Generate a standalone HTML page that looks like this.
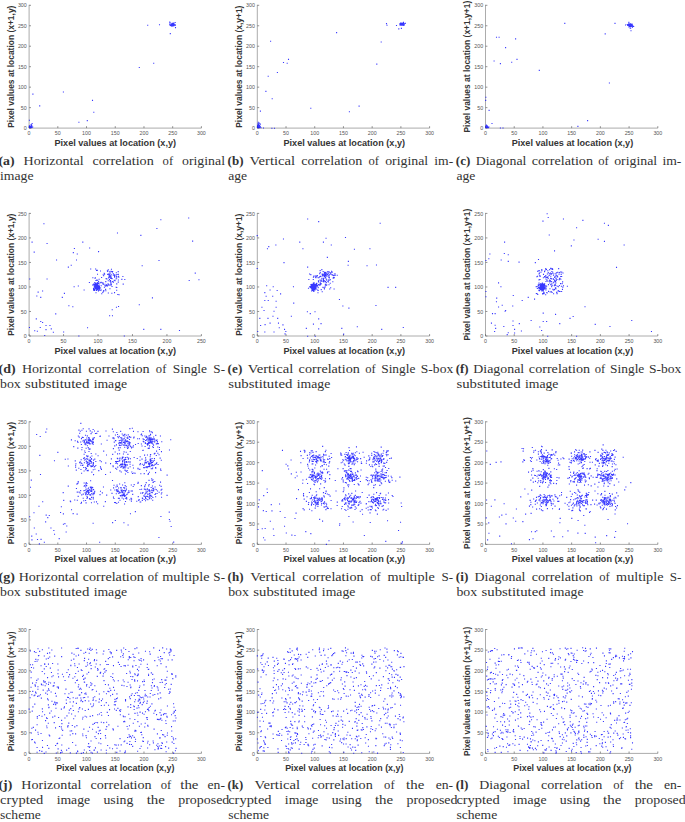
<!DOCTYPE html>
<html><head><meta charset="utf-8"><style>
html,body{margin:0;padding:0;background:#fff;width:685px;height:822px;overflow:hidden}
svg{display:block}
text{font-family:"Liberation Sans",sans-serif}
text.c{font-family:"Liberation Serif",serif;font-size:12.6px;fill:#333}
</style></head><body>
<svg width="685" height="822" viewBox="0 0 685 822">

<path d="M29.1 4.8V128.1H201.4" fill="none" stroke="#acacac" stroke-width="1"/>
<path d="M29.1 128.1v-1.9M57.82 128.1v-1.9M86.53 128.1v-1.9M115.25 128.1v-1.9M143.97 128.1v-1.9M172.68 128.1v-1.9M201.4 128.1v-1.9M29.1 128.1h1.9M29.1 107.63h1.9M29.1 87.17h1.9M29.1 66.7h1.9M29.1 46.23h1.9M29.1 25.77h1.9M29.1 5.3h1.9" stroke="#666" stroke-width="0.7"/>
<g transform="scale(1.08,1)" font-size="4.9" fill="#555555"><text x="26.94" y="135.4" text-anchor="middle">0</text><text x="53.53" y="135.4" text-anchor="middle">50</text><text x="80.12" y="135.4" text-anchor="middle">100</text><text x="106.71" y="135.4" text-anchor="middle">150</text><text x="133.3" y="135.4" text-anchor="middle">200</text><text x="159.89" y="135.4" text-anchor="middle">250</text><text x="186.48" y="135.4" text-anchor="middle">300</text><text x="24.72" y="130.3" text-anchor="end">0</text><text x="24.72" y="109.83" text-anchor="end">50</text><text x="24.72" y="89.37" text-anchor="end">100</text><text x="24.72" y="68.9" text-anchor="end">150</text><text x="24.72" y="48.43" text-anchor="end">200</text><text x="24.72" y="27.97" text-anchor="end">250</text><text x="24.72" y="7.5" text-anchor="end">300</text></g>
<text transform="translate(115.25,145.9) scale(1.08,1)" text-anchor="middle" font-weight="bold" font-size="8.45" fill="#353535">Pixel values at location (x,y)</text>
<text transform="translate(13.6,66.7) scale(1.08,1) rotate(-90)" text-anchor="middle" font-weight="bold" font-size="8.45" fill="#353535">Pixel values at location (x+1,y)</text>
<path d="M147.15 24.65h1.1v1.1h-1.1zM158.95 24.15h1.1v1.1h-1.1zM169.75 33.05h1.1v1.1h-1.1zM174.95 27.05h1.1v1.1h-1.1zM153.15 62.75h1.1v1.1h-1.1zM138.75 66.95h1.1v1.1h-1.1zM32.35 93.55h1.1v1.1h-1.1zM62.85 91.45h1.1v1.1h-1.1zM39.15 105.35h1.1v1.1h-1.1zM91.95 99.85h1.1v1.1h-1.1zM93.25 111.65h1.1v1.1h-1.1zM78.35 121.65h1.1v1.1h-1.1zM86.75 120.05h1.1v1.1h-1.1zM28.85 119.75h1.1v1.1h-1.1zM172.02 24.56h1.1v1.1h-1.1zM172.07 23.73h1.1v1.1h-1.1zM170.87 23.84h1.1v1.1h-1.1zM174.34 24.47h1.1v1.1h-1.1zM174.21 24.3h1.1v1.1h-1.1zM173.12 24.24h1.1v1.1h-1.1zM169.62 24.91h1.1v1.1h-1.1zM173.31 24.55h1.1v1.1h-1.1zM169.57 22.31h1.1v1.1h-1.1zM170.94 23.58h1.1v1.1h-1.1zM172.97 24h1.1v1.1h-1.1zM173.34 23.41h1.1v1.1h-1.1zM172.97 24.44h1.1v1.1h-1.1zM171.33 25.77h1.1v1.1h-1.1zM173.4 25.25h1.1v1.1h-1.1zM171.4 23.31h1.1v1.1h-1.1zM171.87 23.94h1.1v1.1h-1.1zM173.52 24.3h1.1v1.1h-1.1zM171.69 23.09h1.1v1.1h-1.1zM171.56 25.27h1.1v1.1h-1.1zM171.08 24.29h1.1v1.1h-1.1zM173.18 22.56h1.1v1.1h-1.1zM172.53 25.36h1.1v1.1h-1.1zM169.03 23.73h1.1v1.1h-1.1zM172.27 23.23h1.1v1.1h-1.1zM173.3 23.99h1.1v1.1h-1.1zM169.96 24.88h1.1v1.1h-1.1zM173.59 25h1.1v1.1h-1.1zM174.9 24.41h1.1v1.1h-1.1zM172.65 22.75h1.1v1.1h-1.1zM173.5 23.44h1.1v1.1h-1.1zM171.68 22.79h1.1v1.1h-1.1zM170.81 23.52h1.1v1.1h-1.1zM174.64 22.02h1.1v1.1h-1.1zM169.97 24.29h1.1v1.1h-1.1zM174.9 24.63h1.1v1.1h-1.1zM169.22 21.53h1.1v1.1h-1.1zM173.06 23.31h1.1v1.1h-1.1zM170.55 25.03h1.1v1.1h-1.1zM174.32 24.21h1.1v1.1h-1.1zM30 126.57h1.1v1.1h-1.1zM31.34 126.79h1.1v1.1h-1.1zM30.27 126.71h1.1v1.1h-1.1zM28.85 127.25h1.1v1.1h-1.1zM30.71 126.69h1.1v1.1h-1.1zM28.85 125.29h1.1v1.1h-1.1zM30.59 123.88h1.1v1.1h-1.1zM29.57 127.25h1.1v1.1h-1.1zM28.85 127.25h1.1v1.1h-1.1zM30.3 125.87h1.1v1.1h-1.1zM30.07 126.83h1.1v1.1h-1.1zM29.87 127.25h1.1v1.1h-1.1zM29.09 125.55h1.1v1.1h-1.1zM30.79 126.08h1.1v1.1h-1.1zM28.87 127.19h1.1v1.1h-1.1zM31.22 125.52h1.1v1.1h-1.1zM28.85 125.89h1.1v1.1h-1.1zM29.6 125.69h1.1v1.1h-1.1zM31.15 124.82h1.1v1.1h-1.1zM31.01 124.53h1.1v1.1h-1.1zM28.96 126.81h1.1v1.1h-1.1zM30.88 127.08h1.1v1.1h-1.1zM30.1 126.22h1.1v1.1h-1.1zM29.9 126.74h1.1v1.1h-1.1zM29.57 126.38h1.1v1.1h-1.1zM30.32 126.05h1.1v1.1h-1.1zM30.51 126.73h1.1v1.1h-1.1zM31.76 126.44h1.1v1.1h-1.1zM29.32 125.6h1.1v1.1h-1.1zM29.74 127.16h1.1v1.1h-1.1zM29.41 126.51h1.1v1.1h-1.1zM31.59 122.97h1.1v1.1h-1.1zM28.85 126.34h1.1v1.1h-1.1zM30.15 126.34h1.1v1.1h-1.1zM29.32 126.84h1.1v1.1h-1.1zM30.03 125.42h1.1v1.1h-1.1zM32.18 126.48h1.1v1.1h-1.1zM29.2 125.93h1.1v1.1h-1.1zM29.52 125.97h1.1v1.1h-1.1zM28.85 125.47h1.1v1.1h-1.1z" fill="#0000ff" fill-opacity="0.78"/>
<text class="c" x="-1.5" y="165" textLength="16.16" lengthAdjust="spacingAndGlyphs" font-weight="bold">(a)</text>
<text class="c" x="23.54" y="165" textLength="60.08" lengthAdjust="spacingAndGlyphs">Horizontal</text>
<text class="c" x="92.5" y="165" textLength="61.21" lengthAdjust="spacingAndGlyphs">correlation</text>
<text class="c" x="162.59" y="165" textLength="10.55" lengthAdjust="spacingAndGlyphs">of</text>
<text class="c" x="182.02" y="165" textLength="42.98" lengthAdjust="spacingAndGlyphs">original</text>
<text class="c" x="0" y="179.85" textLength="33.48" lengthAdjust="spacingAndGlyphs">image</text>
<path d="M257.3 4.8V128.1H429.6" fill="none" stroke="#acacac" stroke-width="1"/>
<path d="M257.3 128.1v-1.9M286.02 128.1v-1.9M314.73 128.1v-1.9M343.45 128.1v-1.9M372.17 128.1v-1.9M400.88 128.1v-1.9M429.6 128.1v-1.9M257.3 128.1h1.9M257.3 107.63h1.9M257.3 87.17h1.9M257.3 66.7h1.9M257.3 46.23h1.9M257.3 25.77h1.9M257.3 5.3h1.9" stroke="#666" stroke-width="0.7"/>
<g transform="scale(1.08,1)" font-size="4.9" fill="#555555"><text x="238.24" y="135.4" text-anchor="middle">0</text><text x="264.83" y="135.4" text-anchor="middle">50</text><text x="291.42" y="135.4" text-anchor="middle">100</text><text x="318.01" y="135.4" text-anchor="middle">150</text><text x="344.6" y="135.4" text-anchor="middle">200</text><text x="371.19" y="135.4" text-anchor="middle">250</text><text x="397.78" y="135.4" text-anchor="middle">300</text><text x="236.02" y="130.3" text-anchor="end">0</text><text x="236.02" y="109.83" text-anchor="end">50</text><text x="236.02" y="89.37" text-anchor="end">100</text><text x="236.02" y="68.9" text-anchor="end">150</text><text x="236.02" y="48.43" text-anchor="end">200</text><text x="236.02" y="27.97" text-anchor="end">250</text><text x="236.02" y="7.5" text-anchor="end">300</text></g>
<text transform="translate(344.25,145.9) scale(1.08,1)" text-anchor="middle" font-weight="bold" font-size="8.45" fill="#353535">Pixel values at location (x,y)</text>
<text transform="translate(241.8,66.7) scale(1.08,1) rotate(-90)" text-anchor="middle" font-weight="bold" font-size="8.45" fill="#353535">Pixel values at location (x,y+1)</text>
<path d="M385.95 23.05h1.1v1.1h-1.1zM386.45 24.65h1.1v1.1h-1.1zM395.95 24.95h1.1v1.1h-1.1zM398.25 28.35h1.1v1.1h-1.1zM400.85 27.85h1.1v1.1h-1.1zM336.05 32.05h1.1v1.1h-1.1zM270.05 40.75h1.1v1.1h-1.1zM380.65 41.45h1.1v1.1h-1.1zM287.95 58.85h1.1v1.1h-1.1zM282.95 61.95h1.1v1.1h-1.1zM286.65 62.75h1.1v1.1h-1.1zM376.25 63.55h1.1v1.1h-1.1zM276.85 71.95h1.1v1.1h-1.1zM267.65 75.65h1.1v1.1h-1.1zM265.35 90.85h1.1v1.1h-1.1zM271.65 98.25h1.1v1.1h-1.1zM310.25 107.75h1.1v1.1h-1.1zM358.55 105.55h1.1v1.1h-1.1zM348.85 111.15h1.1v1.1h-1.1zM259.85 110.55h1.1v1.1h-1.1zM257.75 121.65h1.1v1.1h-1.1zM262.95 127.45h1.1v1.1h-1.1zM271.35 127.65h1.1v1.1h-1.1zM273.95 127.65h1.1v1.1h-1.1zM402.86 22.83h1.1v1.1h-1.1zM401.68 24.32h1.1v1.1h-1.1zM402.69 24.69h1.1v1.1h-1.1zM399.88 23.4h1.1v1.1h-1.1zM401.37 24.09h1.1v1.1h-1.1zM402.95 21.77h1.1v1.1h-1.1zM402.95 22.64h1.1v1.1h-1.1zM402.5 22.61h1.1v1.1h-1.1zM401.94 24.49h1.1v1.1h-1.1zM401.59 23.78h1.1v1.1h-1.1zM402.63 23.75h1.1v1.1h-1.1zM401.65 24.72h1.1v1.1h-1.1zM402.9 23.44h1.1v1.1h-1.1zM404.77 22.85h1.1v1.1h-1.1zM402.76 23.46h1.1v1.1h-1.1zM401.9 24.14h1.1v1.1h-1.1zM401.99 24.1h1.1v1.1h-1.1zM400.07 22.59h1.1v1.1h-1.1zM402.43 22.98h1.1v1.1h-1.1zM400.62 22.62h1.1v1.1h-1.1zM403.14 24.17h1.1v1.1h-1.1zM403.37 22.99h1.1v1.1h-1.1zM401.75 22.85h1.1v1.1h-1.1zM402.59 24.76h1.1v1.1h-1.1zM400.77 24.74h1.1v1.1h-1.1zM402.84 23.53h1.1v1.1h-1.1zM399.58 24.63h1.1v1.1h-1.1zM401.64 23.23h1.1v1.1h-1.1zM402.19 23.94h1.1v1.1h-1.1zM403.4 22.94h1.1v1.1h-1.1zM403 24.69h1.1v1.1h-1.1zM403.35 23.52h1.1v1.1h-1.1zM400.93 24.36h1.1v1.1h-1.1zM401.88 23.74h1.1v1.1h-1.1zM403.32 23.47h1.1v1.1h-1.1zM399.22 23.38h1.1v1.1h-1.1zM399.71 24.22h1.1v1.1h-1.1zM402.1 23.22h1.1v1.1h-1.1zM401.74 24.23h1.1v1.1h-1.1zM401.84 24.58h1.1v1.1h-1.1zM401.68 24.38h1.1v1.1h-1.1zM403.39 24.78h1.1v1.1h-1.1zM401.01 24.27h1.1v1.1h-1.1zM399.69 22.89h1.1v1.1h-1.1zM399.59 24.4h1.1v1.1h-1.1zM400.39 23.64h1.1v1.1h-1.1zM401.54 23.63h1.1v1.1h-1.1zM401.1 23.81h1.1v1.1h-1.1zM403.72 23.68h1.1v1.1h-1.1zM402.33 24.35h1.1v1.1h-1.1zM257.87 124.21h1.1v1.1h-1.1zM257.55 127.25h1.1v1.1h-1.1zM257.05 125.07h1.1v1.1h-1.1zM258.96 126.88h1.1v1.1h-1.1zM258.06 126.9h1.1v1.1h-1.1zM258.2 124.32h1.1v1.1h-1.1zM257.05 125.02h1.1v1.1h-1.1zM258.88 125.11h1.1v1.1h-1.1zM257.24 124.85h1.1v1.1h-1.1zM257.05 125.7h1.1v1.1h-1.1zM257.05 126.32h1.1v1.1h-1.1zM257.05 126.28h1.1v1.1h-1.1zM257.47 123.33h1.1v1.1h-1.1zM258.7 125.49h1.1v1.1h-1.1zM257.05 124.71h1.1v1.1h-1.1zM258.31 125.25h1.1v1.1h-1.1zM258.75 126.82h1.1v1.1h-1.1zM258.65 126.27h1.1v1.1h-1.1zM259.25 126.71h1.1v1.1h-1.1zM258.46 123.14h1.1v1.1h-1.1zM258.86 127.25h1.1v1.1h-1.1zM257.78 125.24h1.1v1.1h-1.1zM259.8 123.56h1.1v1.1h-1.1zM258.47 127.25h1.1v1.1h-1.1zM257.22 126.75h1.1v1.1h-1.1zM259.75 125.69h1.1v1.1h-1.1zM258.56 127.02h1.1v1.1h-1.1zM257.23 125.73h1.1v1.1h-1.1zM258.31 126.92h1.1v1.1h-1.1zM258.02 125.6h1.1v1.1h-1.1zM257.14 125.38h1.1v1.1h-1.1zM258.85 125.98h1.1v1.1h-1.1zM257.28 124.76h1.1v1.1h-1.1zM260.45 127.25h1.1v1.1h-1.1zM258.62 122.48h1.1v1.1h-1.1zM258.61 126.47h1.1v1.1h-1.1zM259.57 126.41h1.1v1.1h-1.1zM257.99 126.53h1.1v1.1h-1.1zM257.05 127.19h1.1v1.1h-1.1zM258.34 124.94h1.1v1.1h-1.1z" fill="#0000ff" fill-opacity="0.78"/>
<text class="c" x="227.6" y="165" textLength="15.87" lengthAdjust="spacingAndGlyphs" font-weight="bold">(b)</text>
<text class="c" x="249.58" y="165" textLength="45.52" lengthAdjust="spacingAndGlyphs">Vertical</text>
<text class="c" x="301.21" y="165" textLength="61.21" lengthAdjust="spacingAndGlyphs">correlation</text>
<text class="c" x="368.53" y="165" textLength="10.55" lengthAdjust="spacingAndGlyphs">of</text>
<text class="c" x="385.19" y="165" textLength="42.98" lengthAdjust="spacingAndGlyphs">original</text>
<text class="c" x="434.28" y="165" textLength="18.92" lengthAdjust="spacingAndGlyphs">im-</text>
<text class="c" x="228.2" y="179.85" textLength="18.92" lengthAdjust="spacingAndGlyphs">age</text>
<path d="M485.5 4.8V128.1H657.8" fill="none" stroke="#acacac" stroke-width="1"/>
<path d="M485.5 128.1v-1.9M514.22 128.1v-1.9M542.93 128.1v-1.9M571.65 128.1v-1.9M600.37 128.1v-1.9M629.08 128.1v-1.9M657.8 128.1v-1.9M485.5 128.1h1.9M485.5 107.63h1.9M485.5 87.17h1.9M485.5 66.7h1.9M485.5 46.23h1.9M485.5 25.77h1.9M485.5 5.3h1.9" stroke="#666" stroke-width="0.7"/>
<g transform="scale(1.08,1)" font-size="4.9" fill="#555555"><text x="449.54" y="135.4" text-anchor="middle">0</text><text x="476.13" y="135.4" text-anchor="middle">50</text><text x="502.72" y="135.4" text-anchor="middle">100</text><text x="529.31" y="135.4" text-anchor="middle">150</text><text x="555.9" y="135.4" text-anchor="middle">200</text><text x="582.48" y="135.4" text-anchor="middle">250</text><text x="609.07" y="135.4" text-anchor="middle">300</text><text x="447.31" y="130.3" text-anchor="end">0</text><text x="447.31" y="109.83" text-anchor="end">50</text><text x="447.31" y="89.37" text-anchor="end">100</text><text x="447.31" y="68.9" text-anchor="end">150</text><text x="447.31" y="48.43" text-anchor="end">200</text><text x="447.31" y="27.97" text-anchor="end">250</text><text x="447.31" y="7.5" text-anchor="end">300</text></g>
<text transform="translate(572.45,145.9) scale(1.08,1)" text-anchor="middle" font-weight="bold" font-size="8.45" fill="#353535">Pixel values at location (x,y)</text>
<text transform="translate(470,66.7) scale(1.08,1) rotate(-90)" text-anchor="middle" font-weight="bold" font-size="8.45" fill="#353535">Pixel values at location (x+1,y+1)</text>
<path d="M564.25 22.85h1.1v1.1h-1.1zM614.45 22.85h1.1v1.1h-1.1zM624.95 24.45h1.1v1.1h-1.1zM630.45 30.15h1.1v1.1h-1.1zM604.65 33.35h1.1v1.1h-1.1zM495.95 36.75h1.1v1.1h-1.1zM498.55 36.75h1.1v1.1h-1.1zM515.05 38.35h1.1v1.1h-1.1zM505.05 47.05h1.1v1.1h-1.1zM493.55 60.45h1.1v1.1h-1.1zM499.85 63.05h1.1v1.1h-1.1zM511.15 61.75h1.1v1.1h-1.1zM516.45 58.85h1.1v1.1h-1.1zM538.75 69.85h1.1v1.1h-1.1zM608.85 82.45h1.1v1.1h-1.1zM485.35 96.65h1.1v1.1h-1.1zM485.15 99.85h1.1v1.1h-1.1zM488.55 109.85h1.1v1.1h-1.1zM491.45 122.95h1.1v1.1h-1.1zM587.05 120.05h1.1v1.1h-1.1zM577.35 125.85h1.1v1.1h-1.1zM499.85 127.45h1.1v1.1h-1.1zM502.45 127.45h1.1v1.1h-1.1zM631.94 26.74h1.1v1.1h-1.1zM627.85 24.02h1.1v1.1h-1.1zM630.39 24.95h1.1v1.1h-1.1zM629.35 23.68h1.1v1.1h-1.1zM633.13 25.89h1.1v1.1h-1.1zM628.16 23.27h1.1v1.1h-1.1zM632.5 25.84h1.1v1.1h-1.1zM632.68 25.64h1.1v1.1h-1.1zM628.64 25.04h1.1v1.1h-1.1zM626.71 23.93h1.1v1.1h-1.1zM629.86 25.33h1.1v1.1h-1.1zM628.86 24.61h1.1v1.1h-1.1zM630.64 25.16h1.1v1.1h-1.1zM630.91 24.98h1.1v1.1h-1.1zM629.46 25.62h1.1v1.1h-1.1zM630.02 23.84h1.1v1.1h-1.1zM629.01 24.75h1.1v1.1h-1.1zM629.79 24.92h1.1v1.1h-1.1zM629.95 24.94h1.1v1.1h-1.1zM629.75 23.37h1.1v1.1h-1.1zM630.58 25.91h1.1v1.1h-1.1zM630.6 24.54h1.1v1.1h-1.1zM630.62 23.69h1.1v1.1h-1.1zM627.11 24.82h1.1v1.1h-1.1zM628.55 25.56h1.1v1.1h-1.1zM628.32 21.86h1.1v1.1h-1.1zM628.39 26.49h1.1v1.1h-1.1zM629.38 23.24h1.1v1.1h-1.1zM628.8 25.32h1.1v1.1h-1.1zM630.7 24.94h1.1v1.1h-1.1zM632.18 25.53h1.1v1.1h-1.1zM629.92 25.41h1.1v1.1h-1.1zM632.43 25.82h1.1v1.1h-1.1zM631.49 23.56h1.1v1.1h-1.1zM629.73 25.55h1.1v1.1h-1.1zM629.51 25.93h1.1v1.1h-1.1zM630.84 25.75h1.1v1.1h-1.1zM629.63 27.55h1.1v1.1h-1.1zM631.81 24.51h1.1v1.1h-1.1zM630.09 27.6h1.1v1.1h-1.1zM629.44 25.71h1.1v1.1h-1.1zM631.42 24.76h1.1v1.1h-1.1zM628.2 24.96h1.1v1.1h-1.1zM630.49 25.99h1.1v1.1h-1.1zM631.12 24.78h1.1v1.1h-1.1zM631.23 25.34h1.1v1.1h-1.1zM630.26 24.81h1.1v1.1h-1.1zM629.58 25.5h1.1v1.1h-1.1zM628.37 24.06h1.1v1.1h-1.1zM629.96 23.14h1.1v1.1h-1.1zM485.61 125.14h1.1v1.1h-1.1zM485.37 127.2h1.1v1.1h-1.1zM486.62 126.71h1.1v1.1h-1.1zM485.82 125.62h1.1v1.1h-1.1zM487.88 127.16h1.1v1.1h-1.1zM487.14 126.04h1.1v1.1h-1.1zM485.86 125.29h1.1v1.1h-1.1zM486.83 127.25h1.1v1.1h-1.1zM485.25 126.71h1.1v1.1h-1.1zM486.68 125.34h1.1v1.1h-1.1zM485.25 125.9h1.1v1.1h-1.1zM485.42 125.63h1.1v1.1h-1.1zM486.08 126.95h1.1v1.1h-1.1zM486.68 127.25h1.1v1.1h-1.1zM487.55 127.25h1.1v1.1h-1.1zM485.25 126.35h1.1v1.1h-1.1zM485.25 125.89h1.1v1.1h-1.1zM485.97 126.75h1.1v1.1h-1.1zM486.54 125.48h1.1v1.1h-1.1zM485.25 126.73h1.1v1.1h-1.1zM485.85 126.5h1.1v1.1h-1.1zM485.99 126.14h1.1v1.1h-1.1zM486.75 127.03h1.1v1.1h-1.1zM485.96 126.21h1.1v1.1h-1.1zM485.88 124.57h1.1v1.1h-1.1zM485.25 126.78h1.1v1.1h-1.1zM485.25 126.91h1.1v1.1h-1.1zM486.2 125.65h1.1v1.1h-1.1zM485.8 126.5h1.1v1.1h-1.1zM486.51 127.24h1.1v1.1h-1.1zM486.01 126.07h1.1v1.1h-1.1zM485.91 126.7h1.1v1.1h-1.1zM486.78 126.99h1.1v1.1h-1.1zM485.33 125.67h1.1v1.1h-1.1zM485.68 126.16h1.1v1.1h-1.1zM485.25 126.66h1.1v1.1h-1.1zM485.56 126.83h1.1v1.1h-1.1zM486.57 126.42h1.1v1.1h-1.1zM488.37 126.49h1.1v1.1h-1.1zM487.15 126.85h1.1v1.1h-1.1z" fill="#0000ff" fill-opacity="0.78"/>
<text class="c" x="455.8" y="165" textLength="14.53" lengthAdjust="spacingAndGlyphs" font-weight="bold">(c)</text>
<text class="c" x="475.66" y="165" textLength="50.76" lengthAdjust="spacingAndGlyphs">Diagonal</text>
<text class="c" x="531.75" y="165" textLength="61.21" lengthAdjust="spacingAndGlyphs">correlation</text>
<text class="c" x="598.29" y="165" textLength="10.55" lengthAdjust="spacingAndGlyphs">of</text>
<text class="c" x="614.17" y="165" textLength="42.98" lengthAdjust="spacingAndGlyphs">original</text>
<text class="c" x="662.48" y="165" textLength="18.92" lengthAdjust="spacingAndGlyphs">im-</text>
<text class="c" x="456.4" y="179.85" textLength="18.92" lengthAdjust="spacingAndGlyphs">age</text>
<path d="M29.1 212.9V336H201.4" fill="none" stroke="#acacac" stroke-width="1"/>
<path d="M29.1 336v-1.9M63.56 336v-1.9M98.02 336v-1.9M132.48 336v-1.9M166.94 336v-1.9M201.4 336v-1.9M29.1 336h1.9M29.1 311.48h1.9M29.1 286.96h1.9M29.1 262.44h1.9M29.1 237.92h1.9M29.1 213.4h1.9" stroke="#666" stroke-width="0.7"/>
<g transform="scale(1.08,1)" font-size="4.9" fill="#555555"><text x="26.94" y="343.3" text-anchor="middle">0</text><text x="58.85" y="343.3" text-anchor="middle">50</text><text x="90.76" y="343.3" text-anchor="middle">100</text><text x="122.67" y="343.3" text-anchor="middle">150</text><text x="154.57" y="343.3" text-anchor="middle">200</text><text x="186.48" y="343.3" text-anchor="middle">250</text><text x="24.72" y="338.2" text-anchor="end">0</text><text x="24.72" y="313.68" text-anchor="end">50</text><text x="24.72" y="289.16" text-anchor="end">100</text><text x="24.72" y="264.64" text-anchor="end">150</text><text x="24.72" y="240.12" text-anchor="end">200</text><text x="24.72" y="215.6" text-anchor="end">250</text></g>
<text transform="translate(115.25,353.8) scale(1.08,1)" text-anchor="middle" font-weight="bold" font-size="8.45" fill="#353535">Pixel values at location (x,y)</text>
<text transform="translate(13.6,274.7) scale(1.08,1) rotate(-90)" text-anchor="middle" font-weight="bold" font-size="8.45" fill="#353535">Pixel values at location (x+1,y)</text>
<path d="M97.94 290.37h1.1v1.1h-1.1zM94.85 286h1.1v1.1h-1.1zM97.09 282.51h1.1v1.1h-1.1zM96.63 284.28h1.1v1.1h-1.1zM97.36 284.83h1.1v1.1h-1.1zM96.94 286.67h1.1v1.1h-1.1zM96.93 288.21h1.1v1.1h-1.1zM98.05 288.11h1.1v1.1h-1.1zM96.5 282.87h1.1v1.1h-1.1zM95.72 286.38h1.1v1.1h-1.1zM98.02 286.37h1.1v1.1h-1.1zM94.76 285.98h1.1v1.1h-1.1zM97.05 285.23h1.1v1.1h-1.1zM94.81 283.49h1.1v1.1h-1.1zM98.85 286.38h1.1v1.1h-1.1zM96.54 287.12h1.1v1.1h-1.1zM98.43 287.59h1.1v1.1h-1.1zM97.21 287.21h1.1v1.1h-1.1zM94.94 285.21h1.1v1.1h-1.1zM98.3 286.43h1.1v1.1h-1.1zM94.97 285.06h1.1v1.1h-1.1zM96.01 285.89h1.1v1.1h-1.1zM98.61 284.52h1.1v1.1h-1.1zM95.23 282.6h1.1v1.1h-1.1zM96.1 285.1h1.1v1.1h-1.1zM95.02 286.48h1.1v1.1h-1.1zM93.2 283.43h1.1v1.1h-1.1zM98.35 288.44h1.1v1.1h-1.1zM93.6 289.11h1.1v1.1h-1.1zM98.04 287.18h1.1v1.1h-1.1zM95.99 286.93h1.1v1.1h-1.1zM95.89 288.22h1.1v1.1h-1.1zM96.13 288.81h1.1v1.1h-1.1zM95.97 285.9h1.1v1.1h-1.1zM96.87 286.8h1.1v1.1h-1.1zM94.6 286.14h1.1v1.1h-1.1zM95.29 283.8h1.1v1.1h-1.1zM97.36 286.6h1.1v1.1h-1.1zM95.31 287.58h1.1v1.1h-1.1zM94.54 287h1.1v1.1h-1.1zM96.58 285.55h1.1v1.1h-1.1zM97.03 282.91h1.1v1.1h-1.1zM94.93 286.39h1.1v1.1h-1.1zM100.71 289.52h1.1v1.1h-1.1zM95.23 286.13h1.1v1.1h-1.1zM96.35 285.73h1.1v1.1h-1.1zM95.7 285.8h1.1v1.1h-1.1zM96.18 285.12h1.1v1.1h-1.1zM92.96 287.89h1.1v1.1h-1.1zM96.09 288.13h1.1v1.1h-1.1zM94.36 285.36h1.1v1.1h-1.1zM95.02 285.35h1.1v1.1h-1.1zM97.33 285.9h1.1v1.1h-1.1zM96.93 286.58h1.1v1.1h-1.1zM93.76 286.46h1.1v1.1h-1.1zM96.84 287.29h1.1v1.1h-1.1zM95.93 285.16h1.1v1.1h-1.1zM94.64 285.34h1.1v1.1h-1.1zM99.17 287.33h1.1v1.1h-1.1zM96.33 286.66h1.1v1.1h-1.1zM98.64 285.88h1.1v1.1h-1.1zM97.58 287.56h1.1v1.1h-1.1zM96.06 286.43h1.1v1.1h-1.1zM93.15 284.01h1.1v1.1h-1.1zM97.58 289.33h1.1v1.1h-1.1zM97.32 286.63h1.1v1.1h-1.1zM96.83 285.8h1.1v1.1h-1.1zM93.61 286.76h1.1v1.1h-1.1zM98.56 287.37h1.1v1.1h-1.1zM94.4 288.68h1.1v1.1h-1.1zM94.07 285.85h1.1v1.1h-1.1zM98.89 285.69h1.1v1.1h-1.1zM96.5 282.69h1.1v1.1h-1.1zM95.23 287.53h1.1v1.1h-1.1zM96.97 285.5h1.1v1.1h-1.1zM94.41 288.36h1.1v1.1h-1.1zM96.57 286h1.1v1.1h-1.1zM93.93 286.75h1.1v1.1h-1.1zM95.19 285.64h1.1v1.1h-1.1zM95.9 286.55h1.1v1.1h-1.1zM95.51 284.65h1.1v1.1h-1.1zM98.39 287.02h1.1v1.1h-1.1zM97.49 287.67h1.1v1.1h-1.1zM96.21 285.16h1.1v1.1h-1.1zM98.6 287.05h1.1v1.1h-1.1zM95.97 286.08h1.1v1.1h-1.1zM93.61 286.38h1.1v1.1h-1.1zM94.97 285.79h1.1v1.1h-1.1zM94.22 289.71h1.1v1.1h-1.1zM96.15 285.98h1.1v1.1h-1.1zM95.18 284.93h1.1v1.1h-1.1zM95.64 287.42h1.1v1.1h-1.1zM96.88 289.02h1.1v1.1h-1.1zM94.97 286.44h1.1v1.1h-1.1zM97.5 286.68h1.1v1.1h-1.1zM96.6 287.5h1.1v1.1h-1.1zM96.59 283.64h1.1v1.1h-1.1zM94.96 282.46h1.1v1.1h-1.1zM95.03 286.38h1.1v1.1h-1.1zM96.38 284.7h1.1v1.1h-1.1zM94.05 289.91h1.1v1.1h-1.1zM97.09 285.08h1.1v1.1h-1.1zM97.12 282.02h1.1v1.1h-1.1zM96.43 285.99h1.1v1.1h-1.1zM97.63 285.8h1.1v1.1h-1.1zM98.84 288.47h1.1v1.1h-1.1zM95.47 292.15h1.1v1.1h-1.1zM97.44 287.03h1.1v1.1h-1.1zM97.62 282.82h1.1v1.1h-1.1zM96.08 286.83h1.1v1.1h-1.1zM95.27 287.81h1.1v1.1h-1.1zM95.05 285.34h1.1v1.1h-1.1zM96.15 286.3h1.1v1.1h-1.1zM95.8 284.89h1.1v1.1h-1.1zM96.91 286.65h1.1v1.1h-1.1zM97.19 286.66h1.1v1.1h-1.1zM94.18 283.98h1.1v1.1h-1.1zM96.86 288.01h1.1v1.1h-1.1zM97.88 285.83h1.1v1.1h-1.1zM93.5 283.73h1.1v1.1h-1.1zM96.64 284.92h1.1v1.1h-1.1zM96.42 286.66h1.1v1.1h-1.1zM93.53 284.79h1.1v1.1h-1.1zM96.14 286.89h1.1v1.1h-1.1zM96.67 286.28h1.1v1.1h-1.1zM97.21 287.03h1.1v1.1h-1.1zM96.03 289.98h1.1v1.1h-1.1zM95.39 285.28h1.1v1.1h-1.1zM98.3 287.02h1.1v1.1h-1.1zM95.89 283.77h1.1v1.1h-1.1zM95.55 285.19h1.1v1.1h-1.1zM98.87 286.34h1.1v1.1h-1.1zM98.12 287.59h1.1v1.1h-1.1zM96.44 286.54h1.1v1.1h-1.1zM96.28 284.53h1.1v1.1h-1.1zM100.04 287.52h1.1v1.1h-1.1zM95.14 285.58h1.1v1.1h-1.1zM94.35 285.58h1.1v1.1h-1.1zM97.04 286.87h1.1v1.1h-1.1zM96.97 288.99h1.1v1.1h-1.1zM97.35 288.99h1.1v1.1h-1.1zM94.94 287.34h1.1v1.1h-1.1zM95.43 284.98h1.1v1.1h-1.1zM96.23 287.07h1.1v1.1h-1.1zM96.99 283.77h1.1v1.1h-1.1zM96.1 285.8h1.1v1.1h-1.1zM98.14 285.96h1.1v1.1h-1.1zM93.97 282.26h1.1v1.1h-1.1zM99.74 289.72h1.1v1.1h-1.1zM96.03 285.71h1.1v1.1h-1.1zM97.69 285.29h1.1v1.1h-1.1zM95.64 288.17h1.1v1.1h-1.1zM96.26 284.69h1.1v1.1h-1.1zM94.29 288.12h1.1v1.1h-1.1zM96.05 289.64h1.1v1.1h-1.1zM95.66 287.14h1.1v1.1h-1.1zM96.84 287.58h1.1v1.1h-1.1zM94.63 287.07h1.1v1.1h-1.1zM96.01 287.52h1.1v1.1h-1.1zM96.11 285.16h1.1v1.1h-1.1zM117.66 271.1h1.1v1.1h-1.1zM108.16 277.35h1.1v1.1h-1.1zM99.96 270.52h1.1v1.1h-1.1zM108.45 276.21h1.1v1.1h-1.1zM114.46 280.11h1.1v1.1h-1.1zM114.18 276.19h1.1v1.1h-1.1zM103.13 275.25h1.1v1.1h-1.1zM117.71 281.61h1.1v1.1h-1.1zM115.84 275.5h1.1v1.1h-1.1zM114.23 274.81h1.1v1.1h-1.1zM118.23 276.77h1.1v1.1h-1.1zM116.16 277.32h1.1v1.1h-1.1zM115.46 278.51h1.1v1.1h-1.1zM111.42 271.02h1.1v1.1h-1.1zM114.09 276.58h1.1v1.1h-1.1zM106.42 278.44h1.1v1.1h-1.1zM112.88 273.35h1.1v1.1h-1.1zM114 274.57h1.1v1.1h-1.1zM111.74 272.13h1.1v1.1h-1.1zM110.06 277.73h1.1v1.1h-1.1zM116.23 275.92h1.1v1.1h-1.1zM110.6 277.81h1.1v1.1h-1.1zM110.7 274.28h1.1v1.1h-1.1zM113.65 279.67h1.1v1.1h-1.1zM114 275.58h1.1v1.1h-1.1zM107.12 273.84h1.1v1.1h-1.1zM110.59 277.1h1.1v1.1h-1.1zM115.78 272.23h1.1v1.1h-1.1zM108.62 274.82h1.1v1.1h-1.1zM107.72 269.3h1.1v1.1h-1.1zM109.56 272.6h1.1v1.1h-1.1zM108.82 273.72h1.1v1.1h-1.1zM122.65 283.59h1.1v1.1h-1.1zM109.85 274.64h1.1v1.1h-1.1zM111.5 278.08h1.1v1.1h-1.1zM122.33 275.88h1.1v1.1h-1.1zM104.01 273.6h1.1v1.1h-1.1zM103.64 272.73h1.1v1.1h-1.1zM109.16 275.69h1.1v1.1h-1.1zM118.03 275.76h1.1v1.1h-1.1zM105.23 281.1h1.1v1.1h-1.1zM117.65 273.93h1.1v1.1h-1.1zM108.01 273.58h1.1v1.1h-1.1zM114.34 274.21h1.1v1.1h-1.1zM101.05 277h1.1v1.1h-1.1zM116.29 273.95h1.1v1.1h-1.1zM116.2 283.34h1.1v1.1h-1.1zM112.76 274.66h1.1v1.1h-1.1zM124.25 278.92h1.1v1.1h-1.1zM110.35 276.01h1.1v1.1h-1.1zM109.86 284.44h1.1v1.1h-1.1zM111.48 285.96h1.1v1.1h-1.1zM106.02 284.81h1.1v1.1h-1.1zM105.34 285.54h1.1v1.1h-1.1zM94.45 277.66h1.1v1.1h-1.1zM106.24 284.95h1.1v1.1h-1.1zM105.61 278.12h1.1v1.1h-1.1zM98.3 282.97h1.1v1.1h-1.1zM107.71 280.16h1.1v1.1h-1.1zM102.28 291.79h1.1v1.1h-1.1zM112.07 281.04h1.1v1.1h-1.1zM104.44 283.72h1.1v1.1h-1.1zM106 284.37h1.1v1.1h-1.1zM98.01 285.75h1.1v1.1h-1.1zM100.66 285.19h1.1v1.1h-1.1zM97.17 279.68h1.1v1.1h-1.1zM96.24 279.58h1.1v1.1h-1.1zM98.07 280.93h1.1v1.1h-1.1zM112.88 281.59h1.1v1.1h-1.1zM99.83 282.27h1.1v1.1h-1.1zM105.28 290.14h1.1v1.1h-1.1zM100.59 281.77h1.1v1.1h-1.1zM101.45 282.14h1.1v1.1h-1.1zM108.91 279.1h1.1v1.1h-1.1zM109.98 279.89h1.1v1.1h-1.1zM102.58 282.57h1.1v1.1h-1.1zM102.68 283.87h1.1v1.1h-1.1zM103.25 290.1h1.1v1.1h-1.1zM102.3 282.59h1.1v1.1h-1.1zM98.32 282.59h1.1v1.1h-1.1zM107.56 283.21h1.1v1.1h-1.1zM117.24 293.99h1.1v1.1h-1.1zM103.08 290.54h1.1v1.1h-1.1zM110.44 270.77h1.1v1.1h-1.1zM88.84 281.92h1.1v1.1h-1.1zM107.58 283.82h1.1v1.1h-1.1zM107.78 292.39h1.1v1.1h-1.1zM109.65 280.84h1.1v1.1h-1.1zM104.5 285.08h1.1v1.1h-1.1zM108.32 284.63h1.1v1.1h-1.1zM116.13 289.68h1.1v1.1h-1.1zM106.84 270.27h1.1v1.1h-1.1zM98.13 286.7h1.1v1.1h-1.1zM106.95 285.3h1.1v1.1h-1.1zM93.05 288.72h1.1v1.1h-1.1zM96.73 269.86h1.1v1.1h-1.1zM112.1 270.88h1.1v1.1h-1.1zM96.96 273.65h1.1v1.1h-1.1zM95.37 280h1.1v1.1h-1.1zM110.81 284.28h1.1v1.1h-1.1zM117.83 279.39h1.1v1.1h-1.1zM109.15 271.2h1.1v1.1h-1.1zM95.06 268.44h1.1v1.1h-1.1zM110.62 283.42h1.1v1.1h-1.1zM115.6 286.65h1.1v1.1h-1.1zM121.31 278.84h1.1v1.1h-1.1zM102.63 274.15h1.1v1.1h-1.1zM105.06 288.85h1.1v1.1h-1.1zM113.99 292.07h1.1v1.1h-1.1zM116.25 286.93h1.1v1.1h-1.1zM110.9 268.66h1.1v1.1h-1.1zM109.32 276.68h1.1v1.1h-1.1zM101.22 293.23h1.1v1.1h-1.1zM92.96 289.54h1.1v1.1h-1.1zM110.21 282.47h1.1v1.1h-1.1zM107.15 270.88h1.1v1.1h-1.1zM95.87 287.59h1.1v1.1h-1.1zM111.31 292.72h1.1v1.1h-1.1zM92.03 284.4h1.1v1.1h-1.1zM95.11 284.34h1.1v1.1h-1.1zM98.6 278.68h1.1v1.1h-1.1zM109.41 288.17h1.1v1.1h-1.1zM110.45 281.4h1.1v1.1h-1.1zM95.95 269.85h1.1v1.1h-1.1zM99.18 289.54h1.1v1.1h-1.1zM94.8 277.31h1.1v1.1h-1.1zM117.78 273.71h1.1v1.1h-1.1zM103.87 286.67h1.1v1.1h-1.1zM92.3 277.15h1.1v1.1h-1.1zM108.62 284.51h1.1v1.1h-1.1zM43.37 223.21h1.1v1.1h-1.1zM160.29 219.27h1.1v1.1h-1.1zM188.14 217.43h1.1v1.1h-1.1zM116.94 232.41h1.1v1.1h-1.1zM156.35 227.94h1.1v1.1h-1.1zM140.32 234.78h1.1v1.1h-1.1zM31.54 241.61h1.1v1.1h-1.1zM46.52 242.92h1.1v1.1h-1.1zM192.08 240.56h1.1v1.1h-1.1zM82.25 241.61h1.1v1.1h-1.1zM89.08 247.39h1.1v1.1h-1.1zM73.85 247.91h1.1v1.1h-1.1zM33.65 251.59h1.1v1.1h-1.1zM98.02 251.07h1.1v1.1h-1.1zM72.79 252.12h1.1v1.1h-1.1zM76.74 253.43h1.1v1.1h-1.1zM75.95 259.47h1.1v1.1h-1.1zM55.98 259.47h1.1v1.1h-1.1zM158.45 260h1.1v1.1h-1.1zM70.69 264.73h1.1v1.1h-1.1zM67.8 266.57h1.1v1.1h-1.1zM141.63 265.25h1.1v1.1h-1.1zM90.14 268.41h1.1v1.1h-1.1zM194.71 272.61h1.1v1.1h-1.1zM29.18 278.39h1.1v1.1h-1.1zM46.52 278.39h1.1v1.1h-1.1zM188.66 279.97h1.1v1.1h-1.1zM198.39 279.18h1.1v1.1h-1.1zM73.58 286.27h1.1v1.1h-1.1zM77.79 285.48h1.1v1.1h-1.1zM63.86 292.84h1.1v1.1h-1.1zM37.59 291.53h1.1v1.1h-1.1zM42.05 290.48h1.1v1.1h-1.1zM36.27 295.47h1.1v1.1h-1.1zM40.21 296.78h1.1v1.1h-1.1zM61.76 296.78h1.1v1.1h-1.1zM83.57 289.43h1.1v1.1h-1.1zM151.88 297.31h1.1v1.1h-1.1zM118.51 294.16h1.1v1.1h-1.1zM117.99 305.98h1.1v1.1h-1.1zM68.33 305.19h1.1v1.1h-1.1zM72.27 306.24h1.1v1.1h-1.1zM138.74 304.14h1.1v1.1h-1.1zM111.68 309.13h1.1v1.1h-1.1zM115.88 306.77h1.1v1.1h-1.1zM55.19 313.34h1.1v1.1h-1.1zM109.05 315.17h1.1v1.1h-1.1zM111.94 315.17h1.1v1.1h-1.1zM35.75 318.33h1.1v1.1h-1.1zM40.21 320.95h1.1v1.1h-1.1zM42.05 322.01h1.1v1.1h-1.1zM45.47 324.9h1.1v1.1h-1.1zM49.41 324.9h1.1v1.1h-1.1zM39.69 327h1.1v1.1h-1.1zM50.72 328.31h1.1v1.1h-1.1zM28.92 327h1.1v1.1h-1.1zM34.17 330.15h1.1v1.1h-1.1zM36.8 330.68h1.1v1.1h-1.1zM45.47 329.1h1.1v1.1h-1.1zM52.83 331.73h1.1v1.1h-1.1zM86.98 327.26h1.1v1.1h-1.1zM143.21 328.84h1.1v1.1h-1.1zM160.29 328.84h1.1v1.1h-1.1zM178.94 329.89h1.1v1.1h-1.1zM63.07 331.46h1.1v1.1h-1.1zM44.16 334.88h1.1v1.1h-1.1zM78.31 335.41h1.1v1.1h-1.1zM123.77 335.41h1.1v1.1h-1.1z" fill="#0000ff" fill-opacity="0.78"/>
<text class="c" x="-1.5" y="372.8" textLength="17.06" lengthAdjust="spacingAndGlyphs" font-weight="bold">(d)</text>
<text class="c" x="21.91" y="372.8" textLength="60.08" lengthAdjust="spacingAndGlyphs">Horizontal</text>
<text class="c" x="88.34" y="372.8" textLength="61.21" lengthAdjust="spacingAndGlyphs">correlation</text>
<text class="c" x="155.89" y="372.8" textLength="10.55" lengthAdjust="spacingAndGlyphs">of</text>
<text class="c" x="172.8" y="372.8" textLength="34.21" lengthAdjust="spacingAndGlyphs">Single</text>
<text class="c" x="213.36" y="372.8" textLength="11.64" lengthAdjust="spacingAndGlyphs">S-</text>
<text class="c" x="0" y="387.65" textLength="20.74" lengthAdjust="spacingAndGlyphs">box</text>
<text class="c" x="25.11" y="387.65" textLength="64.19" lengthAdjust="spacingAndGlyphs">substituted</text>
<text class="c" x="93.67" y="387.65" textLength="33.48" lengthAdjust="spacingAndGlyphs">image</text>
<path d="M257.3 212.9V336H429.6" fill="none" stroke="#acacac" stroke-width="1"/>
<path d="M257.3 336v-1.9M286.02 336v-1.9M314.73 336v-1.9M343.45 336v-1.9M372.17 336v-1.9M400.88 336v-1.9M429.6 336v-1.9M257.3 336h1.9M257.3 311.48h1.9M257.3 286.96h1.9M257.3 262.44h1.9M257.3 237.92h1.9M257.3 213.4h1.9" stroke="#666" stroke-width="0.7"/>
<g transform="scale(1.08,1)" font-size="4.9" fill="#555555"><text x="238.24" y="343.3" text-anchor="middle">0</text><text x="264.83" y="343.3" text-anchor="middle">50</text><text x="291.42" y="343.3" text-anchor="middle">100</text><text x="318.01" y="343.3" text-anchor="middle">150</text><text x="344.6" y="343.3" text-anchor="middle">200</text><text x="371.19" y="343.3" text-anchor="middle">250</text><text x="397.78" y="343.3" text-anchor="middle">300</text><text x="236.02" y="338.2" text-anchor="end">0</text><text x="236.02" y="313.68" text-anchor="end">50</text><text x="236.02" y="289.16" text-anchor="end">100</text><text x="236.02" y="264.64" text-anchor="end">150</text><text x="236.02" y="240.12" text-anchor="end">200</text><text x="236.02" y="215.6" text-anchor="end">250</text></g>
<text transform="translate(344.25,353.8) scale(1.08,1)" text-anchor="middle" font-weight="bold" font-size="8.45" fill="#353535">Pixel values at location (x,y)</text>
<text transform="translate(241.8,274.7) scale(1.08,1) rotate(-90)" text-anchor="middle" font-weight="bold" font-size="8.45" fill="#353535">Pixel values at location (x,y+1)</text>
<path d="M312.12 287.84h1.1v1.1h-1.1zM315.1 287.45h1.1v1.1h-1.1zM313.06 282.8h1.1v1.1h-1.1zM314.67 285.85h1.1v1.1h-1.1zM312.19 285.73h1.1v1.1h-1.1zM315.27 285.37h1.1v1.1h-1.1zM314.77 286.25h1.1v1.1h-1.1zM313.75 286.75h1.1v1.1h-1.1zM313.62 284.24h1.1v1.1h-1.1zM311.06 286.51h1.1v1.1h-1.1zM313.37 287.36h1.1v1.1h-1.1zM312.61 285.1h1.1v1.1h-1.1zM315.79 285.36h1.1v1.1h-1.1zM313.48 289h1.1v1.1h-1.1zM315.69 286.28h1.1v1.1h-1.1zM312.99 288.27h1.1v1.1h-1.1zM312.96 288.24h1.1v1.1h-1.1zM313.13 285.63h1.1v1.1h-1.1zM313.08 285.94h1.1v1.1h-1.1zM311.86 284.03h1.1v1.1h-1.1zM312.13 289.44h1.1v1.1h-1.1zM312.78 287.68h1.1v1.1h-1.1zM311.64 287h1.1v1.1h-1.1zM313.44 288.38h1.1v1.1h-1.1zM312.85 284.03h1.1v1.1h-1.1zM313.98 286.66h1.1v1.1h-1.1zM313.21 286.61h1.1v1.1h-1.1zM312.97 285.19h1.1v1.1h-1.1zM312.91 290.42h1.1v1.1h-1.1zM313.01 287.89h1.1v1.1h-1.1zM313.93 287.43h1.1v1.1h-1.1zM313.24 282.78h1.1v1.1h-1.1zM311.59 288.29h1.1v1.1h-1.1zM311.09 290.4h1.1v1.1h-1.1zM310.45 285.8h1.1v1.1h-1.1zM312.16 289.52h1.1v1.1h-1.1zM310.99 285.38h1.1v1.1h-1.1zM311.97 287.02h1.1v1.1h-1.1zM313.49 284.15h1.1v1.1h-1.1zM315.71 284.69h1.1v1.1h-1.1zM313.23 286.1h1.1v1.1h-1.1zM315.52 284.03h1.1v1.1h-1.1zM312.61 285.65h1.1v1.1h-1.1zM313.43 286.32h1.1v1.1h-1.1zM312.35 288.62h1.1v1.1h-1.1zM312.3 288.98h1.1v1.1h-1.1zM314.72 285.52h1.1v1.1h-1.1zM311.37 284.08h1.1v1.1h-1.1zM314.26 289.59h1.1v1.1h-1.1zM315.57 285.06h1.1v1.1h-1.1zM315.88 288.46h1.1v1.1h-1.1zM313.77 285.7h1.1v1.1h-1.1zM313.31 286.12h1.1v1.1h-1.1zM314.49 288.9h1.1v1.1h-1.1zM311.32 288.73h1.1v1.1h-1.1zM312.27 287.42h1.1v1.1h-1.1zM313.54 285.97h1.1v1.1h-1.1zM313.08 287.54h1.1v1.1h-1.1zM312.43 284.82h1.1v1.1h-1.1zM314.09 286.24h1.1v1.1h-1.1zM312.59 283.82h1.1v1.1h-1.1zM312.22 285.33h1.1v1.1h-1.1zM314.62 286.85h1.1v1.1h-1.1zM314.17 288.27h1.1v1.1h-1.1zM314.43 286.08h1.1v1.1h-1.1zM310.85 285.29h1.1v1.1h-1.1zM311.8 284.27h1.1v1.1h-1.1zM312.1 286.68h1.1v1.1h-1.1zM313.42 286.96h1.1v1.1h-1.1zM313.39 287.33h1.1v1.1h-1.1zM313.96 286.4h1.1v1.1h-1.1zM313.33 291h1.1v1.1h-1.1zM314.64 286.36h1.1v1.1h-1.1zM310.58 286.25h1.1v1.1h-1.1zM313.68 284.62h1.1v1.1h-1.1zM311.54 283.83h1.1v1.1h-1.1zM312.82 282.42h1.1v1.1h-1.1zM312.83 285.28h1.1v1.1h-1.1zM312.53 288.27h1.1v1.1h-1.1zM314.55 284.9h1.1v1.1h-1.1zM315.16 284.98h1.1v1.1h-1.1zM312.24 289.18h1.1v1.1h-1.1zM312.14 287.54h1.1v1.1h-1.1zM311.91 285.44h1.1v1.1h-1.1zM313.49 286.86h1.1v1.1h-1.1zM313.27 286.65h1.1v1.1h-1.1zM313.33 285.16h1.1v1.1h-1.1zM314.36 287.55h1.1v1.1h-1.1zM310.96 284.03h1.1v1.1h-1.1zM313.19 284.57h1.1v1.1h-1.1zM310.77 286.96h1.1v1.1h-1.1zM313.07 288.81h1.1v1.1h-1.1zM312.32 285.2h1.1v1.1h-1.1zM314.52 283.75h1.1v1.1h-1.1zM311.84 288.75h1.1v1.1h-1.1zM313.75 284.84h1.1v1.1h-1.1zM313.3 288.58h1.1v1.1h-1.1zM314.11 285.09h1.1v1.1h-1.1zM313.8 287.22h1.1v1.1h-1.1zM313.45 285.09h1.1v1.1h-1.1zM312.26 289.48h1.1v1.1h-1.1zM313.49 285.61h1.1v1.1h-1.1zM313.05 284.93h1.1v1.1h-1.1zM312.23 286.55h1.1v1.1h-1.1zM312.61 285.46h1.1v1.1h-1.1zM315.23 286.83h1.1v1.1h-1.1zM315.87 283.86h1.1v1.1h-1.1zM314.12 285.43h1.1v1.1h-1.1zM315.48 286.71h1.1v1.1h-1.1zM312.88 288.18h1.1v1.1h-1.1zM313.69 284.17h1.1v1.1h-1.1zM313.77 285.7h1.1v1.1h-1.1zM312.76 286.13h1.1v1.1h-1.1zM311.07 284.66h1.1v1.1h-1.1zM312.47 288.25h1.1v1.1h-1.1zM312 287.78h1.1v1.1h-1.1zM314.21 284.65h1.1v1.1h-1.1zM311.16 284.87h1.1v1.1h-1.1zM314.26 287.38h1.1v1.1h-1.1zM310.99 287.65h1.1v1.1h-1.1zM312.16 285.84h1.1v1.1h-1.1zM312.54 289.79h1.1v1.1h-1.1zM313.36 288.97h1.1v1.1h-1.1zM314.28 288.42h1.1v1.1h-1.1zM312.08 287.83h1.1v1.1h-1.1zM312.29 284.25h1.1v1.1h-1.1zM314.21 285.41h1.1v1.1h-1.1zM313.47 288.99h1.1v1.1h-1.1zM312.32 287.33h1.1v1.1h-1.1zM311.69 285.56h1.1v1.1h-1.1zM312.01 287.59h1.1v1.1h-1.1zM311.6 289.84h1.1v1.1h-1.1zM313.86 284.19h1.1v1.1h-1.1zM313.28 288.04h1.1v1.1h-1.1zM309.31 286.12h1.1v1.1h-1.1zM314.71 285.91h1.1v1.1h-1.1zM314.31 283.95h1.1v1.1h-1.1zM314.59 287.15h1.1v1.1h-1.1zM314.49 285.12h1.1v1.1h-1.1zM310.92 287.09h1.1v1.1h-1.1zM311.07 286.59h1.1v1.1h-1.1zM313.83 288.19h1.1v1.1h-1.1zM310.2 284.25h1.1v1.1h-1.1zM313.55 283.96h1.1v1.1h-1.1zM311.21 284.64h1.1v1.1h-1.1zM315.89 283.06h1.1v1.1h-1.1zM312.75 285.96h1.1v1.1h-1.1zM312.82 284.75h1.1v1.1h-1.1zM314.47 286.26h1.1v1.1h-1.1zM311.16 285.17h1.1v1.1h-1.1zM312.39 285.36h1.1v1.1h-1.1zM313.4 283.7h1.1v1.1h-1.1zM314.6 287.16h1.1v1.1h-1.1zM313.52 283.47h1.1v1.1h-1.1zM312.29 285.69h1.1v1.1h-1.1zM314.68 284.31h1.1v1.1h-1.1zM313.75 288.61h1.1v1.1h-1.1zM311.3 286h1.1v1.1h-1.1zM313.57 282.16h1.1v1.1h-1.1zM311.85 284.51h1.1v1.1h-1.1zM329.92 279.23h1.1v1.1h-1.1zM323.53 274.72h1.1v1.1h-1.1zM324.83 275.51h1.1v1.1h-1.1zM328.71 277.12h1.1v1.1h-1.1zM328.69 276.69h1.1v1.1h-1.1zM324.63 273.81h1.1v1.1h-1.1zM324.51 274.43h1.1v1.1h-1.1zM333.25 275.06h1.1v1.1h-1.1zM326.23 273.33h1.1v1.1h-1.1zM325.35 272.48h1.1v1.1h-1.1zM321.66 273.61h1.1v1.1h-1.1zM324.76 277.09h1.1v1.1h-1.1zM333.93 277.22h1.1v1.1h-1.1zM333.88 273.52h1.1v1.1h-1.1zM332.66 277.53h1.1v1.1h-1.1zM331.64 271.56h1.1v1.1h-1.1zM326.35 275.45h1.1v1.1h-1.1zM336.69 274.7h1.1v1.1h-1.1zM325.12 276.68h1.1v1.1h-1.1zM328.61 274.32h1.1v1.1h-1.1zM327.53 270.91h1.1v1.1h-1.1zM325.5 273.97h1.1v1.1h-1.1zM332.69 277.59h1.1v1.1h-1.1zM330.99 270.64h1.1v1.1h-1.1zM321.37 277.82h1.1v1.1h-1.1zM322.64 279.66h1.1v1.1h-1.1zM328.64 279.68h1.1v1.1h-1.1zM328.82 271.57h1.1v1.1h-1.1zM320.33 275.91h1.1v1.1h-1.1zM319.11 273.22h1.1v1.1h-1.1zM323.85 275.78h1.1v1.1h-1.1zM327.04 273.79h1.1v1.1h-1.1zM325.42 275.09h1.1v1.1h-1.1zM324.62 274.85h1.1v1.1h-1.1zM322.1 274.97h1.1v1.1h-1.1zM319.05 276.33h1.1v1.1h-1.1zM334.52 274.94h1.1v1.1h-1.1zM321.75 274.5h1.1v1.1h-1.1zM322.91 279.18h1.1v1.1h-1.1zM323.86 273.32h1.1v1.1h-1.1zM328.36 275.37h1.1v1.1h-1.1zM323.09 277.78h1.1v1.1h-1.1zM332.24 274.53h1.1v1.1h-1.1zM322.99 280.31h1.1v1.1h-1.1zM321.31 269.06h1.1v1.1h-1.1zM322.2 275.32h1.1v1.1h-1.1zM327.66 275.52h1.1v1.1h-1.1zM325.7 278.5h1.1v1.1h-1.1zM322.59 270.99h1.1v1.1h-1.1zM323.78 273.06h1.1v1.1h-1.1zM320.01 275.8h1.1v1.1h-1.1zM327.87 272.59h1.1v1.1h-1.1zM322.31 273.67h1.1v1.1h-1.1zM328.37 276.94h1.1v1.1h-1.1zM328.74 277.33h1.1v1.1h-1.1zM323.62 275.18h1.1v1.1h-1.1zM315.91 275.4h1.1v1.1h-1.1zM322.8 278.72h1.1v1.1h-1.1zM325.11 273.26h1.1v1.1h-1.1zM325.19 272.03h1.1v1.1h-1.1zM313.93 287.3h1.1v1.1h-1.1zM327.94 279.75h1.1v1.1h-1.1zM324.81 285.16h1.1v1.1h-1.1zM324.08 280.36h1.1v1.1h-1.1zM323.28 281.39h1.1v1.1h-1.1zM326.16 284.37h1.1v1.1h-1.1zM314.95 288.03h1.1v1.1h-1.1zM325.93 284.76h1.1v1.1h-1.1zM314.53 285.65h1.1v1.1h-1.1zM317.63 287.12h1.1v1.1h-1.1zM318.43 284.27h1.1v1.1h-1.1zM317.08 285.74h1.1v1.1h-1.1zM320.12 283.54h1.1v1.1h-1.1zM320.52 280.41h1.1v1.1h-1.1zM321.69 291.17h1.1v1.1h-1.1zM317.16 285.02h1.1v1.1h-1.1zM323.93 288.47h1.1v1.1h-1.1zM316.23 282.8h1.1v1.1h-1.1zM318.19 277.13h1.1v1.1h-1.1zM317.64 277.25h1.1v1.1h-1.1zM312.35 289.5h1.1v1.1h-1.1zM326.23 279.58h1.1v1.1h-1.1zM322.45 280.96h1.1v1.1h-1.1zM322.43 286.87h1.1v1.1h-1.1zM324.83 283.85h1.1v1.1h-1.1zM325.02 281.12h1.1v1.1h-1.1zM309.72 287.19h1.1v1.1h-1.1zM325.76 282.11h1.1v1.1h-1.1zM317.88 280.44h1.1v1.1h-1.1zM317.73 283.91h1.1v1.1h-1.1zM320.46 280.87h1.1v1.1h-1.1zM327.77 281.3h1.1v1.1h-1.1zM329.64 273.55h1.1v1.1h-1.1zM328.8 276.82h1.1v1.1h-1.1zM320.6 280.9h1.1v1.1h-1.1zM319.19 284.73h1.1v1.1h-1.1zM319.58 284.33h1.1v1.1h-1.1zM328.4 279.15h1.1v1.1h-1.1zM317.62 289.96h1.1v1.1h-1.1zM319.65 283.34h1.1v1.1h-1.1zM314.31 286.52h1.1v1.1h-1.1zM308.3 278.99h1.1v1.1h-1.1zM319.59 270.11h1.1v1.1h-1.1zM319.77 282.16h1.1v1.1h-1.1zM327.39 280.91h1.1v1.1h-1.1zM320.79 283.15h1.1v1.1h-1.1zM316.8 274.89h1.1v1.1h-1.1zM325.1 273.93h1.1v1.1h-1.1zM318.12 281.37h1.1v1.1h-1.1zM315.37 277.24h1.1v1.1h-1.1zM312.73 279.01h1.1v1.1h-1.1zM325.59 275.28h1.1v1.1h-1.1zM315.07 276.7h1.1v1.1h-1.1zM316.24 284.85h1.1v1.1h-1.1zM313.09 276.41h1.1v1.1h-1.1zM328.45 284.13h1.1v1.1h-1.1zM316 283h1.1v1.1h-1.1zM332.89 277.07h1.1v1.1h-1.1zM317.12 289.43h1.1v1.1h-1.1zM316.45 276.27h1.1v1.1h-1.1zM334.81 273.47h1.1v1.1h-1.1zM324.44 286.54h1.1v1.1h-1.1zM319.68 272.04h1.1v1.1h-1.1zM318.25 277.13h1.1v1.1h-1.1zM324.46 271.84h1.1v1.1h-1.1zM330.13 287.17h1.1v1.1h-1.1zM307.91 287.68h1.1v1.1h-1.1zM319.51 279.58h1.1v1.1h-1.1zM330.36 272.06h1.1v1.1h-1.1zM309.03 273.42h1.1v1.1h-1.1zM330.24 272.57h1.1v1.1h-1.1zM323.63 287.41h1.1v1.1h-1.1zM331.33 274.07h1.1v1.1h-1.1zM326.74 271.4h1.1v1.1h-1.1zM317.43 292.13h1.1v1.1h-1.1zM323.13 274.31h1.1v1.1h-1.1zM313.39 275.49h1.1v1.1h-1.1zM333.55 288.4h1.1v1.1h-1.1zM324.6 277.31h1.1v1.1h-1.1zM320.69 289.09h1.1v1.1h-1.1zM314.89 275.47h1.1v1.1h-1.1zM329.69 282.76h1.1v1.1h-1.1zM310.28 274.08h1.1v1.1h-1.1zM329.15 288.43h1.1v1.1h-1.1zM323.84 271.82h1.1v1.1h-1.1zM332.27 281.2h1.1v1.1h-1.1zM321 279.52h1.1v1.1h-1.1zM313.08 289.45h1.1v1.1h-1.1zM312.85 276.72h1.1v1.1h-1.1zM317.87 280.14h1.1v1.1h-1.1zM307.1 218.49h1.1v1.1h-1.1zM318.14 221.11h1.1v1.1h-1.1zM379.62 222.69h1.1v1.1h-1.1zM256.65 235.04h1.1v1.1h-1.1zM282.93 238.45h1.1v1.1h-1.1zM299.22 241.61h1.1v1.1h-1.1zM322.87 241.61h1.1v1.1h-1.1zM325.49 237.67h1.1v1.1h-1.1zM330.75 244.5h1.1v1.1h-1.1zM344.94 236.88h1.1v1.1h-1.1zM353.87 248.7h1.1v1.1h-1.1zM369.37 248.18h1.1v1.1h-1.1zM266.9 248.18h1.1v1.1h-1.1zM268.21 246.07h1.1v1.1h-1.1zM275.31 244.5h1.1v1.1h-1.1zM302.37 248.18h1.1v1.1h-1.1zM283.45 262.1h1.1v1.1h-1.1zM326.81 256.85h1.1v1.1h-1.1zM347.83 260.79h1.1v1.1h-1.1zM347.56 264.73h1.1v1.1h-1.1zM366.48 265.25h1.1v1.1h-1.1zM375.94 264.47h1.1v1.1h-1.1zM307.1 266.57h1.1v1.1h-1.1zM256.65 267.88h1.1v1.1h-1.1zM266.11 285.22h1.1v1.1h-1.1zM272.68 286.27h1.1v1.1h-1.1zM292.91 286.27h1.1v1.1h-1.1zM387.5 286.8h1.1v1.1h-1.1zM395.12 286.8h1.1v1.1h-1.1zM269.53 289.43h1.1v1.1h-1.1zM276.62 289.95h1.1v1.1h-1.1zM264.27 292.05h1.1v1.1h-1.1zM280.04 293.37h1.1v1.1h-1.1zM265.59 295.73h1.1v1.1h-1.1zM272.16 295.73h1.1v1.1h-1.1zM264.27 299.94h1.1v1.1h-1.1zM267.69 299.94h1.1v1.1h-1.1zM275.57 300.72h1.1v1.1h-1.1zM293.18 302.56h1.1v1.1h-1.1zM338.89 298.88h1.1v1.1h-1.1zM342.31 305.45h1.1v1.1h-1.1zM348.35 307.56h1.1v1.1h-1.1zM375.41 304.93h1.1v1.1h-1.1zM261.38 306.77h1.1v1.1h-1.1zM275.57 306.77h1.1v1.1h-1.1zM263.49 309.92h1.1v1.1h-1.1zM273.47 310.71h1.1v1.1h-1.1zM306.84 311.23h1.1v1.1h-1.1zM309.73 313.07h1.1v1.1h-1.1zM314.46 311.23h1.1v1.1h-1.1zM290.81 315.7h1.1v1.1h-1.1zM259.28 317.8h1.1v1.1h-1.1zM267.43 317.8h1.1v1.1h-1.1zM272.42 315.7h1.1v1.1h-1.1zM277.15 317.8h1.1v1.1h-1.1zM318.14 318.33h1.1v1.1h-1.1zM269.53 322.53h1.1v1.1h-1.1zM277.94 322.53h1.1v1.1h-1.1zM264.54 324.11h1.1v1.1h-1.1zM260.07 324.9h1.1v1.1h-1.1zM282.4 324.37h1.1v1.1h-1.1zM312.88 323.58h1.1v1.1h-1.1zM320.5 323.06h1.1v1.1h-1.1zM305.79 327.79h1.1v1.1h-1.1zM318.14 328.31h1.1v1.1h-1.1zM341.26 327.79h1.1v1.1h-1.1zM356.76 326.21h1.1v1.1h-1.1zM381.19 328.84h1.1v1.1h-1.1zM402.74 327h1.1v1.1h-1.1zM264.27 331.46h1.1v1.1h-1.1zM273.47 331.46h1.1v1.1h-1.1zM278.72 327.26h1.1v1.1h-1.1zM283.98 328.84h1.1v1.1h-1.1zM285.29 330.94h1.1v1.1h-1.1zM284.5 333.3h1.1v1.1h-1.1zM257.18 330.94h1.1v1.1h-1.1zM307.1 335.67h1.1v1.1h-1.1zM314.72 335.67h1.1v1.1h-1.1zM343.1 333.57h1.1v1.1h-1.1z" fill="#0000ff" fill-opacity="0.78"/>
<text class="c" x="227.6" y="372.8" textLength="14.7" lengthAdjust="spacingAndGlyphs" font-weight="bold">(e)</text>
<text class="c" x="247.71" y="372.8" textLength="45.52" lengthAdjust="spacingAndGlyphs">Vertical</text>
<text class="c" x="298.63" y="372.8" textLength="61.21" lengthAdjust="spacingAndGlyphs">correlation</text>
<text class="c" x="365.24" y="372.8" textLength="10.55" lengthAdjust="spacingAndGlyphs">of</text>
<text class="c" x="381.2" y="372.8" textLength="34.21" lengthAdjust="spacingAndGlyphs">Single</text>
<text class="c" x="420.81" y="372.8" textLength="32.39" lengthAdjust="spacingAndGlyphs">S-box</text>
<text class="c" x="228.2" y="387.65" textLength="64.19" lengthAdjust="spacingAndGlyphs">substituted</text>
<text class="c" x="296.76" y="387.65" textLength="33.48" lengthAdjust="spacingAndGlyphs">image</text>
<path d="M485.5 212.9V336H657.8" fill="none" stroke="#acacac" stroke-width="1"/>
<path d="M485.5 336v-1.9M514.22 336v-1.9M542.93 336v-1.9M571.65 336v-1.9M600.37 336v-1.9M629.08 336v-1.9M657.8 336v-1.9M485.5 336h1.9M485.5 311.48h1.9M485.5 286.96h1.9M485.5 262.44h1.9M485.5 237.92h1.9M485.5 213.4h1.9" stroke="#666" stroke-width="0.7"/>
<g transform="scale(1.08,1)" font-size="4.9" fill="#555555"><text x="449.54" y="343.3" text-anchor="middle">0</text><text x="476.13" y="343.3" text-anchor="middle">50</text><text x="502.72" y="343.3" text-anchor="middle">100</text><text x="529.31" y="343.3" text-anchor="middle">150</text><text x="555.9" y="343.3" text-anchor="middle">200</text><text x="582.48" y="343.3" text-anchor="middle">250</text><text x="609.07" y="343.3" text-anchor="middle">300</text><text x="447.31" y="338.2" text-anchor="end">0</text><text x="447.31" y="313.68" text-anchor="end">50</text><text x="447.31" y="289.16" text-anchor="end">100</text><text x="447.31" y="264.64" text-anchor="end">150</text><text x="447.31" y="240.12" text-anchor="end">200</text><text x="447.31" y="215.6" text-anchor="end">250</text></g>
<text transform="translate(572.45,353.8) scale(1.08,1)" text-anchor="middle" font-weight="bold" font-size="8.45" fill="#353535">Pixel values at location (x,y)</text>
<text transform="translate(470,274.7) scale(1.08,1) rotate(-90)" text-anchor="middle" font-weight="bold" font-size="8.45" fill="#353535">Pixel values at location (x+1,y+1)</text>
<path d="M539.87 285.25h1.1v1.1h-1.1zM541.48 286h1.1v1.1h-1.1zM542.57 286.44h1.1v1.1h-1.1zM542.77 284.95h1.1v1.1h-1.1zM541.42 287.35h1.1v1.1h-1.1zM540.2 287.29h1.1v1.1h-1.1zM540.96 286.45h1.1v1.1h-1.1zM545.34 285.35h1.1v1.1h-1.1zM542.29 287.84h1.1v1.1h-1.1zM540.26 286.94h1.1v1.1h-1.1zM541.5 288.14h1.1v1.1h-1.1zM543.46 287.35h1.1v1.1h-1.1zM542.72 290.3h1.1v1.1h-1.1zM541.23 285.95h1.1v1.1h-1.1zM541.5 285.41h1.1v1.1h-1.1zM541.62 286.14h1.1v1.1h-1.1zM538.63 287.6h1.1v1.1h-1.1zM538.01 285.36h1.1v1.1h-1.1zM541.66 286.74h1.1v1.1h-1.1zM540.1 287.38h1.1v1.1h-1.1zM543.78 283.52h1.1v1.1h-1.1zM541.15 284.26h1.1v1.1h-1.1zM539.05 289.64h1.1v1.1h-1.1zM540.57 287.87h1.1v1.1h-1.1zM540.46 286.1h1.1v1.1h-1.1zM545.4 287.51h1.1v1.1h-1.1zM541.3 285.95h1.1v1.1h-1.1zM541.19 284.86h1.1v1.1h-1.1zM543.68 288.48h1.1v1.1h-1.1zM541.46 286.85h1.1v1.1h-1.1zM541.73 288.96h1.1v1.1h-1.1zM538.81 290.27h1.1v1.1h-1.1zM541.96 286.09h1.1v1.1h-1.1zM541.34 290.36h1.1v1.1h-1.1zM540.72 287.67h1.1v1.1h-1.1zM539.29 287.94h1.1v1.1h-1.1zM542.2 285.5h1.1v1.1h-1.1zM541.2 285.55h1.1v1.1h-1.1zM540.4 286.29h1.1v1.1h-1.1zM541.29 285.49h1.1v1.1h-1.1zM541.14 286.65h1.1v1.1h-1.1zM541.05 287.49h1.1v1.1h-1.1zM544.31 285.55h1.1v1.1h-1.1zM541.83 282.59h1.1v1.1h-1.1zM543.17 289.01h1.1v1.1h-1.1zM542.19 285.01h1.1v1.1h-1.1zM543.83 284.22h1.1v1.1h-1.1zM542.3 288.37h1.1v1.1h-1.1zM540.03 285.96h1.1v1.1h-1.1zM541.93 288.11h1.1v1.1h-1.1zM540.7 287.08h1.1v1.1h-1.1zM541.32 285.85h1.1v1.1h-1.1zM540.84 288.47h1.1v1.1h-1.1zM542.95 283.75h1.1v1.1h-1.1zM541.09 284.7h1.1v1.1h-1.1zM541.85 285.31h1.1v1.1h-1.1zM541.9 287.68h1.1v1.1h-1.1zM542.03 284.73h1.1v1.1h-1.1zM540 283.13h1.1v1.1h-1.1zM544.12 283.37h1.1v1.1h-1.1zM543.98 285.17h1.1v1.1h-1.1zM540.77 287.41h1.1v1.1h-1.1zM540.11 286.22h1.1v1.1h-1.1zM541.19 285.29h1.1v1.1h-1.1zM538.45 282.55h1.1v1.1h-1.1zM544.37 286.46h1.1v1.1h-1.1zM542.17 285.62h1.1v1.1h-1.1zM541.61 286.76h1.1v1.1h-1.1zM541.07 287.78h1.1v1.1h-1.1zM541.48 286.45h1.1v1.1h-1.1zM541.68 287.84h1.1v1.1h-1.1zM541.29 286.33h1.1v1.1h-1.1zM542.07 288.18h1.1v1.1h-1.1zM541.81 284.77h1.1v1.1h-1.1zM542.06 287.02h1.1v1.1h-1.1zM540.56 286.8h1.1v1.1h-1.1zM542.24 283.82h1.1v1.1h-1.1zM541.02 287.48h1.1v1.1h-1.1zM541.75 286.07h1.1v1.1h-1.1zM539.98 287.64h1.1v1.1h-1.1zM541.09 285.29h1.1v1.1h-1.1zM539.59 288.11h1.1v1.1h-1.1zM541.92 288.45h1.1v1.1h-1.1zM541.38 285.82h1.1v1.1h-1.1zM541.08 288.11h1.1v1.1h-1.1zM541.15 286.96h1.1v1.1h-1.1zM541.7 287.81h1.1v1.1h-1.1zM542.74 289.2h1.1v1.1h-1.1zM540.99 286.4h1.1v1.1h-1.1zM542.56 287.42h1.1v1.1h-1.1zM541.99 287.35h1.1v1.1h-1.1zM542.25 283.51h1.1v1.1h-1.1zM540.68 285.67h1.1v1.1h-1.1zM539.96 284.79h1.1v1.1h-1.1zM542.9 286.35h1.1v1.1h-1.1zM539.67 285.74h1.1v1.1h-1.1zM542.82 284.59h1.1v1.1h-1.1zM542.36 289.46h1.1v1.1h-1.1zM540.3 284.04h1.1v1.1h-1.1zM539.54 284.52h1.1v1.1h-1.1zM543.83 285.14h1.1v1.1h-1.1zM542.78 286.96h1.1v1.1h-1.1zM539.55 286.58h1.1v1.1h-1.1zM540.96 286.49h1.1v1.1h-1.1zM542.2 286.65h1.1v1.1h-1.1zM541.5 285.7h1.1v1.1h-1.1zM541.23 283.34h1.1v1.1h-1.1zM541.84 286.27h1.1v1.1h-1.1zM540.95 287.45h1.1v1.1h-1.1zM543.09 286.16h1.1v1.1h-1.1zM539.75 287.35h1.1v1.1h-1.1zM541.05 287.15h1.1v1.1h-1.1zM542.73 288.35h1.1v1.1h-1.1zM541.91 286.17h1.1v1.1h-1.1zM539.61 286.33h1.1v1.1h-1.1zM541.1 285.57h1.1v1.1h-1.1zM540.61 285.9h1.1v1.1h-1.1zM538.94 288.22h1.1v1.1h-1.1zM542.32 284.67h1.1v1.1h-1.1zM541.22 287.41h1.1v1.1h-1.1zM542.73 289.9h1.1v1.1h-1.1zM540.13 285.29h1.1v1.1h-1.1zM542.13 288.13h1.1v1.1h-1.1zM538.63 283.99h1.1v1.1h-1.1zM541.45 287.9h1.1v1.1h-1.1zM541.31 284.91h1.1v1.1h-1.1zM537.66 284.56h1.1v1.1h-1.1zM542.25 289.88h1.1v1.1h-1.1zM542.3 289.38h1.1v1.1h-1.1zM542.81 285.75h1.1v1.1h-1.1zM544.34 287.43h1.1v1.1h-1.1zM541.24 284.66h1.1v1.1h-1.1zM540.35 287.59h1.1v1.1h-1.1zM540.72 286.53h1.1v1.1h-1.1zM539.74 285.6h1.1v1.1h-1.1zM541.98 286.29h1.1v1.1h-1.1zM543.58 286.96h1.1v1.1h-1.1zM543.04 287.32h1.1v1.1h-1.1zM542.28 289.64h1.1v1.1h-1.1zM541.51 286.7h1.1v1.1h-1.1zM540.55 287.43h1.1v1.1h-1.1zM540.76 287.61h1.1v1.1h-1.1zM538.21 287.4h1.1v1.1h-1.1zM540.48 287.28h1.1v1.1h-1.1zM539.78 286.64h1.1v1.1h-1.1zM542.32 286.83h1.1v1.1h-1.1zM540.56 284.15h1.1v1.1h-1.1zM542.58 284.87h1.1v1.1h-1.1zM542.83 286.96h1.1v1.1h-1.1zM541.06 284.55h1.1v1.1h-1.1zM540.47 286.61h1.1v1.1h-1.1zM541.76 285.79h1.1v1.1h-1.1zM540.85 284.77h1.1v1.1h-1.1zM540.99 285.2h1.1v1.1h-1.1zM542.71 285.31h1.1v1.1h-1.1zM542.25 288.34h1.1v1.1h-1.1zM539.43 287.44h1.1v1.1h-1.1zM541.89 283.91h1.1v1.1h-1.1zM539.55 285.9h1.1v1.1h-1.1zM540.06 287.63h1.1v1.1h-1.1zM552.92 274.57h1.1v1.1h-1.1zM554.6 273.13h1.1v1.1h-1.1zM550.47 273.99h1.1v1.1h-1.1zM557.07 276.4h1.1v1.1h-1.1zM555.51 278.26h1.1v1.1h-1.1zM550.11 277.79h1.1v1.1h-1.1zM551.66 268.1h1.1v1.1h-1.1zM552.2 271.75h1.1v1.1h-1.1zM554.57 275.68h1.1v1.1h-1.1zM556.43 278.89h1.1v1.1h-1.1zM557.03 275.49h1.1v1.1h-1.1zM548.65 274.83h1.1v1.1h-1.1zM555.77 275.27h1.1v1.1h-1.1zM559.33 277.82h1.1v1.1h-1.1zM555.63 274.4h1.1v1.1h-1.1zM550.77 273.07h1.1v1.1h-1.1zM548.87 280.43h1.1v1.1h-1.1zM555.67 279.81h1.1v1.1h-1.1zM553.47 281.44h1.1v1.1h-1.1zM554.11 279.94h1.1v1.1h-1.1zM555.05 281.11h1.1v1.1h-1.1zM555.42 277.39h1.1v1.1h-1.1zM554.09 276.8h1.1v1.1h-1.1zM554.32 280.49h1.1v1.1h-1.1zM545.03 276.5h1.1v1.1h-1.1zM550.65 277.94h1.1v1.1h-1.1zM555.34 282.44h1.1v1.1h-1.1zM551.24 278.4h1.1v1.1h-1.1zM550.23 275.64h1.1v1.1h-1.1zM553.39 279.02h1.1v1.1h-1.1zM546.26 279.55h1.1v1.1h-1.1zM546.09 285.73h1.1v1.1h-1.1zM557.19 271.76h1.1v1.1h-1.1zM549.26 282.5h1.1v1.1h-1.1zM540.57 286.21h1.1v1.1h-1.1zM539.49 279.02h1.1v1.1h-1.1zM551.52 291.93h1.1v1.1h-1.1zM560.86 285.68h1.1v1.1h-1.1zM558.74 272.06h1.1v1.1h-1.1zM561.92 288.85h1.1v1.1h-1.1zM547.25 270.14h1.1v1.1h-1.1zM535.79 293h1.1v1.1h-1.1zM551.07 281.09h1.1v1.1h-1.1zM560.86 273.77h1.1v1.1h-1.1zM550.34 267.82h1.1v1.1h-1.1zM549.76 280.56h1.1v1.1h-1.1zM554.38 283.94h1.1v1.1h-1.1zM545.35 278.51h1.1v1.1h-1.1zM545.17 269.15h1.1v1.1h-1.1zM554.14 280.35h1.1v1.1h-1.1zM538.22 284.34h1.1v1.1h-1.1zM546.54 279.39h1.1v1.1h-1.1zM551.32 270.96h1.1v1.1h-1.1zM562.08 281.37h1.1v1.1h-1.1zM547.63 277.72h1.1v1.1h-1.1zM562.95 285.17h1.1v1.1h-1.1zM550.11 272.65h1.1v1.1h-1.1zM540.2 285.83h1.1v1.1h-1.1zM562.46 272.38h1.1v1.1h-1.1zM549.62 291.33h1.1v1.1h-1.1zM560.15 275.99h1.1v1.1h-1.1zM558.11 268.03h1.1v1.1h-1.1zM559.98 283.11h1.1v1.1h-1.1zM539.8 286.58h1.1v1.1h-1.1zM549.6 280.89h1.1v1.1h-1.1zM540.68 289.43h1.1v1.1h-1.1zM552.86 278.28h1.1v1.1h-1.1zM545.23 267.94h1.1v1.1h-1.1zM553.04 293.14h1.1v1.1h-1.1zM546.83 273.4h1.1v1.1h-1.1zM543.95 275.97h1.1v1.1h-1.1zM535.6 286.19h1.1v1.1h-1.1zM558.71 278.73h1.1v1.1h-1.1zM553.91 289.05h1.1v1.1h-1.1zM549.22 279.61h1.1v1.1h-1.1zM542.82 277.13h1.1v1.1h-1.1zM550.14 267.85h1.1v1.1h-1.1zM551.33 283.37h1.1v1.1h-1.1zM538.84 290.1h1.1v1.1h-1.1zM556.43 291.43h1.1v1.1h-1.1zM538.25 289.74h1.1v1.1h-1.1zM549.9 272.46h1.1v1.1h-1.1zM552.39 272.9h1.1v1.1h-1.1zM537.2 293.93h1.1v1.1h-1.1zM556.73 285.71h1.1v1.1h-1.1zM555.22 284.89h1.1v1.1h-1.1zM540.16 287.2h1.1v1.1h-1.1zM538.23 270.32h1.1v1.1h-1.1zM551.54 285.02h1.1v1.1h-1.1zM547.89 284.04h1.1v1.1h-1.1zM537 270.67h1.1v1.1h-1.1zM551.55 268.84h1.1v1.1h-1.1zM547.61 277.83h1.1v1.1h-1.1zM542.36 293.09h1.1v1.1h-1.1zM561.15 271.62h1.1v1.1h-1.1zM544.17 270.45h1.1v1.1h-1.1zM557.98 286.21h1.1v1.1h-1.1zM552.1 268.83h1.1v1.1h-1.1zM549.15 269.11h1.1v1.1h-1.1zM542.19 283.93h1.1v1.1h-1.1zM555.3 288.39h1.1v1.1h-1.1zM544.01 271.08h1.1v1.1h-1.1zM548.84 273.26h1.1v1.1h-1.1zM542.2 289.66h1.1v1.1h-1.1zM545.37 289.32h1.1v1.1h-1.1zM562.27 286.56h1.1v1.1h-1.1zM550.97 291.21h1.1v1.1h-1.1zM550.21 284.05h1.1v1.1h-1.1zM546.61 292.52h1.1v1.1h-1.1zM538.89 272.39h1.1v1.1h-1.1zM545.17 287.77h1.1v1.1h-1.1zM540.76 286.75h1.1v1.1h-1.1zM542.03 293.33h1.1v1.1h-1.1zM553.8 285.22h1.1v1.1h-1.1zM539.79 275.56h1.1v1.1h-1.1zM538.04 287.12h1.1v1.1h-1.1zM558.51 290.87h1.1v1.1h-1.1zM547.71 272.11h1.1v1.1h-1.1zM557.68 290.04h1.1v1.1h-1.1zM545.22 275.12h1.1v1.1h-1.1zM545.88 268.88h1.1v1.1h-1.1zM541.23 269.07h1.1v1.1h-1.1zM549.41 288.24h1.1v1.1h-1.1zM547.97 290.79h1.1v1.1h-1.1zM554.97 287.35h1.1v1.1h-1.1zM560.29 278.7h1.1v1.1h-1.1zM545.64 287.74h1.1v1.1h-1.1zM552.26 288.63h1.1v1.1h-1.1zM559.54 291h1.1v1.1h-1.1zM549.63 279.89h1.1v1.1h-1.1zM542.95 273.82h1.1v1.1h-1.1zM546.1 276.84h1.1v1.1h-1.1zM551.14 286.03h1.1v1.1h-1.1zM546.24 291.98h1.1v1.1h-1.1zM540.37 271.72h1.1v1.1h-1.1zM544.34 276.71h1.1v1.1h-1.1zM538.5 279.37h1.1v1.1h-1.1zM545.46 281.01h1.1v1.1h-1.1zM543.68 292.51h1.1v1.1h-1.1zM544.07 288.26h1.1v1.1h-1.1zM538.97 275.28h1.1v1.1h-1.1zM543.28 283.57h1.1v1.1h-1.1zM560.55 273.73h1.1v1.1h-1.1zM559.83 271.45h1.1v1.1h-1.1zM539.13 286.93h1.1v1.1h-1.1zM536.31 276.26h1.1v1.1h-1.1zM553.79 284.95h1.1v1.1h-1.1zM546.87 276.8h1.1v1.1h-1.1zM554.77 287.68h1.1v1.1h-1.1zM558.83 284.93h1.1v1.1h-1.1zM552.83 289.45h1.1v1.1h-1.1zM538.67 270.09h1.1v1.1h-1.1zM555.73 275.39h1.1v1.1h-1.1zM536.61 293.2h1.1v1.1h-1.1zM539.96 289.01h1.1v1.1h-1.1zM543.85 284.17h1.1v1.1h-1.1zM536.57 286.02h1.1v1.1h-1.1zM553.09 289.5h1.1v1.1h-1.1zM558.63 279.16h1.1v1.1h-1.1zM555.25 287.51h1.1v1.1h-1.1zM547.48 276.13h1.1v1.1h-1.1zM545.11 294.23h1.1v1.1h-1.1zM558.49 273.69h1.1v1.1h-1.1zM543.39 293.12h1.1v1.1h-1.1zM559.04 278.17h1.1v1.1h-1.1zM536.8 287.78h1.1v1.1h-1.1zM538.56 273.3h1.1v1.1h-1.1zM541.28 270.04h1.1v1.1h-1.1zM556.15 291.98h1.1v1.1h-1.1zM554.64 283.83h1.1v1.1h-1.1zM556.1 272.31h1.1v1.1h-1.1zM543.24 291.87h1.1v1.1h-1.1zM561.58 283.03h1.1v1.1h-1.1zM561.14 275.94h1.1v1.1h-1.1zM555.85 272.28h1.1v1.1h-1.1zM552.81 282.27h1.1v1.1h-1.1zM536.99 275.77h1.1v1.1h-1.1zM547.3 280.7h1.1v1.1h-1.1zM561.08 290.88h1.1v1.1h-1.1zM556.5 293.1h1.1v1.1h-1.1zM546.61 213.23h1.1v1.1h-1.1zM547.66 216.91h1.1v1.1h-1.1zM542.41 220.59h1.1v1.1h-1.1zM562.9 218.49h1.1v1.1h-1.1zM582.34 219.8h1.1v1.1h-1.1zM576.04 227.16h1.1v1.1h-1.1zM603.89 222.69h1.1v1.1h-1.1zM607.83 224.79h1.1v1.1h-1.1zM548.71 234.51h1.1v1.1h-1.1zM573.41 239.5h1.1v1.1h-1.1zM597.58 238.72h1.1v1.1h-1.1zM603.89 240.82h1.1v1.1h-1.1zM570.78 245.28h1.1v1.1h-1.1zM623.59 244.5h1.1v1.1h-1.1zM504.05 241.61h1.1v1.1h-1.1zM553.97 250.28h1.1v1.1h-1.1zM489.33 253.43h1.1v1.1h-1.1zM503.78 252.9h1.1v1.1h-1.1zM507.72 254.22h1.1v1.1h-1.1zM488.28 258.16h1.1v1.1h-1.1zM500.63 259.47h1.1v1.1h-1.1zM507.72 260.79h1.1v1.1h-1.1zM518.5 261.58h1.1v1.1h-1.1zM534.79 262.1h1.1v1.1h-1.1zM537.94 258.95h1.1v1.1h-1.1zM615.97 266.83h1.1v1.1h-1.1zM485.39 260h1.1v1.1h-1.1zM498 282.33h1.1v1.1h-1.1zM500.37 286.27h1.1v1.1h-1.1zM566.84 285.75h1.1v1.1h-1.1zM485.39 291h1.1v1.1h-1.1zM512.72 294.94h1.1v1.1h-1.1zM521.65 299.94h1.1v1.1h-1.1zM527.69 296.78h1.1v1.1h-1.1zM534 298.62h1.1v1.1h-1.1zM496.16 297.57h1.1v1.1h-1.1zM501.68 304.66h1.1v1.1h-1.1zM495.9 301.25h1.1v1.1h-1.1zM498 306.5h1.1v1.1h-1.1zM512.19 305.45h1.1v1.1h-1.1zM584.45 306.24h1.1v1.1h-1.1zM504.57 310.71h1.1v1.1h-1.1zM505.1 309.92h1.1v1.1h-1.1zM491.96 313.07h1.1v1.1h-1.1zM494.59 313.07h1.1v1.1h-1.1zM485.39 296.26h1.1v1.1h-1.1zM542.67 312.55h1.1v1.1h-1.1zM555.02 313.86h1.1v1.1h-1.1zM572.62 315.96h1.1v1.1h-1.1zM569.47 317.8h1.1v1.1h-1.1zM530.58 319.9h1.1v1.1h-1.1zM512.45 320.43h1.1v1.1h-1.1zM490.91 322.53h1.1v1.1h-1.1zM494.59 324.63h1.1v1.1h-1.1zM495.11 327.79h1.1v1.1h-1.1zM503.26 325.95h1.1v1.1h-1.1zM512.45 324.9h1.1v1.1h-1.1zM518.76 323.06h1.1v1.1h-1.1zM542.67 320.95h1.1v1.1h-1.1zM546.08 320.95h1.1v1.1h-1.1zM539.25 326.47h1.1v1.1h-1.1zM559.22 323.06h1.1v1.1h-1.1zM594.69 323.85h1.1v1.1h-1.1zM609.41 325.95h1.1v1.1h-1.1zM631.21 319.9h1.1v1.1h-1.1zM494.06 330.94h1.1v1.1h-1.1zM520.86 330.41h1.1v1.1h-1.1zM514.03 328.84h1.1v1.1h-1.1zM514.03 332.52h1.1v1.1h-1.1zM507.72 332.25h1.1v1.1h-1.1zM541.09 329.89h1.1v1.1h-1.1zM506.67 334.09h1.1v1.1h-1.1zM547.14 335.67h1.1v1.1h-1.1zM576.04 335.67h1.1v1.1h-1.1zM650.92 330.94h1.1v1.1h-1.1z" fill="#0000ff" fill-opacity="0.78"/>
<text class="c" x="455.8" y="372.8" textLength="12.85" lengthAdjust="spacingAndGlyphs" font-weight="bold">(f)</text>
<text class="c" x="473.38" y="372.8" textLength="50.76" lengthAdjust="spacingAndGlyphs">Diagonal</text>
<text class="c" x="528.87" y="372.8" textLength="61.21" lengthAdjust="spacingAndGlyphs">correlation</text>
<text class="c" x="594.8" y="372.8" textLength="10.55" lengthAdjust="spacingAndGlyphs">of</text>
<text class="c" x="610.08" y="372.8" textLength="34.21" lengthAdjust="spacingAndGlyphs">Single</text>
<text class="c" x="649.01" y="372.8" textLength="32.39" lengthAdjust="spacingAndGlyphs">S-box</text>
<text class="c" x="456.4" y="387.65" textLength="64.19" lengthAdjust="spacingAndGlyphs">substituted</text>
<text class="c" x="524.96" y="387.65" textLength="33.48" lengthAdjust="spacingAndGlyphs">image</text>
<path d="M29.1 421.3V544.4H201.4" fill="none" stroke="#acacac" stroke-width="1"/>
<path d="M29.1 544.4v-1.9M57.82 544.4v-1.9M86.53 544.4v-1.9M115.25 544.4v-1.9M143.97 544.4v-1.9M172.68 544.4v-1.9M201.4 544.4v-1.9M29.1 544.4h1.9M29.1 519.88h1.9M29.1 495.36h1.9M29.1 470.84h1.9M29.1 446.32h1.9M29.1 421.8h1.9" stroke="#666" stroke-width="0.7"/>
<g transform="scale(1.08,1)" font-size="4.9" fill="#555555"><text x="26.94" y="551.7" text-anchor="middle">0</text><text x="53.53" y="551.7" text-anchor="middle">50</text><text x="80.12" y="551.7" text-anchor="middle">100</text><text x="106.71" y="551.7" text-anchor="middle">150</text><text x="133.3" y="551.7" text-anchor="middle">200</text><text x="159.89" y="551.7" text-anchor="middle">250</text><text x="186.48" y="551.7" text-anchor="middle">300</text><text x="24.72" y="546.6" text-anchor="end">0</text><text x="24.72" y="522.08" text-anchor="end">50</text><text x="24.72" y="497.56" text-anchor="end">100</text><text x="24.72" y="473.04" text-anchor="end">150</text><text x="24.72" y="448.52" text-anchor="end">200</text><text x="24.72" y="424" text-anchor="end">250</text></g>
<text transform="translate(115.25,562.2) scale(1.08,1)" text-anchor="middle" font-weight="bold" font-size="8.45" fill="#353535">Pixel values at location (x,y)</text>
<text transform="translate(13.6,483.1) scale(1.08,1) rotate(-90)" text-anchor="middle" font-weight="bold" font-size="8.45" fill="#353535">Pixel values at location (x+1,y)</text>
<path d="M86.46 497.81h1.1v1.1h-1.1zM87.98 487.56h1.1v1.1h-1.1zM93.1 492.8h1.1v1.1h-1.1zM85.77 492.58h1.1v1.1h-1.1zM91.3 490.69h1.1v1.1h-1.1zM86.32 490.65h1.1v1.1h-1.1zM87.59 490.14h1.1v1.1h-1.1zM86.91 496.8h1.1v1.1h-1.1zM88.48 489.32h1.1v1.1h-1.1zM84.56 492.23h1.1v1.1h-1.1zM91.23 493.12h1.1v1.1h-1.1zM86.09 485.07h1.1v1.1h-1.1zM91.07 488.43h1.1v1.1h-1.1zM85.11 486.41h1.1v1.1h-1.1zM82.72 493.6h1.1v1.1h-1.1zM90.76 487.42h1.1v1.1h-1.1zM85.16 494.09h1.1v1.1h-1.1zM88.94 498.31h1.1v1.1h-1.1zM90.42 490h1.1v1.1h-1.1zM86.78 490.07h1.1v1.1h-1.1zM90.88 490.84h1.1v1.1h-1.1zM90.03 486.82h1.1v1.1h-1.1zM86.68 491.33h1.1v1.1h-1.1zM86.53 488.42h1.1v1.1h-1.1zM86.92 490.29h1.1v1.1h-1.1zM88.74 491.65h1.1v1.1h-1.1zM94.02 492.15h1.1v1.1h-1.1zM93.01 489.12h1.1v1.1h-1.1zM92.68 492.42h1.1v1.1h-1.1zM91.38 489.36h1.1v1.1h-1.1zM86.23 490.97h1.1v1.1h-1.1zM87.85 491.99h1.1v1.1h-1.1zM92.62 494.26h1.1v1.1h-1.1zM82.68 497.64h1.1v1.1h-1.1zM86.77 494.01h1.1v1.1h-1.1zM88.33 489.99h1.1v1.1h-1.1zM94.14 490.84h1.1v1.1h-1.1zM89.82 494.3h1.1v1.1h-1.1zM90.21 487.37h1.1v1.1h-1.1zM92.74 498.34h1.1v1.1h-1.1zM91.24 486.62h1.1v1.1h-1.1zM91.03 496.81h1.1v1.1h-1.1zM87.26 489.92h1.1v1.1h-1.1zM89.66 494.55h1.1v1.1h-1.1zM85.32 488.67h1.1v1.1h-1.1zM77.62 482.46h1.1v1.1h-1.1zM88.44 489.89h1.1v1.1h-1.1zM77.63 495.78h1.1v1.1h-1.1zM93.78 501.51h1.1v1.1h-1.1zM104.82 501.07h1.1v1.1h-1.1zM78.53 491.58h1.1v1.1h-1.1zM92.12 487.06h1.1v1.1h-1.1zM85.32 493.23h1.1v1.1h-1.1zM86.4 495.63h1.1v1.1h-1.1zM67.71 485.57h1.1v1.1h-1.1zM90.28 490.83h1.1v1.1h-1.1zM83.27 490.22h1.1v1.1h-1.1zM88.18 492.37h1.1v1.1h-1.1zM97.09 503.14h1.1v1.1h-1.1zM90.29 498.85h1.1v1.1h-1.1zM85.75 482.06h1.1v1.1h-1.1zM79.64 492.52h1.1v1.1h-1.1zM83.57 485.65h1.1v1.1h-1.1zM80.48 502.88h1.1v1.1h-1.1zM92.38 494.18h1.1v1.1h-1.1zM85.74 484.8h1.1v1.1h-1.1zM81.21 494.31h1.1v1.1h-1.1zM89.46 489.16h1.1v1.1h-1.1zM84.16 485.1h1.1v1.1h-1.1zM106.14 494.54h1.1v1.1h-1.1zM103.18 505.67h1.1v1.1h-1.1zM99.49 494.12h1.1v1.1h-1.1zM89.37 494.09h1.1v1.1h-1.1zM83.21 500.22h1.1v1.1h-1.1zM85.14 483.39h1.1v1.1h-1.1zM101.8 492.34h1.1v1.1h-1.1zM92.68 496.79h1.1v1.1h-1.1zM83.6 482.42h1.1v1.1h-1.1zM74.18 499.5h1.1v1.1h-1.1zM93.62 493.16h1.1v1.1h-1.1zM75.89 487.93h1.1v1.1h-1.1zM84.46 489.89h1.1v1.1h-1.1zM85.78 491.13h1.1v1.1h-1.1zM90.22 494.41h1.1v1.1h-1.1zM76.76 499.7h1.1v1.1h-1.1zM99.93 490.69h1.1v1.1h-1.1zM76.7 482.99h1.1v1.1h-1.1zM80.92 501.8h1.1v1.1h-1.1zM89.2 497.96h1.1v1.1h-1.1zM87.96 490.54h1.1v1.1h-1.1zM80.11 490.08h1.1v1.1h-1.1zM76.72 491.54h1.1v1.1h-1.1zM90.92 502.16h1.1v1.1h-1.1zM85.53 502.33h1.1v1.1h-1.1zM86.47 482.96h1.1v1.1h-1.1zM89.79 486.61h1.1v1.1h-1.1zM95.95 501.32h1.1v1.1h-1.1zM102.93 486.43h1.1v1.1h-1.1zM76.4 483.77h1.1v1.1h-1.1zM85.05 499.93h1.1v1.1h-1.1zM92.58 463.87h1.1v1.1h-1.1zM88.57 464.51h1.1v1.1h-1.1zM88.47 463.93h1.1v1.1h-1.1zM88.55 460.1h1.1v1.1h-1.1zM92.89 462.56h1.1v1.1h-1.1zM88.95 460.52h1.1v1.1h-1.1zM87.32 465.92h1.1v1.1h-1.1zM91.95 465.57h1.1v1.1h-1.1zM91.36 465.66h1.1v1.1h-1.1zM94.34 465.88h1.1v1.1h-1.1zM91.09 458.7h1.1v1.1h-1.1zM85.1 458.74h1.1v1.1h-1.1zM85.56 467.92h1.1v1.1h-1.1zM90.67 460.95h1.1v1.1h-1.1zM87.61 470.07h1.1v1.1h-1.1zM88.1 463.8h1.1v1.1h-1.1zM87.03 463.75h1.1v1.1h-1.1zM82.36 464.54h1.1v1.1h-1.1zM94.24 458.57h1.1v1.1h-1.1zM87.08 464.95h1.1v1.1h-1.1zM89.59 459.93h1.1v1.1h-1.1zM90.67 466.24h1.1v1.1h-1.1zM88.82 462.54h1.1v1.1h-1.1zM93.04 459.55h1.1v1.1h-1.1zM90.01 459.5h1.1v1.1h-1.1zM86.97 458.59h1.1v1.1h-1.1zM86.87 461.82h1.1v1.1h-1.1zM91.32 465.51h1.1v1.1h-1.1zM85.96 467.9h1.1v1.1h-1.1zM88.83 463.09h1.1v1.1h-1.1zM87.2 461.53h1.1v1.1h-1.1zM81.28 463h1.1v1.1h-1.1zM88.57 463.69h1.1v1.1h-1.1zM90.91 457.98h1.1v1.1h-1.1zM86.81 465.59h1.1v1.1h-1.1zM86.28 462.67h1.1v1.1h-1.1zM90.22 465.37h1.1v1.1h-1.1zM91.59 465.83h1.1v1.1h-1.1zM91.02 461.73h1.1v1.1h-1.1zM89.81 456.84h1.1v1.1h-1.1zM87.41 463.4h1.1v1.1h-1.1zM89.86 460.5h1.1v1.1h-1.1zM83.85 462.16h1.1v1.1h-1.1zM85.83 461.15h1.1v1.1h-1.1zM92.81 462.79h1.1v1.1h-1.1zM87.43 461.93h1.1v1.1h-1.1zM64.75 458.7h1.1v1.1h-1.1zM92.75 462.03h1.1v1.1h-1.1zM85.13 466.95h1.1v1.1h-1.1zM86.85 456.27h1.1v1.1h-1.1zM87.47 455.53h1.1v1.1h-1.1zM67.8 465.46h1.1v1.1h-1.1zM90.46 463.01h1.1v1.1h-1.1zM75.06 466.59h1.1v1.1h-1.1zM98.23 470.03h1.1v1.1h-1.1zM80.39 468.96h1.1v1.1h-1.1zM83.89 459.4h1.1v1.1h-1.1zM93.01 474.09h1.1v1.1h-1.1zM99.91 466.19h1.1v1.1h-1.1zM83.59 453.77h1.1v1.1h-1.1zM87.63 469.74h1.1v1.1h-1.1zM83.19 466.93h1.1v1.1h-1.1zM80.24 464.76h1.1v1.1h-1.1zM95.27 461.01h1.1v1.1h-1.1zM77.28 447.62h1.1v1.1h-1.1zM80.4 462.3h1.1v1.1h-1.1zM88.53 458.75h1.1v1.1h-1.1zM85.67 460.43h1.1v1.1h-1.1zM105.05 462.41h1.1v1.1h-1.1zM79.66 461.13h1.1v1.1h-1.1zM81.89 464.97h1.1v1.1h-1.1zM89.78 461.08h1.1v1.1h-1.1zM86.02 458.27h1.1v1.1h-1.1zM86.75 470.1h1.1v1.1h-1.1zM95.27 464.93h1.1v1.1h-1.1zM100.86 461.22h1.1v1.1h-1.1zM75.74 469.55h1.1v1.1h-1.1zM90.68 452.89h1.1v1.1h-1.1zM84.01 457.28h1.1v1.1h-1.1zM86.14 455.35h1.1v1.1h-1.1zM75.37 463.25h1.1v1.1h-1.1zM100.2 467.55h1.1v1.1h-1.1zM81.04 472.76h1.1v1.1h-1.1zM78.26 467.71h1.1v1.1h-1.1zM94.38 468.74h1.1v1.1h-1.1zM85.28 469.11h1.1v1.1h-1.1zM91.35 455.44h1.1v1.1h-1.1zM92.7 469.18h1.1v1.1h-1.1zM95.27 453.39h1.1v1.1h-1.1zM91.3 471.6h1.1v1.1h-1.1zM97.52 455.2h1.1v1.1h-1.1zM83.54 470.42h1.1v1.1h-1.1zM78.97 462.17h1.1v1.1h-1.1zM99.49 460.05h1.1v1.1h-1.1zM100.91 468.86h1.1v1.1h-1.1zM83.11 457.8h1.1v1.1h-1.1zM92.73 464.88h1.1v1.1h-1.1zM93.63 466.28h1.1v1.1h-1.1zM75.06 464.7h1.1v1.1h-1.1zM74.71 460.33h1.1v1.1h-1.1zM86.24 437.41h1.1v1.1h-1.1zM86.11 441.68h1.1v1.1h-1.1zM87.73 440.26h1.1v1.1h-1.1zM92.24 442.09h1.1v1.1h-1.1zM89.45 440.45h1.1v1.1h-1.1zM84.11 443.48h1.1v1.1h-1.1zM87.55 439.23h1.1v1.1h-1.1zM89.34 439.02h1.1v1.1h-1.1zM88.44 441.65h1.1v1.1h-1.1zM89.7 443.22h1.1v1.1h-1.1zM83.82 441.32h1.1v1.1h-1.1zM83.54 441.83h1.1v1.1h-1.1zM85.8 441.95h1.1v1.1h-1.1zM88.13 442.64h1.1v1.1h-1.1zM86.88 445.22h1.1v1.1h-1.1zM88.76 442.87h1.1v1.1h-1.1zM89.62 448.39h1.1v1.1h-1.1zM85.62 439.69h1.1v1.1h-1.1zM80.17 441.4h1.1v1.1h-1.1zM88.59 440.08h1.1v1.1h-1.1zM83.31 439.72h1.1v1.1h-1.1zM88.78 443.14h1.1v1.1h-1.1zM90.76 440.51h1.1v1.1h-1.1zM88.34 441.65h1.1v1.1h-1.1zM90.1 440.1h1.1v1.1h-1.1zM92.06 439.09h1.1v1.1h-1.1zM86.23 441.01h1.1v1.1h-1.1zM91.34 441.41h1.1v1.1h-1.1zM89.55 438.89h1.1v1.1h-1.1zM87.68 446.99h1.1v1.1h-1.1zM88.72 439.77h1.1v1.1h-1.1zM88.73 442.53h1.1v1.1h-1.1zM92.31 440.76h1.1v1.1h-1.1zM86.2 442.42h1.1v1.1h-1.1zM89.48 443.48h1.1v1.1h-1.1zM84.95 434.69h1.1v1.1h-1.1zM92.65 437.38h1.1v1.1h-1.1zM92.83 438.68h1.1v1.1h-1.1zM82.66 436.98h1.1v1.1h-1.1zM92.41 438.98h1.1v1.1h-1.1zM81.76 436.84h1.1v1.1h-1.1zM92.83 441.78h1.1v1.1h-1.1zM88.71 438.16h1.1v1.1h-1.1zM88 437.25h1.1v1.1h-1.1zM88.55 438.41h1.1v1.1h-1.1zM88.97 448.57h1.1v1.1h-1.1zM80.28 422.83h1.1v1.1h-1.1zM90.52 433.11h1.1v1.1h-1.1zM97.43 430.87h1.1v1.1h-1.1zM92.74 443.68h1.1v1.1h-1.1zM88.43 451.02h1.1v1.1h-1.1zM86.77 435.35h1.1v1.1h-1.1zM70.89 439.28h1.1v1.1h-1.1zM94.91 433.01h1.1v1.1h-1.1zM80.83 443.99h1.1v1.1h-1.1zM73.19 446.03h1.1v1.1h-1.1zM92.58 428.89h1.1v1.1h-1.1zM79.06 432.72h1.1v1.1h-1.1zM91.72 443.12h1.1v1.1h-1.1zM105.95 454.38h1.1v1.1h-1.1zM87.74 439.16h1.1v1.1h-1.1zM105.44 430.39h1.1v1.1h-1.1zM106.52 439.63h1.1v1.1h-1.1zM96.18 432.79h1.1v1.1h-1.1zM92.41 438.37h1.1v1.1h-1.1zM86.8 442.65h1.1v1.1h-1.1zM78.37 429.54h1.1v1.1h-1.1zM84.68 451.94h1.1v1.1h-1.1zM90.41 440.56h1.1v1.1h-1.1zM89.7 430.28h1.1v1.1h-1.1zM87.42 441.85h1.1v1.1h-1.1zM82.26 440.5h1.1v1.1h-1.1zM84.74 439.24h1.1v1.1h-1.1zM113.48 438.19h1.1v1.1h-1.1zM81.37 429.64h1.1v1.1h-1.1zM76.95 440.64h1.1v1.1h-1.1zM77.4 441.85h1.1v1.1h-1.1zM78.69 436.56h1.1v1.1h-1.1zM77.77 435.47h1.1v1.1h-1.1zM88.3 448.36h1.1v1.1h-1.1zM83.91 440.45h1.1v1.1h-1.1zM100.79 443.48h1.1v1.1h-1.1zM79.77 430.75h1.1v1.1h-1.1zM99.72 435.61h1.1v1.1h-1.1zM81.5 447.02h1.1v1.1h-1.1zM81.25 449.25h1.1v1.1h-1.1zM74.64 440.2h1.1v1.1h-1.1zM85.54 439.21h1.1v1.1h-1.1zM84.18 450.46h1.1v1.1h-1.1zM93.9 437.22h1.1v1.1h-1.1zM89.59 439.37h1.1v1.1h-1.1zM93.96 430.44h1.1v1.1h-1.1zM99.45 435.89h1.1v1.1h-1.1zM85.27 444.12h1.1v1.1h-1.1zM85.87 430.63h1.1v1.1h-1.1zM84.91 442.74h1.1v1.1h-1.1zM85.59 447.73h1.1v1.1h-1.1zM103.16 450.57h1.1v1.1h-1.1zM91.5 431.6h1.1v1.1h-1.1zM80.95 438.09h1.1v1.1h-1.1zM120.91 490.09h1.1v1.1h-1.1zM123.29 490.25h1.1v1.1h-1.1zM126.07 496.88h1.1v1.1h-1.1zM123.66 492.46h1.1v1.1h-1.1zM121.69 494.72h1.1v1.1h-1.1zM120.1 495.31h1.1v1.1h-1.1zM119.06 483.47h1.1v1.1h-1.1zM128.45 491.83h1.1v1.1h-1.1zM125.23 495.13h1.1v1.1h-1.1zM113.4 497.96h1.1v1.1h-1.1zM123.21 487.05h1.1v1.1h-1.1zM122.6 495.21h1.1v1.1h-1.1zM121.93 495.2h1.1v1.1h-1.1zM118.06 492.64h1.1v1.1h-1.1zM121.4 494.58h1.1v1.1h-1.1zM119.77 494.98h1.1v1.1h-1.1zM123.53 487.21h1.1v1.1h-1.1zM122.03 484.39h1.1v1.1h-1.1zM117.31 490.95h1.1v1.1h-1.1zM118.86 492.41h1.1v1.1h-1.1zM123.08 490h1.1v1.1h-1.1zM126.53 493.72h1.1v1.1h-1.1zM118.57 492.5h1.1v1.1h-1.1zM123.73 494.2h1.1v1.1h-1.1zM125.74 486.23h1.1v1.1h-1.1zM117.96 490.66h1.1v1.1h-1.1zM126.15 498.3h1.1v1.1h-1.1zM123.43 492.62h1.1v1.1h-1.1zM117.96 487.47h1.1v1.1h-1.1zM123.47 493.47h1.1v1.1h-1.1zM124.23 489.72h1.1v1.1h-1.1zM125.33 489.93h1.1v1.1h-1.1zM124.11 495.8h1.1v1.1h-1.1zM121.33 491.44h1.1v1.1h-1.1zM113.44 484.74h1.1v1.1h-1.1zM121.47 495.4h1.1v1.1h-1.1zM116.63 491.03h1.1v1.1h-1.1zM122.85 493.82h1.1v1.1h-1.1zM121.34 494.84h1.1v1.1h-1.1zM120.22 492.2h1.1v1.1h-1.1zM120.58 489.6h1.1v1.1h-1.1zM122.26 491.43h1.1v1.1h-1.1zM124.1 487.62h1.1v1.1h-1.1zM124.76 491.1h1.1v1.1h-1.1zM122.19 494.56h1.1v1.1h-1.1zM120.72 487.34h1.1v1.1h-1.1zM124.08 494.44h1.1v1.1h-1.1zM114.87 502.04h1.1v1.1h-1.1zM124.64 485.05h1.1v1.1h-1.1zM124.95 500.98h1.1v1.1h-1.1zM121.48 490.39h1.1v1.1h-1.1zM117.32 489.57h1.1v1.1h-1.1zM121.56 497.41h1.1v1.1h-1.1zM115.4 486.48h1.1v1.1h-1.1zM124.85 497.76h1.1v1.1h-1.1zM116.75 485.96h1.1v1.1h-1.1zM126.26 493.89h1.1v1.1h-1.1zM132.15 493.79h1.1v1.1h-1.1zM116.5 484.62h1.1v1.1h-1.1zM121.63 489.58h1.1v1.1h-1.1zM122.97 498.52h1.1v1.1h-1.1zM115.73 493.16h1.1v1.1h-1.1zM131.04 498.53h1.1v1.1h-1.1zM130.76 490.41h1.1v1.1h-1.1zM116.17 490.1h1.1v1.1h-1.1zM126.09 497.83h1.1v1.1h-1.1zM110.17 489.5h1.1v1.1h-1.1zM116.19 488.95h1.1v1.1h-1.1zM111.46 492.81h1.1v1.1h-1.1zM117.96 501.68h1.1v1.1h-1.1zM121.32 490.73h1.1v1.1h-1.1zM119.45 499.69h1.1v1.1h-1.1zM123.99 503.46h1.1v1.1h-1.1zM125.9 488.62h1.1v1.1h-1.1zM132.63 486.01h1.1v1.1h-1.1zM114.05 501.96h1.1v1.1h-1.1zM128.27 490.29h1.1v1.1h-1.1zM113.03 487.43h1.1v1.1h-1.1zM127.35 492.29h1.1v1.1h-1.1zM113.02 487.18h1.1v1.1h-1.1zM120.95 489.81h1.1v1.1h-1.1zM133.61 484.1h1.1v1.1h-1.1zM130.86 500.56h1.1v1.1h-1.1zM119.13 491.42h1.1v1.1h-1.1zM111.96 479.89h1.1v1.1h-1.1zM117.82 497.69h1.1v1.1h-1.1zM118.66 497.87h1.1v1.1h-1.1zM130.57 490.5h1.1v1.1h-1.1zM122.98 493.82h1.1v1.1h-1.1zM112.94 496.66h1.1v1.1h-1.1zM130.75 484.46h1.1v1.1h-1.1zM130.52 497.82h1.1v1.1h-1.1zM116.24 502.85h1.1v1.1h-1.1zM123.54 494.96h1.1v1.1h-1.1zM121.96 492.14h1.1v1.1h-1.1zM124.57 495.16h1.1v1.1h-1.1zM129.32 499.22h1.1v1.1h-1.1zM131.89 490.49h1.1v1.1h-1.1zM112.94 496.42h1.1v1.1h-1.1zM123.46 494.1h1.1v1.1h-1.1zM119.94 463.97h1.1v1.1h-1.1zM121.83 457.74h1.1v1.1h-1.1zM121.34 458.46h1.1v1.1h-1.1zM124.23 466.66h1.1v1.1h-1.1zM115.01 461h1.1v1.1h-1.1zM116.09 460.89h1.1v1.1h-1.1zM126.18 461.82h1.1v1.1h-1.1zM122.04 463.65h1.1v1.1h-1.1zM123.61 463.8h1.1v1.1h-1.1zM120.95 463.99h1.1v1.1h-1.1zM126.65 464.7h1.1v1.1h-1.1zM124.01 466.22h1.1v1.1h-1.1zM120.36 466.85h1.1v1.1h-1.1zM122.08 460.99h1.1v1.1h-1.1zM123.76 464.34h1.1v1.1h-1.1zM124.78 463.92h1.1v1.1h-1.1zM123.98 462.15h1.1v1.1h-1.1zM124.55 469.99h1.1v1.1h-1.1zM118.4 460.73h1.1v1.1h-1.1zM122.38 456.54h1.1v1.1h-1.1zM121.96 464.5h1.1v1.1h-1.1zM127.72 461.35h1.1v1.1h-1.1zM129.07 461.48h1.1v1.1h-1.1zM122.06 460.87h1.1v1.1h-1.1zM120.11 464.2h1.1v1.1h-1.1zM120.89 463.57h1.1v1.1h-1.1zM125.34 464.3h1.1v1.1h-1.1zM123.81 464.35h1.1v1.1h-1.1zM125.68 470.78h1.1v1.1h-1.1zM122.05 462.45h1.1v1.1h-1.1zM119.15 460.05h1.1v1.1h-1.1zM123.46 459.29h1.1v1.1h-1.1zM125.94 461.11h1.1v1.1h-1.1zM122.24 466.02h1.1v1.1h-1.1zM122.01 464.24h1.1v1.1h-1.1zM123.57 464.26h1.1v1.1h-1.1zM132.92 467.48h1.1v1.1h-1.1zM126.65 464.27h1.1v1.1h-1.1zM121.93 460.3h1.1v1.1h-1.1zM122.75 466.38h1.1v1.1h-1.1zM124.12 463.49h1.1v1.1h-1.1zM115.89 462.37h1.1v1.1h-1.1zM119.23 465.05h1.1v1.1h-1.1zM124.35 462.08h1.1v1.1h-1.1zM121.77 456.77h1.1v1.1h-1.1zM125.2 466.33h1.1v1.1h-1.1zM124.13 463.6h1.1v1.1h-1.1zM109.84 471.64h1.1v1.1h-1.1zM114.6 451.52h1.1v1.1h-1.1zM121.66 464.46h1.1v1.1h-1.1zM119.44 457.52h1.1v1.1h-1.1zM122.9 453.51h1.1v1.1h-1.1zM127.35 453.85h1.1v1.1h-1.1zM122.05 460.86h1.1v1.1h-1.1zM120.21 463.87h1.1v1.1h-1.1zM112.62 466.14h1.1v1.1h-1.1zM117.18 466.53h1.1v1.1h-1.1zM129.85 461.49h1.1v1.1h-1.1zM129.91 458.2h1.1v1.1h-1.1zM128.12 457.39h1.1v1.1h-1.1zM119.2 458.51h1.1v1.1h-1.1zM120.86 465.86h1.1v1.1h-1.1zM129.72 451h1.1v1.1h-1.1zM117.02 453.35h1.1v1.1h-1.1zM127.6 467.61h1.1v1.1h-1.1zM124.34 460.89h1.1v1.1h-1.1zM124.93 464.9h1.1v1.1h-1.1zM115.23 462.76h1.1v1.1h-1.1zM127.77 458.61h1.1v1.1h-1.1zM126.6 456.86h1.1v1.1h-1.1zM116.95 463.17h1.1v1.1h-1.1zM124.73 457.43h1.1v1.1h-1.1zM123.65 460.08h1.1v1.1h-1.1zM123.52 451.37h1.1v1.1h-1.1zM109.99 463.07h1.1v1.1h-1.1zM112.16 453.8h1.1v1.1h-1.1zM122.49 456.94h1.1v1.1h-1.1zM124.28 459.04h1.1v1.1h-1.1zM116.83 457.78h1.1v1.1h-1.1zM115.18 467.79h1.1v1.1h-1.1zM112.5 465.13h1.1v1.1h-1.1zM123.14 467.22h1.1v1.1h-1.1zM131.26 471.5h1.1v1.1h-1.1zM124.45 468.41h1.1v1.1h-1.1zM124.82 457.08h1.1v1.1h-1.1zM127.34 471.95h1.1v1.1h-1.1zM117.19 460.89h1.1v1.1h-1.1zM133.28 472.38h1.1v1.1h-1.1zM125.32 458.98h1.1v1.1h-1.1zM129.61 466.19h1.1v1.1h-1.1zM129.52 463.72h1.1v1.1h-1.1zM131.93 473.01h1.1v1.1h-1.1zM132.35 464.75h1.1v1.1h-1.1zM120.71 471.42h1.1v1.1h-1.1zM117.17 458.12h1.1v1.1h-1.1zM126.64 470.12h1.1v1.1h-1.1zM119.34 470.34h1.1v1.1h-1.1zM116.15 468.71h1.1v1.1h-1.1zM119.05 453.13h1.1v1.1h-1.1zM133.59 456.93h1.1v1.1h-1.1zM118.73 439.94h1.1v1.1h-1.1zM124.12 446.7h1.1v1.1h-1.1zM122.79 444.56h1.1v1.1h-1.1zM124.26 436.46h1.1v1.1h-1.1zM126.17 444.64h1.1v1.1h-1.1zM127.32 437.81h1.1v1.1h-1.1zM121.54 438.95h1.1v1.1h-1.1zM127.77 441.31h1.1v1.1h-1.1zM122.69 441.96h1.1v1.1h-1.1zM126.58 446.47h1.1v1.1h-1.1zM127.45 443.12h1.1v1.1h-1.1zM125.81 444.98h1.1v1.1h-1.1zM119.63 442.07h1.1v1.1h-1.1zM125.49 444.97h1.1v1.1h-1.1zM124.74 442.17h1.1v1.1h-1.1zM126.86 441.26h1.1v1.1h-1.1zM124.35 440.86h1.1v1.1h-1.1zM128.69 441.4h1.1v1.1h-1.1zM122.66 434.76h1.1v1.1h-1.1zM123 438.43h1.1v1.1h-1.1zM120.3 439.81h1.1v1.1h-1.1zM115.22 440.08h1.1v1.1h-1.1zM120.6 444.63h1.1v1.1h-1.1zM118.05 437.14h1.1v1.1h-1.1zM124.15 444.67h1.1v1.1h-1.1zM128.76 442.35h1.1v1.1h-1.1zM121.52 439.68h1.1v1.1h-1.1zM118.97 444.95h1.1v1.1h-1.1zM120.27 437.03h1.1v1.1h-1.1zM125.9 444.85h1.1v1.1h-1.1zM126.73 440.28h1.1v1.1h-1.1zM124.4 440.23h1.1v1.1h-1.1zM124.11 443.21h1.1v1.1h-1.1zM119.73 442.37h1.1v1.1h-1.1zM121.52 438.62h1.1v1.1h-1.1zM118.71 435.86h1.1v1.1h-1.1zM120.64 442.04h1.1v1.1h-1.1zM125.07 439.15h1.1v1.1h-1.1zM121.62 443.41h1.1v1.1h-1.1zM119.42 444.9h1.1v1.1h-1.1zM126.53 437.31h1.1v1.1h-1.1zM128.94 438.96h1.1v1.1h-1.1zM123.84 438.23h1.1v1.1h-1.1zM125.9 441.11h1.1v1.1h-1.1zM123.91 434.28h1.1v1.1h-1.1zM112.86 448.11h1.1v1.1h-1.1zM117.12 436.23h1.1v1.1h-1.1zM129.67 442.24h1.1v1.1h-1.1zM126.66 440.64h1.1v1.1h-1.1zM124.49 443.35h1.1v1.1h-1.1zM122.58 440.4h1.1v1.1h-1.1zM129.34 428.08h1.1v1.1h-1.1zM112.15 437.44h1.1v1.1h-1.1zM122.71 435.04h1.1v1.1h-1.1zM128.94 436.08h1.1v1.1h-1.1zM127.46 445.61h1.1v1.1h-1.1zM112.79 431.18h1.1v1.1h-1.1zM129.8 445.62h1.1v1.1h-1.1zM130.27 436.7h1.1v1.1h-1.1zM108.42 435.42h1.1v1.1h-1.1zM116.98 433.95h1.1v1.1h-1.1zM118.76 444.47h1.1v1.1h-1.1zM113.72 441.57h1.1v1.1h-1.1zM128.68 444.08h1.1v1.1h-1.1zM111.88 428.56h1.1v1.1h-1.1zM133.52 436.57h1.1v1.1h-1.1zM119.6 447.05h1.1v1.1h-1.1zM113.17 437.3h1.1v1.1h-1.1zM130.33 446.22h1.1v1.1h-1.1zM122.74 441.91h1.1v1.1h-1.1zM121.24 437.61h1.1v1.1h-1.1zM134.96 443.89h1.1v1.1h-1.1zM127.7 434.37h1.1v1.1h-1.1zM121.08 441.2h1.1v1.1h-1.1zM114.9 434.43h1.1v1.1h-1.1zM125.83 444.89h1.1v1.1h-1.1zM128.47 444.68h1.1v1.1h-1.1zM123.71 442.01h1.1v1.1h-1.1zM133.18 437.31h1.1v1.1h-1.1zM129.4 436.74h1.1v1.1h-1.1zM120.13 430.84h1.1v1.1h-1.1zM127.32 436.44h1.1v1.1h-1.1zM117.88 447.34h1.1v1.1h-1.1zM124.38 433.66h1.1v1.1h-1.1zM129.15 443.52h1.1v1.1h-1.1zM114.88 440.05h1.1v1.1h-1.1zM130.98 447.33h1.1v1.1h-1.1zM127.94 447.16h1.1v1.1h-1.1zM118.64 449.57h1.1v1.1h-1.1zM118.32 442.79h1.1v1.1h-1.1zM132.93 430.86h1.1v1.1h-1.1zM115.91 444.3h1.1v1.1h-1.1zM132.42 446.61h1.1v1.1h-1.1zM118.83 441.65h1.1v1.1h-1.1zM114.19 445.31h1.1v1.1h-1.1zM120.43 442.73h1.1v1.1h-1.1zM132.86 445.18h1.1v1.1h-1.1zM116.28 431.96h1.1v1.1h-1.1zM121.65 433.43h1.1v1.1h-1.1zM125.73 434.64h1.1v1.1h-1.1zM148.38 490.06h1.1v1.1h-1.1zM149.33 495.73h1.1v1.1h-1.1zM144.37 493.71h1.1v1.1h-1.1zM149.21 494.62h1.1v1.1h-1.1zM144.15 486.04h1.1v1.1h-1.1zM146.37 492.39h1.1v1.1h-1.1zM147.33 493.81h1.1v1.1h-1.1zM149.29 492.86h1.1v1.1h-1.1zM151.22 495.8h1.1v1.1h-1.1zM144.21 485.39h1.1v1.1h-1.1zM148.91 489.32h1.1v1.1h-1.1zM153.09 490.03h1.1v1.1h-1.1zM149.28 497.03h1.1v1.1h-1.1zM143.82 488.62h1.1v1.1h-1.1zM151.42 489.98h1.1v1.1h-1.1zM143.63 498.95h1.1v1.1h-1.1zM145.64 495.8h1.1v1.1h-1.1zM149.69 495.27h1.1v1.1h-1.1zM154.44 493.94h1.1v1.1h-1.1zM147.28 488.99h1.1v1.1h-1.1zM150.26 494.86h1.1v1.1h-1.1zM151.9 485.47h1.1v1.1h-1.1zM145.06 492.69h1.1v1.1h-1.1zM145.56 498.33h1.1v1.1h-1.1zM151.25 489.54h1.1v1.1h-1.1zM152.42 490.44h1.1v1.1h-1.1zM142.43 491.96h1.1v1.1h-1.1zM146.93 495.79h1.1v1.1h-1.1zM145.46 489.32h1.1v1.1h-1.1zM148.17 485.32h1.1v1.1h-1.1zM150.74 498.23h1.1v1.1h-1.1zM152.15 487.7h1.1v1.1h-1.1zM149.26 495.91h1.1v1.1h-1.1zM155.08 496.25h1.1v1.1h-1.1zM148.88 498.23h1.1v1.1h-1.1zM144.96 497.54h1.1v1.1h-1.1zM152.81 487.93h1.1v1.1h-1.1zM147.8 496.4h1.1v1.1h-1.1zM148.96 490.6h1.1v1.1h-1.1zM144.04 495.74h1.1v1.1h-1.1zM148.82 489.52h1.1v1.1h-1.1zM149.41 490.36h1.1v1.1h-1.1zM144.97 500.19h1.1v1.1h-1.1zM150.21 494.94h1.1v1.1h-1.1zM148.74 493.13h1.1v1.1h-1.1zM152.3 497h1.1v1.1h-1.1zM158.6 491.66h1.1v1.1h-1.1zM152.62 487.69h1.1v1.1h-1.1zM155.94 489.18h1.1v1.1h-1.1zM137.72 496.05h1.1v1.1h-1.1zM161.33 488.72h1.1v1.1h-1.1zM152.83 488.76h1.1v1.1h-1.1zM144.96 496.38h1.1v1.1h-1.1zM144.93 484.16h1.1v1.1h-1.1zM151.55 480.02h1.1v1.1h-1.1zM152.43 479.27h1.1v1.1h-1.1zM152.16 499.75h1.1v1.1h-1.1zM160.57 489.62h1.1v1.1h-1.1zM156.98 490.44h1.1v1.1h-1.1zM147.01 490.74h1.1v1.1h-1.1zM141.79 499.84h1.1v1.1h-1.1zM143.33 495.37h1.1v1.1h-1.1zM140.25 492.56h1.1v1.1h-1.1zM151.16 478.32h1.1v1.1h-1.1zM161.26 492.2h1.1v1.1h-1.1zM154.97 493.33h1.1v1.1h-1.1zM151.73 492.09h1.1v1.1h-1.1zM145.6 491.36h1.1v1.1h-1.1zM139.43 488.92h1.1v1.1h-1.1zM147.25 499.11h1.1v1.1h-1.1zM146.79 488.16h1.1v1.1h-1.1zM144.68 488.69h1.1v1.1h-1.1zM152.92 481.43h1.1v1.1h-1.1zM142 492.61h1.1v1.1h-1.1zM152.53 481.81h1.1v1.1h-1.1zM141.84 497.61h1.1v1.1h-1.1zM150.61 486.93h1.1v1.1h-1.1zM160.57 485.8h1.1v1.1h-1.1zM159.97 481.57h1.1v1.1h-1.1zM154.53 486.49h1.1v1.1h-1.1zM138.61 499.09h1.1v1.1h-1.1zM137.41 482.95h1.1v1.1h-1.1zM154.51 488.68h1.1v1.1h-1.1zM143.46 495.41h1.1v1.1h-1.1zM141.05 488.63h1.1v1.1h-1.1zM161.02 496.63h1.1v1.1h-1.1zM138.17 499.83h1.1v1.1h-1.1zM145.67 482.08h1.1v1.1h-1.1zM156.5 492.97h1.1v1.1h-1.1zM139.56 501.51h1.1v1.1h-1.1zM140.81 485.06h1.1v1.1h-1.1zM148.47 479.84h1.1v1.1h-1.1zM159.09 484.64h1.1v1.1h-1.1zM148.59 483.97h1.1v1.1h-1.1zM140.19 501.46h1.1v1.1h-1.1zM150.69 491.67h1.1v1.1h-1.1zM142.15 497.95h1.1v1.1h-1.1zM137.61 481.84h1.1v1.1h-1.1zM154.23 480.95h1.1v1.1h-1.1zM160.75 493.42h1.1v1.1h-1.1zM148.79 465.81h1.1v1.1h-1.1zM151.67 468.16h1.1v1.1h-1.1zM149.53 462.58h1.1v1.1h-1.1zM150.18 459.13h1.1v1.1h-1.1zM148.82 462.66h1.1v1.1h-1.1zM152.09 467.46h1.1v1.1h-1.1zM148.16 462.74h1.1v1.1h-1.1zM152.43 465.27h1.1v1.1h-1.1zM151.91 461.81h1.1v1.1h-1.1zM144.08 467.25h1.1v1.1h-1.1zM144.26 462.53h1.1v1.1h-1.1zM149.87 460.82h1.1v1.1h-1.1zM151.97 464.55h1.1v1.1h-1.1zM152.82 460.54h1.1v1.1h-1.1zM150.77 461.53h1.1v1.1h-1.1zM144.76 461.88h1.1v1.1h-1.1zM145.62 466.42h1.1v1.1h-1.1zM147.96 462.53h1.1v1.1h-1.1zM148.98 463.9h1.1v1.1h-1.1zM145.73 462.39h1.1v1.1h-1.1zM146.62 467.05h1.1v1.1h-1.1zM149.48 458.68h1.1v1.1h-1.1zM147.77 466.04h1.1v1.1h-1.1zM153.9 457.92h1.1v1.1h-1.1zM148.15 463.55h1.1v1.1h-1.1zM149.89 454.3h1.1v1.1h-1.1zM149.62 460.02h1.1v1.1h-1.1zM150.68 468.26h1.1v1.1h-1.1zM145.38 466.54h1.1v1.1h-1.1zM150.65 462.62h1.1v1.1h-1.1zM155.3 463.73h1.1v1.1h-1.1zM150.22 462.71h1.1v1.1h-1.1zM149.64 456.15h1.1v1.1h-1.1zM150.14 458.62h1.1v1.1h-1.1zM153.61 464.71h1.1v1.1h-1.1zM151.51 464.05h1.1v1.1h-1.1zM149.54 462.47h1.1v1.1h-1.1zM149.23 464.31h1.1v1.1h-1.1zM154.51 463.71h1.1v1.1h-1.1zM151.57 458.01h1.1v1.1h-1.1zM151.31 459.92h1.1v1.1h-1.1zM153.93 459.74h1.1v1.1h-1.1zM155.06 467.12h1.1v1.1h-1.1zM155.89 462.85h1.1v1.1h-1.1zM143.15 464.81h1.1v1.1h-1.1zM139.84 463.06h1.1v1.1h-1.1zM139.21 468.68h1.1v1.1h-1.1zM151.14 462.04h1.1v1.1h-1.1zM143.83 464.27h1.1v1.1h-1.1zM148.5 462.51h1.1v1.1h-1.1zM149.11 464.2h1.1v1.1h-1.1zM155.03 472.1h1.1v1.1h-1.1zM145.86 462.17h1.1v1.1h-1.1zM146.48 466.09h1.1v1.1h-1.1zM146.24 461.74h1.1v1.1h-1.1zM157.49 463.99h1.1v1.1h-1.1zM147.37 460.9h1.1v1.1h-1.1zM147.54 473.99h1.1v1.1h-1.1zM150.95 465.09h1.1v1.1h-1.1zM145.33 459.34h1.1v1.1h-1.1zM149.46 466.16h1.1v1.1h-1.1zM134.58 472.77h1.1v1.1h-1.1zM149.25 463.6h1.1v1.1h-1.1zM152.09 461.66h1.1v1.1h-1.1zM145.96 470.17h1.1v1.1h-1.1zM141.83 463.73h1.1v1.1h-1.1zM141.47 458.61h1.1v1.1h-1.1zM140.28 473.18h1.1v1.1h-1.1zM147.86 473.08h1.1v1.1h-1.1zM160.06 468.61h1.1v1.1h-1.1zM148.81 464.33h1.1v1.1h-1.1zM143.67 473.04h1.1v1.1h-1.1zM136.69 457.99h1.1v1.1h-1.1zM156 450.56h1.1v1.1h-1.1zM139.36 459.73h1.1v1.1h-1.1zM143.19 467.04h1.1v1.1h-1.1zM145.51 466.55h1.1v1.1h-1.1zM139.38 464.11h1.1v1.1h-1.1zM160.76 459.76h1.1v1.1h-1.1zM159.59 457.53h1.1v1.1h-1.1zM157.28 452.75h1.1v1.1h-1.1zM155.26 467.58h1.1v1.1h-1.1zM143.12 464.74h1.1v1.1h-1.1zM137.6 468.48h1.1v1.1h-1.1zM158.48 454.26h1.1v1.1h-1.1zM145.03 457.36h1.1v1.1h-1.1zM155.79 454.9h1.1v1.1h-1.1zM156.27 462.27h1.1v1.1h-1.1zM139.63 456.23h1.1v1.1h-1.1zM144.67 460.32h1.1v1.1h-1.1zM145.95 462.17h1.1v1.1h-1.1zM160.39 469.91h1.1v1.1h-1.1zM149.91 459.85h1.1v1.1h-1.1zM150.09 453.91h1.1v1.1h-1.1zM146.93 454.41h1.1v1.1h-1.1zM153.74 453.31h1.1v1.1h-1.1zM139.26 468.86h1.1v1.1h-1.1zM144.03 454.56h1.1v1.1h-1.1zM137.43 467.87h1.1v1.1h-1.1zM154.37 452.85h1.1v1.1h-1.1zM150.81 437.55h1.1v1.1h-1.1zM147.12 444.53h1.1v1.1h-1.1zM149.02 445.3h1.1v1.1h-1.1zM149.19 438.11h1.1v1.1h-1.1zM154.36 439.6h1.1v1.1h-1.1zM149.84 438.17h1.1v1.1h-1.1zM153.98 441.32h1.1v1.1h-1.1zM144.93 442.7h1.1v1.1h-1.1zM144.82 442.99h1.1v1.1h-1.1zM148.74 439.37h1.1v1.1h-1.1zM149.7 440.17h1.1v1.1h-1.1zM147.93 439.13h1.1v1.1h-1.1zM152.21 438.14h1.1v1.1h-1.1zM154.32 441.23h1.1v1.1h-1.1zM148.29 435.39h1.1v1.1h-1.1zM149.85 439.16h1.1v1.1h-1.1zM148 437.52h1.1v1.1h-1.1zM147.77 443.34h1.1v1.1h-1.1zM148.95 441.68h1.1v1.1h-1.1zM152.03 441.49h1.1v1.1h-1.1zM149.59 441.01h1.1v1.1h-1.1zM150.33 442.23h1.1v1.1h-1.1zM152.97 444.57h1.1v1.1h-1.1zM147.83 442.46h1.1v1.1h-1.1zM151.39 440.26h1.1v1.1h-1.1zM150.83 441.35h1.1v1.1h-1.1zM146.69 443.67h1.1v1.1h-1.1zM148.01 441.95h1.1v1.1h-1.1zM150.12 439.33h1.1v1.1h-1.1zM152.53 440.69h1.1v1.1h-1.1zM146.58 443.5h1.1v1.1h-1.1zM149.37 439.31h1.1v1.1h-1.1zM155.87 439.84h1.1v1.1h-1.1zM155.22 434.86h1.1v1.1h-1.1zM145.55 436.81h1.1v1.1h-1.1zM153.08 436.42h1.1v1.1h-1.1zM149.13 437.57h1.1v1.1h-1.1zM147.5 440.58h1.1v1.1h-1.1zM149.23 435.13h1.1v1.1h-1.1zM148.42 437.57h1.1v1.1h-1.1zM149.39 442.46h1.1v1.1h-1.1zM150 438.43h1.1v1.1h-1.1zM146.71 438.51h1.1v1.1h-1.1zM146.71 442.96h1.1v1.1h-1.1zM149.92 441.07h1.1v1.1h-1.1zM142.58 449.7h1.1v1.1h-1.1zM149.32 438.98h1.1v1.1h-1.1zM146.08 439.3h1.1v1.1h-1.1zM138.93 438.13h1.1v1.1h-1.1zM151.95 438.78h1.1v1.1h-1.1zM145.05 439.92h1.1v1.1h-1.1zM150.03 434.26h1.1v1.1h-1.1zM151.01 438.92h1.1v1.1h-1.1zM144.31 435.44h1.1v1.1h-1.1zM157.02 443.2h1.1v1.1h-1.1zM153.44 438.61h1.1v1.1h-1.1zM148.85 447.73h1.1v1.1h-1.1zM160.93 451.05h1.1v1.1h-1.1zM151.19 442.53h1.1v1.1h-1.1zM156.83 442.79h1.1v1.1h-1.1zM149.42 436.88h1.1v1.1h-1.1zM152.21 443.35h1.1v1.1h-1.1zM153.72 438.14h1.1v1.1h-1.1zM155.78 443.3h1.1v1.1h-1.1zM148.85 442.61h1.1v1.1h-1.1zM143.55 438.92h1.1v1.1h-1.1zM151.9 432.27h1.1v1.1h-1.1zM146.98 438.16h1.1v1.1h-1.1zM156.8 441.03h1.1v1.1h-1.1zM149.58 439.61h1.1v1.1h-1.1zM144.55 446.02h1.1v1.1h-1.1zM156.62 439.39h1.1v1.1h-1.1zM148.66 447.46h1.1v1.1h-1.1zM149.95 433.68h1.1v1.1h-1.1zM141.47 445.46h1.1v1.1h-1.1zM140.6 434.12h1.1v1.1h-1.1zM159.91 435.42h1.1v1.1h-1.1zM157.78 443.1h1.1v1.1h-1.1zM158.87 446.93h1.1v1.1h-1.1zM142.57 438.36h1.1v1.1h-1.1zM158.85 448.99h1.1v1.1h-1.1zM142.33 449.93h1.1v1.1h-1.1zM147.69 447.78h1.1v1.1h-1.1zM141.72 435.25h1.1v1.1h-1.1zM151.17 431.32h1.1v1.1h-1.1zM146.8 436.69h1.1v1.1h-1.1zM137.4 431.14h1.1v1.1h-1.1zM142.72 440.85h1.1v1.1h-1.1zM149.44 431.14h1.1v1.1h-1.1zM148.97 430.25h1.1v1.1h-1.1zM152.08 446.22h1.1v1.1h-1.1zM157.21 446.52h1.1v1.1h-1.1zM161.21 441.27h1.1v1.1h-1.1zM142.56 430.88h1.1v1.1h-1.1zM144.86 442.29h1.1v1.1h-1.1zM145.38 436.9h1.1v1.1h-1.1zM137.65 442.97h1.1v1.1h-1.1zM141.01 433.62h1.1v1.1h-1.1zM137.1 438.16h1.1v1.1h-1.1zM143.32 441.32h1.1v1.1h-1.1zM110.84 458.34h1.1v1.1h-1.1zM48.72 514.96h1.1v1.1h-1.1zM46.2 428.48h1.1v1.1h-1.1zM50.39 527.38h1.1v1.1h-1.1zM105.03 473.99h1.1v1.1h-1.1zM158.39 537.01h1.1v1.1h-1.1zM62.87 523.73h1.1v1.1h-1.1zM114.31 489.49h1.1v1.1h-1.1zM88.44 437.11h1.1v1.1h-1.1zM125.46 440.5h1.1v1.1h-1.1zM168.7 511.54h1.1v1.1h-1.1zM166.51 494.86h1.1v1.1h-1.1zM36.11 433.94h1.1v1.1h-1.1zM43.8 541.75h1.1v1.1h-1.1zM70.97 509.13h1.1v1.1h-1.1zM170.16 439.27h1.1v1.1h-1.1zM90.07 480.25h1.1v1.1h-1.1zM152.86 446.88h1.1v1.1h-1.1zM124.25 482.24h1.1v1.1h-1.1zM45.63 514.56h1.1v1.1h-1.1zM124.94 473.41h1.1v1.1h-1.1zM145.87 435.86h1.1v1.1h-1.1zM169.49 520.7h1.1v1.1h-1.1zM39.68 436.01h1.1v1.1h-1.1zM112.08 522.04h1.1v1.1h-1.1zM129.91 513.13h1.1v1.1h-1.1zM63.19 499.84h1.1v1.1h-1.1zM105.27 462.46h1.1v1.1h-1.1zM39.3 454.79h1.1v1.1h-1.1zM119.97 487.18h1.1v1.1h-1.1zM126.98 447.78h1.1v1.1h-1.1zM29.96 486.74h1.1v1.1h-1.1zM127.84 458.65h1.1v1.1h-1.1zM123.38 522.19h1.1v1.1h-1.1zM168.93 449.45h1.1v1.1h-1.1zM62.66 492.11h1.1v1.1h-1.1zM168.84 518.96h1.1v1.1h-1.1zM88.47 428.32h1.1v1.1h-1.1zM160.37 515.92h1.1v1.1h-1.1zM136.23 500.64h1.1v1.1h-1.1zM125.7 451.71h1.1v1.1h-1.1zM47.23 517.11h1.1v1.1h-1.1zM60.03 511.89h1.1v1.1h-1.1zM33.77 527.51h1.1v1.1h-1.1zM88.03 493.29h1.1v1.1h-1.1zM39.94 473.88h1.1v1.1h-1.1zM166.57 474.53h1.1v1.1h-1.1zM80.64 459.21h1.1v1.1h-1.1zM92.58 522.77h1.1v1.1h-1.1zM99.1 541.73h1.1v1.1h-1.1zM127.55 524.51h1.1v1.1h-1.1zM82.7 428.21h1.1v1.1h-1.1zM140.85 443.46h1.1v1.1h-1.1zM122.59 467.61h1.1v1.1h-1.1zM131.79 427.75h1.1v1.1h-1.1zM57.3 451.79h1.1v1.1h-1.1zM72.61 513.12h1.1v1.1h-1.1zM148.87 471.63h1.1v1.1h-1.1zM152.99 438.7h1.1v1.1h-1.1zM114.78 520.02h1.1v1.1h-1.1zM30.75 479.59h1.1v1.1h-1.1zM134.82 511.12h1.1v1.1h-1.1zM38.81 543.28h1.1v1.1h-1.1zM53.92 460.24h1.1v1.1h-1.1zM29.13 516.22h1.1v1.1h-1.1zM67.38 458.41h1.1v1.1h-1.1zM173.13 541.53h1.1v1.1h-1.1zM45.28 431.56h1.1v1.1h-1.1zM170.61 525.99h1.1v1.1h-1.1zM77.66 481.09h1.1v1.1h-1.1zM45.1 521.33h1.1v1.1h-1.1zM53.3 529.9h1.1v1.1h-1.1zM31.39 539.32h1.1v1.1h-1.1zM36.95 538.92h1.1v1.1h-1.1zM60.81 506.27h1.1v1.1h-1.1zM42.14 501.14h1.1v1.1h-1.1zM66.22 525.42h1.1v1.1h-1.1zM53.97 533.69h1.1v1.1h-1.1zM76.57 513.62h1.1v1.1h-1.1zM31.2 535.55h1.1v1.1h-1.1zM64.35 523.07h1.1v1.1h-1.1zM65.61 531.47h1.1v1.1h-1.1zM69.75 500.59h1.1v1.1h-1.1zM33.42 512.23h1.1v1.1h-1.1zM38.44 505.67h1.1v1.1h-1.1zM70.11 501.17h1.1v1.1h-1.1zM40.5 538.82h1.1v1.1h-1.1zM62.84 513.37h1.1v1.1h-1.1zM35.69 533.45h1.1v1.1h-1.1zM58.66 538.03h1.1v1.1h-1.1z" fill="#0000ff" fill-opacity="0.78"/>
<text class="c" x="-1.5" y="580.7" textLength="16.34" lengthAdjust="spacingAndGlyphs" font-weight="bold">(g)</text>
<text class="c" x="18.71" y="580.7" textLength="60.08" lengthAdjust="spacingAndGlyphs">Horizontal</text>
<text class="c" x="82.66" y="580.7" textLength="61.21" lengthAdjust="spacingAndGlyphs">correlation</text>
<text class="c" x="147.75" y="580.7" textLength="10.55" lengthAdjust="spacingAndGlyphs">of</text>
<text class="c" x="162.17" y="580.7" textLength="47.31" lengthAdjust="spacingAndGlyphs">multiple</text>
<text class="c" x="213.36" y="580.7" textLength="11.64" lengthAdjust="spacingAndGlyphs">S-</text>
<text class="c" x="0" y="595.55" textLength="20.74" lengthAdjust="spacingAndGlyphs">box</text>
<text class="c" x="25.11" y="595.55" textLength="64.19" lengthAdjust="spacingAndGlyphs">substituted</text>
<text class="c" x="93.67" y="595.55" textLength="33.48" lengthAdjust="spacingAndGlyphs">image</text>
<path d="M257.3 421.3V544.4H429.6" fill="none" stroke="#acacac" stroke-width="1"/>
<path d="M257.3 544.4v-1.9M286.02 544.4v-1.9M314.73 544.4v-1.9M343.45 544.4v-1.9M372.17 544.4v-1.9M400.88 544.4v-1.9M429.6 544.4v-1.9M257.3 544.4h1.9M257.3 523.97h1.9M257.3 503.53h1.9M257.3 483.1h1.9M257.3 462.67h1.9M257.3 442.23h1.9M257.3 421.8h1.9" stroke="#666" stroke-width="0.7"/>
<g transform="scale(1.08,1)" font-size="4.9" fill="#555555"><text x="238.24" y="551.7" text-anchor="middle">0</text><text x="264.83" y="551.7" text-anchor="middle">50</text><text x="291.42" y="551.7" text-anchor="middle">100</text><text x="318.01" y="551.7" text-anchor="middle">150</text><text x="344.6" y="551.7" text-anchor="middle">200</text><text x="371.19" y="551.7" text-anchor="middle">250</text><text x="397.78" y="551.7" text-anchor="middle">300</text><text x="236.02" y="546.6" text-anchor="end">0</text><text x="236.02" y="526.17" text-anchor="end">50</text><text x="236.02" y="505.73" text-anchor="end">100</text><text x="236.02" y="485.3" text-anchor="end">150</text><text x="236.02" y="464.87" text-anchor="end">200</text><text x="236.02" y="444.43" text-anchor="end">250</text><text x="236.02" y="424" text-anchor="end">300</text></g>
<text transform="translate(344.25,562.2) scale(1.08,1)" text-anchor="middle" font-weight="bold" font-size="8.45" fill="#353535">Pixel values at location (x,y)</text>
<text transform="translate(241.8,483.1) scale(1.08,1) rotate(-90)" text-anchor="middle" font-weight="bold" font-size="8.45" fill="#353535">Pixel values at location (x,y+1)</text>
<path d="M314.78 502.12h1.1v1.1h-1.1zM316.29 497.53h1.1v1.1h-1.1zM311.07 501.48h1.1v1.1h-1.1zM321.91 499.65h1.1v1.1h-1.1zM317 498.2h1.1v1.1h-1.1zM313.11 503.91h1.1v1.1h-1.1zM310.9 504.6h1.1v1.1h-1.1zM317.32 498.16h1.1v1.1h-1.1zM315.08 502.43h1.1v1.1h-1.1zM317.84 498.82h1.1v1.1h-1.1zM317.34 505.84h1.1v1.1h-1.1zM314.65 507.59h1.1v1.1h-1.1zM317.3 502.9h1.1v1.1h-1.1zM314.28 496.34h1.1v1.1h-1.1zM320.92 499.19h1.1v1.1h-1.1zM317.41 500.05h1.1v1.1h-1.1zM314.51 500.67h1.1v1.1h-1.1zM322.9 502.97h1.1v1.1h-1.1zM314.26 500.08h1.1v1.1h-1.1zM319.47 498.21h1.1v1.1h-1.1zM313.24 500.89h1.1v1.1h-1.1zM315.59 503.96h1.1v1.1h-1.1zM316.74 501.87h1.1v1.1h-1.1zM319.57 499.33h1.1v1.1h-1.1zM313.87 500.31h1.1v1.1h-1.1zM315.29 502.3h1.1v1.1h-1.1zM314.85 497.57h1.1v1.1h-1.1zM315.09 505.3h1.1v1.1h-1.1zM313.89 498.28h1.1v1.1h-1.1zM323.7 503.46h1.1v1.1h-1.1zM315.29 501.45h1.1v1.1h-1.1zM311.76 499.41h1.1v1.1h-1.1zM316.31 499.75h1.1v1.1h-1.1zM323.98 501.27h1.1v1.1h-1.1zM319.14 498.21h1.1v1.1h-1.1zM314.35 502.18h1.1v1.1h-1.1zM321.7 498.54h1.1v1.1h-1.1zM316.96 503.57h1.1v1.1h-1.1zM319.44 499.06h1.1v1.1h-1.1zM323.84 496.43h1.1v1.1h-1.1zM319.18 499.79h1.1v1.1h-1.1zM316.69 502.06h1.1v1.1h-1.1zM317.51 499.85h1.1v1.1h-1.1zM318.67 497.51h1.1v1.1h-1.1zM317.53 502.04h1.1v1.1h-1.1zM322.99 491.96h1.1v1.1h-1.1zM309.75 498.21h1.1v1.1h-1.1zM320.9 497.57h1.1v1.1h-1.1zM320.55 501.03h1.1v1.1h-1.1zM315.66 491.22h1.1v1.1h-1.1zM330.45 508.26h1.1v1.1h-1.1zM296.02 498.11h1.1v1.1h-1.1zM311.04 503.38h1.1v1.1h-1.1zM303.63 498.58h1.1v1.1h-1.1zM316.04 503.51h1.1v1.1h-1.1zM323.73 487.11h1.1v1.1h-1.1zM328.37 494.05h1.1v1.1h-1.1zM313.16 496.9h1.1v1.1h-1.1zM316.18 494.15h1.1v1.1h-1.1zM321.18 500.72h1.1v1.1h-1.1zM320.94 504.49h1.1v1.1h-1.1zM322.87 492.23h1.1v1.1h-1.1zM313.57 497.46h1.1v1.1h-1.1zM303.06 495.36h1.1v1.1h-1.1zM323.56 506.16h1.1v1.1h-1.1zM330.54 499.9h1.1v1.1h-1.1zM302.54 508.08h1.1v1.1h-1.1zM323.53 502.03h1.1v1.1h-1.1zM325.38 509.08h1.1v1.1h-1.1zM315.69 495.14h1.1v1.1h-1.1zM311.02 496.78h1.1v1.1h-1.1zM313.59 498.63h1.1v1.1h-1.1zM319.08 488.22h1.1v1.1h-1.1zM306.5 496.23h1.1v1.1h-1.1zM327.06 506.73h1.1v1.1h-1.1zM308.85 491.96h1.1v1.1h-1.1zM325.56 490.51h1.1v1.1h-1.1zM323.29 495.32h1.1v1.1h-1.1zM325.83 505.57h1.1v1.1h-1.1zM321.14 502.97h1.1v1.1h-1.1zM326.63 508.02h1.1v1.1h-1.1zM317.65 503.87h1.1v1.1h-1.1zM326.06 503.69h1.1v1.1h-1.1zM326.75 493.42h1.1v1.1h-1.1zM327.79 507.91h1.1v1.1h-1.1zM329.57 495.54h1.1v1.1h-1.1zM321.76 497.42h1.1v1.1h-1.1zM302.98 492.97h1.1v1.1h-1.1zM317.91 501.44h1.1v1.1h-1.1zM311.68 494.75h1.1v1.1h-1.1zM324.91 492.97h1.1v1.1h-1.1zM307.94 503.79h1.1v1.1h-1.1zM308.99 508.7h1.1v1.1h-1.1zM311.32 510.22h1.1v1.1h-1.1zM325.34 506.11h1.1v1.1h-1.1zM303.66 509.37h1.1v1.1h-1.1zM323.68 506.69h1.1v1.1h-1.1zM315.35 502.54h1.1v1.1h-1.1zM325.51 491.25h1.1v1.1h-1.1zM310.8 497.83h1.1v1.1h-1.1zM319.55 478.12h1.1v1.1h-1.1zM321.01 478.77h1.1v1.1h-1.1zM313.84 471.8h1.1v1.1h-1.1zM315.02 476.94h1.1v1.1h-1.1zM310.96 478.83h1.1v1.1h-1.1zM312.54 476.75h1.1v1.1h-1.1zM310.34 473.89h1.1v1.1h-1.1zM315.29 477.86h1.1v1.1h-1.1zM314.36 474.65h1.1v1.1h-1.1zM321.62 477.39h1.1v1.1h-1.1zM321.89 472.58h1.1v1.1h-1.1zM320.98 475.71h1.1v1.1h-1.1zM311.49 474.81h1.1v1.1h-1.1zM315.11 475.96h1.1v1.1h-1.1zM310.17 477.09h1.1v1.1h-1.1zM317.26 478.65h1.1v1.1h-1.1zM317.47 472.43h1.1v1.1h-1.1zM317.25 478.05h1.1v1.1h-1.1zM324.47 481.56h1.1v1.1h-1.1zM313.4 475.45h1.1v1.1h-1.1zM314.5 481.89h1.1v1.1h-1.1zM317.35 474.44h1.1v1.1h-1.1zM313.82 472.92h1.1v1.1h-1.1zM318.16 473.57h1.1v1.1h-1.1zM311.36 476.43h1.1v1.1h-1.1zM321.85 471.61h1.1v1.1h-1.1zM320.9 476.42h1.1v1.1h-1.1zM317.1 477.92h1.1v1.1h-1.1zM320.17 478.08h1.1v1.1h-1.1zM316.9 481.35h1.1v1.1h-1.1zM311.43 472.17h1.1v1.1h-1.1zM316.68 475.91h1.1v1.1h-1.1zM309.11 476.5h1.1v1.1h-1.1zM323.44 479.99h1.1v1.1h-1.1zM308.5 476.81h1.1v1.1h-1.1zM314.7 476.92h1.1v1.1h-1.1zM312.26 479.66h1.1v1.1h-1.1zM312.33 474.89h1.1v1.1h-1.1zM316.32 474.45h1.1v1.1h-1.1zM312.85 475.01h1.1v1.1h-1.1zM314.99 476.21h1.1v1.1h-1.1zM319.62 476.34h1.1v1.1h-1.1zM315.3 480.41h1.1v1.1h-1.1zM316.7 474.54h1.1v1.1h-1.1zM314.35 476.58h1.1v1.1h-1.1zM302.14 482.64h1.1v1.1h-1.1zM319.75 470.38h1.1v1.1h-1.1zM313.96 484.22h1.1v1.1h-1.1zM313.4 483.72h1.1v1.1h-1.1zM314.25 467.41h1.1v1.1h-1.1zM318.91 477.13h1.1v1.1h-1.1zM324.9 478.19h1.1v1.1h-1.1zM319.18 475.48h1.1v1.1h-1.1zM320.1 483.29h1.1v1.1h-1.1zM322.26 472.3h1.1v1.1h-1.1zM297.93 489.1h1.1v1.1h-1.1zM309.2 469.45h1.1v1.1h-1.1zM316.65 473.25h1.1v1.1h-1.1zM320.99 472.26h1.1v1.1h-1.1zM311.29 479.16h1.1v1.1h-1.1zM319.54 473.57h1.1v1.1h-1.1zM321.16 474.83h1.1v1.1h-1.1zM312.53 471.25h1.1v1.1h-1.1zM320.32 471.44h1.1v1.1h-1.1zM295.76 471.69h1.1v1.1h-1.1zM296.59 475.43h1.1v1.1h-1.1zM311.06 475.85h1.1v1.1h-1.1zM312.6 477.88h1.1v1.1h-1.1zM318.05 474.79h1.1v1.1h-1.1zM309.96 488.3h1.1v1.1h-1.1zM310.11 473.88h1.1v1.1h-1.1zM309.59 474.41h1.1v1.1h-1.1zM313.47 480.85h1.1v1.1h-1.1zM326.03 468.63h1.1v1.1h-1.1zM315.64 476.66h1.1v1.1h-1.1zM326.92 472.5h1.1v1.1h-1.1zM312.13 474.19h1.1v1.1h-1.1zM329.03 478.11h1.1v1.1h-1.1zM314.47 479.88h1.1v1.1h-1.1zM318.1 473.63h1.1v1.1h-1.1zM323.5 468.71h1.1v1.1h-1.1zM305.89 478.72h1.1v1.1h-1.1zM326.98 471.42h1.1v1.1h-1.1zM319.17 473.38h1.1v1.1h-1.1zM311.7 468.78h1.1v1.1h-1.1zM317.96 478.09h1.1v1.1h-1.1zM307 483.02h1.1v1.1h-1.1zM328.35 471.26h1.1v1.1h-1.1zM302.35 479.45h1.1v1.1h-1.1zM315.87 476.49h1.1v1.1h-1.1zM312.4 469.64h1.1v1.1h-1.1zM312 475.87h1.1v1.1h-1.1zM329.3 474.03h1.1v1.1h-1.1zM315.79 479.29h1.1v1.1h-1.1zM313.11 474.55h1.1v1.1h-1.1zM325.02 480.53h1.1v1.1h-1.1zM312.61 478.35h1.1v1.1h-1.1zM312.38 469.33h1.1v1.1h-1.1zM317.64 480.27h1.1v1.1h-1.1zM311.47 470.9h1.1v1.1h-1.1zM319.3 454.45h1.1v1.1h-1.1zM318.72 457.4h1.1v1.1h-1.1zM322.29 456h1.1v1.1h-1.1zM317.98 456.21h1.1v1.1h-1.1zM319 456.94h1.1v1.1h-1.1zM315.91 461.51h1.1v1.1h-1.1zM323.54 460.79h1.1v1.1h-1.1zM309.09 459.36h1.1v1.1h-1.1zM323.12 454.64h1.1v1.1h-1.1zM314.42 456.97h1.1v1.1h-1.1zM316.4 462.47h1.1v1.1h-1.1zM315.33 456.91h1.1v1.1h-1.1zM320.51 460.56h1.1v1.1h-1.1zM308.73 461.47h1.1v1.1h-1.1zM317.62 457.42h1.1v1.1h-1.1zM316.99 457.26h1.1v1.1h-1.1zM315.22 460.96h1.1v1.1h-1.1zM318.04 456.68h1.1v1.1h-1.1zM318.47 454.57h1.1v1.1h-1.1zM312.22 463.35h1.1v1.1h-1.1zM310.34 452.39h1.1v1.1h-1.1zM313.34 456.64h1.1v1.1h-1.1zM316.43 455.84h1.1v1.1h-1.1zM327.53 458.89h1.1v1.1h-1.1zM315.9 459.08h1.1v1.1h-1.1zM317.33 456.35h1.1v1.1h-1.1zM313.14 454.39h1.1v1.1h-1.1zM320.43 456.53h1.1v1.1h-1.1zM316.1 458.2h1.1v1.1h-1.1zM310.82 456.01h1.1v1.1h-1.1zM313.12 458.85h1.1v1.1h-1.1zM319.91 459.88h1.1v1.1h-1.1zM314.68 455.52h1.1v1.1h-1.1zM322.88 459.31h1.1v1.1h-1.1zM320.28 459.23h1.1v1.1h-1.1zM317.82 456.43h1.1v1.1h-1.1zM312.56 455.11h1.1v1.1h-1.1zM322.68 457.49h1.1v1.1h-1.1zM317.41 460.5h1.1v1.1h-1.1zM322.64 457.47h1.1v1.1h-1.1zM312.08 455.75h1.1v1.1h-1.1zM311.44 459.3h1.1v1.1h-1.1zM309.14 454.25h1.1v1.1h-1.1zM324.1 459.18h1.1v1.1h-1.1zM314.23 459.04h1.1v1.1h-1.1zM311.79 454.98h1.1v1.1h-1.1zM328.58 462.43h1.1v1.1h-1.1zM320.13 466.22h1.1v1.1h-1.1zM329.12 458.04h1.1v1.1h-1.1zM310.67 450.32h1.1v1.1h-1.1zM315.6 451.09h1.1v1.1h-1.1zM325.39 449.72h1.1v1.1h-1.1zM309.84 457.35h1.1v1.1h-1.1zM319.54 458.55h1.1v1.1h-1.1zM329.11 461.03h1.1v1.1h-1.1zM324.8 451.12h1.1v1.1h-1.1zM300.28 462.24h1.1v1.1h-1.1zM308.98 460.23h1.1v1.1h-1.1zM319.72 458.45h1.1v1.1h-1.1zM317.14 459.81h1.1v1.1h-1.1zM315.8 455.31h1.1v1.1h-1.1zM322.66 461.35h1.1v1.1h-1.1zM315.54 461.25h1.1v1.1h-1.1zM315 464.47h1.1v1.1h-1.1zM324.4 454.42h1.1v1.1h-1.1zM315.46 460.88h1.1v1.1h-1.1zM312.69 460.79h1.1v1.1h-1.1zM303.68 449.83h1.1v1.1h-1.1zM343.77 463.48h1.1v1.1h-1.1zM306.8 454.86h1.1v1.1h-1.1zM321.51 465.12h1.1v1.1h-1.1zM300.54 455.04h1.1v1.1h-1.1zM299.96 450.84h1.1v1.1h-1.1zM312.37 457.21h1.1v1.1h-1.1zM316.45 460.29h1.1v1.1h-1.1zM321.84 465.28h1.1v1.1h-1.1zM331.06 456.92h1.1v1.1h-1.1zM323.66 463.95h1.1v1.1h-1.1zM320.57 459.74h1.1v1.1h-1.1zM308.99 452.22h1.1v1.1h-1.1zM302.54 458h1.1v1.1h-1.1zM304.14 451.59h1.1v1.1h-1.1zM328.22 465.61h1.1v1.1h-1.1zM315.42 458.15h1.1v1.1h-1.1zM323.01 453.69h1.1v1.1h-1.1zM311.8 450.19h1.1v1.1h-1.1zM307.08 463.86h1.1v1.1h-1.1zM325.88 464.14h1.1v1.1h-1.1zM307.1 457.62h1.1v1.1h-1.1zM311.59 463.39h1.1v1.1h-1.1zM329.32 458.07h1.1v1.1h-1.1zM325.02 461.91h1.1v1.1h-1.1zM328.8 462.41h1.1v1.1h-1.1zM328.62 455.68h1.1v1.1h-1.1zM330.55 452.97h1.1v1.1h-1.1zM320.39 457.06h1.1v1.1h-1.1zM327.08 458.59h1.1v1.1h-1.1zM304.48 450.52h1.1v1.1h-1.1zM325.61 454.5h1.1v1.1h-1.1zM323.79 462.22h1.1v1.1h-1.1zM344.7 499.32h1.1v1.1h-1.1zM358.53 502.06h1.1v1.1h-1.1zM353.73 496.86h1.1v1.1h-1.1zM347.63 501.5h1.1v1.1h-1.1zM351.87 499.18h1.1v1.1h-1.1zM346.99 499.91h1.1v1.1h-1.1zM350.57 497.81h1.1v1.1h-1.1zM345.44 502.15h1.1v1.1h-1.1zM349.21 501.44h1.1v1.1h-1.1zM353.43 502.33h1.1v1.1h-1.1zM360.38 502.55h1.1v1.1h-1.1zM353.84 497.61h1.1v1.1h-1.1zM354.27 501.12h1.1v1.1h-1.1zM348.08 501.26h1.1v1.1h-1.1zM353.23 500.18h1.1v1.1h-1.1zM352.95 498.89h1.1v1.1h-1.1zM347.89 503.21h1.1v1.1h-1.1zM355.91 501.92h1.1v1.1h-1.1zM345.48 495.21h1.1v1.1h-1.1zM348.07 503.2h1.1v1.1h-1.1zM354.27 503.77h1.1v1.1h-1.1zM347.94 497.53h1.1v1.1h-1.1zM348.12 493.36h1.1v1.1h-1.1zM351.28 492.85h1.1v1.1h-1.1zM351.39 500.37h1.1v1.1h-1.1zM348.73 501.17h1.1v1.1h-1.1zM349.21 500.6h1.1v1.1h-1.1zM353.6 504.17h1.1v1.1h-1.1zM347.78 506.52h1.1v1.1h-1.1zM356.12 500.74h1.1v1.1h-1.1zM350.89 500.7h1.1v1.1h-1.1zM354.4 499.61h1.1v1.1h-1.1zM353.87 501.01h1.1v1.1h-1.1zM350.52 500.69h1.1v1.1h-1.1zM344.52 497.41h1.1v1.1h-1.1zM345.5 503.38h1.1v1.1h-1.1zM353.25 500.37h1.1v1.1h-1.1zM353.74 495.65h1.1v1.1h-1.1zM357.36 496.58h1.1v1.1h-1.1zM350.16 494.67h1.1v1.1h-1.1zM347.91 500.78h1.1v1.1h-1.1zM354.37 501.14h1.1v1.1h-1.1zM350.52 501.54h1.1v1.1h-1.1zM355.64 507.59h1.1v1.1h-1.1zM355.33 497.5h1.1v1.1h-1.1zM350.5 497.35h1.1v1.1h-1.1zM345.07 494.24h1.1v1.1h-1.1zM369.49 505.75h1.1v1.1h-1.1zM359.41 500.85h1.1v1.1h-1.1zM348.89 503.3h1.1v1.1h-1.1zM349.79 507.64h1.1v1.1h-1.1zM342.71 491.1h1.1v1.1h-1.1zM350.83 497.4h1.1v1.1h-1.1zM352.82 497.83h1.1v1.1h-1.1zM341.69 505.92h1.1v1.1h-1.1zM354.78 494.87h1.1v1.1h-1.1zM344 503.81h1.1v1.1h-1.1zM344.46 496.82h1.1v1.1h-1.1zM353.03 500.35h1.1v1.1h-1.1zM347 498.58h1.1v1.1h-1.1zM351.13 504.75h1.1v1.1h-1.1zM352.96 504.3h1.1v1.1h-1.1zM356.71 496.98h1.1v1.1h-1.1zM346.77 497.2h1.1v1.1h-1.1zM351.35 504.54h1.1v1.1h-1.1zM345.4 509.97h1.1v1.1h-1.1zM344.09 498.56h1.1v1.1h-1.1zM358.26 504.1h1.1v1.1h-1.1zM351.91 498.58h1.1v1.1h-1.1zM355.67 498.02h1.1v1.1h-1.1zM358.38 496.18h1.1v1.1h-1.1zM346.32 498.28h1.1v1.1h-1.1zM336.74 501.55h1.1v1.1h-1.1zM351.06 497.24h1.1v1.1h-1.1zM349.11 495.81h1.1v1.1h-1.1zM359.89 496.32h1.1v1.1h-1.1zM349.39 507.36h1.1v1.1h-1.1zM341.02 508.25h1.1v1.1h-1.1zM358.52 497.51h1.1v1.1h-1.1zM343.45 497.97h1.1v1.1h-1.1zM341.3 500.39h1.1v1.1h-1.1zM347.35 508.65h1.1v1.1h-1.1zM356.23 496.1h1.1v1.1h-1.1zM351.17 507.31h1.1v1.1h-1.1zM354.64 501.89h1.1v1.1h-1.1zM354.46 508.88h1.1v1.1h-1.1zM359.73 510.68h1.1v1.1h-1.1zM344.89 502.61h1.1v1.1h-1.1zM344.36 508.95h1.1v1.1h-1.1zM355.03 490.44h1.1v1.1h-1.1zM347.34 505.31h1.1v1.1h-1.1zM354.67 506.2h1.1v1.1h-1.1zM348.77 496.68h1.1v1.1h-1.1zM349.43 507.57h1.1v1.1h-1.1zM341.57 499.65h1.1v1.1h-1.1zM361.65 491.95h1.1v1.1h-1.1zM342.21 500.48h1.1v1.1h-1.1zM350.69 506.78h1.1v1.1h-1.1zM354.65 500.62h1.1v1.1h-1.1zM357.68 504.78h1.1v1.1h-1.1zM356.73 478.24h1.1v1.1h-1.1zM349.06 476.2h1.1v1.1h-1.1zM349.15 476.29h1.1v1.1h-1.1zM348.85 479.91h1.1v1.1h-1.1zM342.63 479.58h1.1v1.1h-1.1zM356.18 475.33h1.1v1.1h-1.1zM351.47 477.56h1.1v1.1h-1.1zM350.44 475.69h1.1v1.1h-1.1zM346.15 478.38h1.1v1.1h-1.1zM347.87 473.33h1.1v1.1h-1.1zM347.3 473.54h1.1v1.1h-1.1zM349.34 469.74h1.1v1.1h-1.1zM350.67 476.34h1.1v1.1h-1.1zM355.6 474.27h1.1v1.1h-1.1zM354.18 479.04h1.1v1.1h-1.1zM354.85 472.3h1.1v1.1h-1.1zM350.59 477.61h1.1v1.1h-1.1zM347.18 473.93h1.1v1.1h-1.1zM351.95 476.4h1.1v1.1h-1.1zM346.68 472.45h1.1v1.1h-1.1zM353.96 476.47h1.1v1.1h-1.1zM356.03 478.75h1.1v1.1h-1.1zM353.98 478.87h1.1v1.1h-1.1zM355.8 477.09h1.1v1.1h-1.1zM355.16 477.44h1.1v1.1h-1.1zM352.31 473.62h1.1v1.1h-1.1zM347.83 476.18h1.1v1.1h-1.1zM348.05 474.33h1.1v1.1h-1.1zM348.86 477.33h1.1v1.1h-1.1zM350.24 473.56h1.1v1.1h-1.1zM347.35 476.48h1.1v1.1h-1.1zM349.81 477.77h1.1v1.1h-1.1zM348.23 476.81h1.1v1.1h-1.1zM351.62 480.21h1.1v1.1h-1.1zM351.75 479.32h1.1v1.1h-1.1zM350.99 470.83h1.1v1.1h-1.1zM347.61 476.58h1.1v1.1h-1.1zM350.06 474.01h1.1v1.1h-1.1zM349.31 480.8h1.1v1.1h-1.1zM345.39 475.99h1.1v1.1h-1.1zM351.81 473.8h1.1v1.1h-1.1zM349.09 474.79h1.1v1.1h-1.1zM347.27 473.24h1.1v1.1h-1.1zM350.7 478.08h1.1v1.1h-1.1zM351.55 472.15h1.1v1.1h-1.1zM345.8 482.33h1.1v1.1h-1.1zM344.79 481.93h1.1v1.1h-1.1zM350.63 474.75h1.1v1.1h-1.1zM349.94 475.48h1.1v1.1h-1.1zM358.13 477.8h1.1v1.1h-1.1zM343.35 487.32h1.1v1.1h-1.1zM352.41 479.66h1.1v1.1h-1.1zM349.43 474.47h1.1v1.1h-1.1zM353.74 483.9h1.1v1.1h-1.1zM345.14 476.07h1.1v1.1h-1.1zM350.07 470.95h1.1v1.1h-1.1zM347.9 486.26h1.1v1.1h-1.1zM358.04 484.22h1.1v1.1h-1.1zM345.06 474.56h1.1v1.1h-1.1zM344.52 464.56h1.1v1.1h-1.1zM352.39 473.87h1.1v1.1h-1.1zM348.3 465.85h1.1v1.1h-1.1zM354.21 479.84h1.1v1.1h-1.1zM358.55 484.47h1.1v1.1h-1.1zM347.39 475.04h1.1v1.1h-1.1zM351.78 480.99h1.1v1.1h-1.1zM360.52 469.4h1.1v1.1h-1.1zM345.27 474.64h1.1v1.1h-1.1zM347.1 478.48h1.1v1.1h-1.1zM356.92 475.82h1.1v1.1h-1.1zM350.28 475.93h1.1v1.1h-1.1zM343.83 470.6h1.1v1.1h-1.1zM346.39 470.18h1.1v1.1h-1.1zM348.16 478.59h1.1v1.1h-1.1zM359.95 475.51h1.1v1.1h-1.1zM353.36 479.96h1.1v1.1h-1.1zM344.4 470.32h1.1v1.1h-1.1zM359.87 481h1.1v1.1h-1.1zM352.82 475.14h1.1v1.1h-1.1zM347.06 484.38h1.1v1.1h-1.1zM347.13 473.94h1.1v1.1h-1.1zM353.17 476.25h1.1v1.1h-1.1zM342.7 481.35h1.1v1.1h-1.1zM346.82 477.85h1.1v1.1h-1.1zM347.96 469.51h1.1v1.1h-1.1zM342.56 468.07h1.1v1.1h-1.1zM345.27 470.3h1.1v1.1h-1.1zM345.34 474.92h1.1v1.1h-1.1zM348.26 484.35h1.1v1.1h-1.1zM357.41 471.09h1.1v1.1h-1.1zM345.9 471.68h1.1v1.1h-1.1zM350.49 468.06h1.1v1.1h-1.1zM341.22 478.47h1.1v1.1h-1.1zM345 474.28h1.1v1.1h-1.1zM357.01 470.55h1.1v1.1h-1.1zM352 478.36h1.1v1.1h-1.1zM357.48 483.21h1.1v1.1h-1.1zM345.7 472.08h1.1v1.1h-1.1zM349.64 467.96h1.1v1.1h-1.1zM342.01 477.07h1.1v1.1h-1.1zM350.99 457.47h1.1v1.1h-1.1zM352.19 457.03h1.1v1.1h-1.1zM348.45 455.71h1.1v1.1h-1.1zM348.1 457.72h1.1v1.1h-1.1zM349.71 460.44h1.1v1.1h-1.1zM353.03 457.79h1.1v1.1h-1.1zM346.93 457.81h1.1v1.1h-1.1zM346.2 454.11h1.1v1.1h-1.1zM352.72 452.76h1.1v1.1h-1.1zM348.99 455.89h1.1v1.1h-1.1zM347.61 459.71h1.1v1.1h-1.1zM350.63 456.61h1.1v1.1h-1.1zM354.12 458.28h1.1v1.1h-1.1zM354.73 455.26h1.1v1.1h-1.1zM347.93 458.06h1.1v1.1h-1.1zM347.79 453.45h1.1v1.1h-1.1zM349.05 455.46h1.1v1.1h-1.1zM354.08 458.24h1.1v1.1h-1.1zM349.27 456.78h1.1v1.1h-1.1zM348.28 460.71h1.1v1.1h-1.1zM347.62 456.79h1.1v1.1h-1.1zM351.6 453.32h1.1v1.1h-1.1zM344.67 456.39h1.1v1.1h-1.1zM346.98 454.8h1.1v1.1h-1.1zM353.33 457.31h1.1v1.1h-1.1zM356 458.53h1.1v1.1h-1.1zM349.12 460.19h1.1v1.1h-1.1zM348.69 457.34h1.1v1.1h-1.1zM353.25 454.5h1.1v1.1h-1.1zM350.02 459.4h1.1v1.1h-1.1zM349.79 458.67h1.1v1.1h-1.1zM349.34 458.6h1.1v1.1h-1.1zM347.95 457.75h1.1v1.1h-1.1zM349.18 458.03h1.1v1.1h-1.1zM346.2 457.27h1.1v1.1h-1.1zM352.9 456.04h1.1v1.1h-1.1zM349.06 460.4h1.1v1.1h-1.1zM346.49 460.48h1.1v1.1h-1.1zM348.74 458.38h1.1v1.1h-1.1zM344.87 455.99h1.1v1.1h-1.1zM345.68 459.29h1.1v1.1h-1.1zM348.47 455.6h1.1v1.1h-1.1zM357.23 458.48h1.1v1.1h-1.1zM350 458.57h1.1v1.1h-1.1zM350.26 458.03h1.1v1.1h-1.1zM365.78 462.77h1.1v1.1h-1.1zM350.28 461.35h1.1v1.1h-1.1zM353.08 460.08h1.1v1.1h-1.1zM354.4 462.73h1.1v1.1h-1.1zM363.62 456.63h1.1v1.1h-1.1zM340.33 454.32h1.1v1.1h-1.1zM348.12 463.07h1.1v1.1h-1.1zM353.59 460.06h1.1v1.1h-1.1zM355.37 460.2h1.1v1.1h-1.1zM356.36 456.92h1.1v1.1h-1.1zM353.09 456.88h1.1v1.1h-1.1zM348.75 459.32h1.1v1.1h-1.1zM353.65 454.28h1.1v1.1h-1.1zM348.49 447.08h1.1v1.1h-1.1zM361.09 463.02h1.1v1.1h-1.1zM357.46 457.95h1.1v1.1h-1.1zM352.34 461.33h1.1v1.1h-1.1zM360.84 461.5h1.1v1.1h-1.1zM350.45 461.03h1.1v1.1h-1.1zM362.52 451.72h1.1v1.1h-1.1zM343.04 459.73h1.1v1.1h-1.1zM353.12 459.64h1.1v1.1h-1.1zM348.82 462.68h1.1v1.1h-1.1zM352.44 462.75h1.1v1.1h-1.1zM355.93 446.35h1.1v1.1h-1.1zM348.99 449.89h1.1v1.1h-1.1zM353.18 460.76h1.1v1.1h-1.1zM348.88 462.13h1.1v1.1h-1.1zM351.63 454.33h1.1v1.1h-1.1zM356.51 458.92h1.1v1.1h-1.1zM351.16 457.6h1.1v1.1h-1.1zM340.61 453.27h1.1v1.1h-1.1zM356.29 451.17h1.1v1.1h-1.1zM347.82 462.6h1.1v1.1h-1.1zM347.61 453.64h1.1v1.1h-1.1zM354.39 459.23h1.1v1.1h-1.1zM351.48 463.56h1.1v1.1h-1.1zM360.08 458.1h1.1v1.1h-1.1zM351.09 452.7h1.1v1.1h-1.1zM344.35 453.8h1.1v1.1h-1.1zM347.74 452.26h1.1v1.1h-1.1zM342.09 461.47h1.1v1.1h-1.1zM353.9 457.92h1.1v1.1h-1.1zM348.25 456.27h1.1v1.1h-1.1zM344.78 458.7h1.1v1.1h-1.1zM340.07 452.49h1.1v1.1h-1.1zM345.57 451.94h1.1v1.1h-1.1zM352.08 455.88h1.1v1.1h-1.1zM353.69 464.05h1.1v1.1h-1.1zM356.99 461.19h1.1v1.1h-1.1zM358.86 452.71h1.1v1.1h-1.1zM354.83 452.21h1.1v1.1h-1.1zM349.56 454.65h1.1v1.1h-1.1zM360.82 462.96h1.1v1.1h-1.1zM342.23 459.13h1.1v1.1h-1.1zM375.41 500.63h1.1v1.1h-1.1zM378.61 494.88h1.1v1.1h-1.1zM375.87 499.48h1.1v1.1h-1.1zM379.21 497.1h1.1v1.1h-1.1zM378.8 497.51h1.1v1.1h-1.1zM373.75 501.25h1.1v1.1h-1.1zM370.8 500.66h1.1v1.1h-1.1zM385.26 499.84h1.1v1.1h-1.1zM377.66 499.77h1.1v1.1h-1.1zM377.85 504.23h1.1v1.1h-1.1zM375.01 501h1.1v1.1h-1.1zM377.93 502.93h1.1v1.1h-1.1zM377 502.57h1.1v1.1h-1.1zM372.89 502.36h1.1v1.1h-1.1zM374.63 498.17h1.1v1.1h-1.1zM381.9 498.89h1.1v1.1h-1.1zM376.64 502.07h1.1v1.1h-1.1zM372.04 501.99h1.1v1.1h-1.1zM382.66 497.29h1.1v1.1h-1.1zM378.12 501.2h1.1v1.1h-1.1zM377.37 499.33h1.1v1.1h-1.1zM377.34 499.32h1.1v1.1h-1.1zM374.75 500.39h1.1v1.1h-1.1zM376.17 497.51h1.1v1.1h-1.1zM373.16 496.89h1.1v1.1h-1.1zM377.07 501.92h1.1v1.1h-1.1zM377.43 500.17h1.1v1.1h-1.1zM376.57 499.33h1.1v1.1h-1.1zM375.4 505.24h1.1v1.1h-1.1zM379.72 500.58h1.1v1.1h-1.1zM383 499.43h1.1v1.1h-1.1zM370.58 497.05h1.1v1.1h-1.1zM375.03 498.98h1.1v1.1h-1.1zM384.88 497.46h1.1v1.1h-1.1zM373.66 500.77h1.1v1.1h-1.1zM371.92 498.65h1.1v1.1h-1.1zM379.27 503.37h1.1v1.1h-1.1zM378.89 497.9h1.1v1.1h-1.1zM380.1 502.38h1.1v1.1h-1.1zM375.02 503.64h1.1v1.1h-1.1zM372.99 499.63h1.1v1.1h-1.1zM377.5 496.88h1.1v1.1h-1.1zM378.29 501.41h1.1v1.1h-1.1zM372.53 496.21h1.1v1.1h-1.1zM377.92 500.6h1.1v1.1h-1.1zM370.75 506.28h1.1v1.1h-1.1zM381.53 505.86h1.1v1.1h-1.1zM381.21 497.02h1.1v1.1h-1.1zM374.85 509.44h1.1v1.1h-1.1zM380.07 492.72h1.1v1.1h-1.1zM371.93 507.46h1.1v1.1h-1.1zM384.53 499.69h1.1v1.1h-1.1zM373.26 493.71h1.1v1.1h-1.1zM375.54 497.99h1.1v1.1h-1.1zM374.72 504.63h1.1v1.1h-1.1zM378.81 505.22h1.1v1.1h-1.1zM365.69 503.46h1.1v1.1h-1.1zM385.48 494.42h1.1v1.1h-1.1zM391.66 495h1.1v1.1h-1.1zM387.98 499.1h1.1v1.1h-1.1zM374.5 497.91h1.1v1.1h-1.1zM371.12 496.43h1.1v1.1h-1.1zM374.41 499.05h1.1v1.1h-1.1zM371.76 501.22h1.1v1.1h-1.1zM383.81 501.67h1.1v1.1h-1.1zM372.93 498.92h1.1v1.1h-1.1zM383.15 501.51h1.1v1.1h-1.1zM369.67 509.06h1.1v1.1h-1.1zM368.56 494.61h1.1v1.1h-1.1zM376.78 497.84h1.1v1.1h-1.1zM384.42 498.91h1.1v1.1h-1.1zM380.53 503.25h1.1v1.1h-1.1zM366.78 497.01h1.1v1.1h-1.1zM376.73 497.31h1.1v1.1h-1.1zM370.36 501.25h1.1v1.1h-1.1zM387.94 492.41h1.1v1.1h-1.1zM371.04 499.29h1.1v1.1h-1.1zM375.34 510.06h1.1v1.1h-1.1zM376.02 492.04h1.1v1.1h-1.1zM372.6 498.77h1.1v1.1h-1.1zM382.43 509.46h1.1v1.1h-1.1zM387.59 508.52h1.1v1.1h-1.1zM372.57 496.12h1.1v1.1h-1.1zM365.77 503.08h1.1v1.1h-1.1zM368.35 501.08h1.1v1.1h-1.1zM365.68 507.66h1.1v1.1h-1.1zM370.66 509.08h1.1v1.1h-1.1zM367.48 506.77h1.1v1.1h-1.1zM377.79 507.95h1.1v1.1h-1.1zM385.11 502.23h1.1v1.1h-1.1zM371.37 505.82h1.1v1.1h-1.1zM385.55 509.79h1.1v1.1h-1.1zM383.2 508.75h1.1v1.1h-1.1zM388.08 502.41h1.1v1.1h-1.1zM379.72 493.11h1.1v1.1h-1.1zM367.72 509.44h1.1v1.1h-1.1zM382.03 498.74h1.1v1.1h-1.1zM382.69 505.07h1.1v1.1h-1.1zM377.28 506.93h1.1v1.1h-1.1zM375.84 504.99h1.1v1.1h-1.1zM374.87 477.48h1.1v1.1h-1.1zM376.59 472.95h1.1v1.1h-1.1zM382.68 474.16h1.1v1.1h-1.1zM374.88 476.37h1.1v1.1h-1.1zM380.44 474.49h1.1v1.1h-1.1zM371.87 476.52h1.1v1.1h-1.1zM374.87 474.62h1.1v1.1h-1.1zM379.51 477.65h1.1v1.1h-1.1zM384.59 477.04h1.1v1.1h-1.1zM385.6 476.78h1.1v1.1h-1.1zM377.07 471.92h1.1v1.1h-1.1zM375.58 477.49h1.1v1.1h-1.1zM382.34 476.48h1.1v1.1h-1.1zM378.97 479.34h1.1v1.1h-1.1zM383.39 474.08h1.1v1.1h-1.1zM378.56 474.73h1.1v1.1h-1.1zM375.67 477.49h1.1v1.1h-1.1zM372.06 475.52h1.1v1.1h-1.1zM381.53 474.38h1.1v1.1h-1.1zM380.46 474.72h1.1v1.1h-1.1zM374.26 479.44h1.1v1.1h-1.1zM379.52 475.99h1.1v1.1h-1.1zM380.69 477.02h1.1v1.1h-1.1zM374.39 475.34h1.1v1.1h-1.1zM375.48 480.22h1.1v1.1h-1.1zM375.31 478.43h1.1v1.1h-1.1zM373.6 477.67h1.1v1.1h-1.1zM380.56 470.88h1.1v1.1h-1.1zM383.19 477.35h1.1v1.1h-1.1zM381.21 476.55h1.1v1.1h-1.1zM378.72 477.96h1.1v1.1h-1.1zM377.11 480.3h1.1v1.1h-1.1zM383.4 478.17h1.1v1.1h-1.1zM379.33 477.75h1.1v1.1h-1.1zM378.27 479.13h1.1v1.1h-1.1zM376.1 474.25h1.1v1.1h-1.1zM379.36 480.92h1.1v1.1h-1.1zM380.23 479.44h1.1v1.1h-1.1zM378.32 475.17h1.1v1.1h-1.1zM375.19 477.12h1.1v1.1h-1.1zM376.53 475.44h1.1v1.1h-1.1zM380.44 473.2h1.1v1.1h-1.1zM378.46 471.73h1.1v1.1h-1.1zM374.17 472.23h1.1v1.1h-1.1zM376.48 474.59h1.1v1.1h-1.1zM376.54 475.96h1.1v1.1h-1.1zM371.34 474.58h1.1v1.1h-1.1zM390.64 475.67h1.1v1.1h-1.1zM377.22 476.32h1.1v1.1h-1.1zM382.04 477.27h1.1v1.1h-1.1zM377.33 475.36h1.1v1.1h-1.1zM385.9 472.03h1.1v1.1h-1.1zM370.45 479.2h1.1v1.1h-1.1zM377.49 472.5h1.1v1.1h-1.1zM383.71 477.28h1.1v1.1h-1.1zM391.31 477.08h1.1v1.1h-1.1zM386.58 469.89h1.1v1.1h-1.1zM387.83 475.43h1.1v1.1h-1.1zM381.14 483.26h1.1v1.1h-1.1zM365.69 479.11h1.1v1.1h-1.1zM382.08 471.52h1.1v1.1h-1.1zM376.69 471.63h1.1v1.1h-1.1zM381.15 469.44h1.1v1.1h-1.1zM366.92 480.09h1.1v1.1h-1.1zM371.08 481.07h1.1v1.1h-1.1zM388.17 480.53h1.1v1.1h-1.1zM371.92 478.15h1.1v1.1h-1.1zM383.16 478.43h1.1v1.1h-1.1zM382.19 473.85h1.1v1.1h-1.1zM373.16 487.04h1.1v1.1h-1.1zM371.34 481.99h1.1v1.1h-1.1zM388.09 479.59h1.1v1.1h-1.1zM370.34 474.64h1.1v1.1h-1.1zM377.71 480.58h1.1v1.1h-1.1zM384.55 472.2h1.1v1.1h-1.1zM384.81 480.74h1.1v1.1h-1.1zM381.79 469.68h1.1v1.1h-1.1zM368.38 482.67h1.1v1.1h-1.1zM377.19 479.26h1.1v1.1h-1.1zM388.2 467.89h1.1v1.1h-1.1zM376.05 471.39h1.1v1.1h-1.1zM380.54 482.03h1.1v1.1h-1.1zM388.74 482.01h1.1v1.1h-1.1zM367.13 477.23h1.1v1.1h-1.1zM365.73 476.75h1.1v1.1h-1.1zM375.24 468.62h1.1v1.1h-1.1zM375.28 470.42h1.1v1.1h-1.1zM384.11 474.94h1.1v1.1h-1.1zM371.04 479.77h1.1v1.1h-1.1zM377.15 478.22h1.1v1.1h-1.1zM380.87 476.33h1.1v1.1h-1.1zM373.09 474.59h1.1v1.1h-1.1zM389.34 481.53h1.1v1.1h-1.1zM373.4 484.8h1.1v1.1h-1.1zM367.56 484.05h1.1v1.1h-1.1zM375.5 470.64h1.1v1.1h-1.1zM382.13 468.42h1.1v1.1h-1.1zM385.49 474.95h1.1v1.1h-1.1zM379.3 484.79h1.1v1.1h-1.1zM374.55 480.51h1.1v1.1h-1.1zM376.44 458.24h1.1v1.1h-1.1zM374.13 458.25h1.1v1.1h-1.1zM373.86 457.5h1.1v1.1h-1.1zM381.84 455.24h1.1v1.1h-1.1zM378.81 460.77h1.1v1.1h-1.1zM380.84 455.42h1.1v1.1h-1.1zM384.33 462.84h1.1v1.1h-1.1zM377.42 458.37h1.1v1.1h-1.1zM381.04 460.13h1.1v1.1h-1.1zM376.07 452.19h1.1v1.1h-1.1zM380.73 462.24h1.1v1.1h-1.1zM377.43 454.41h1.1v1.1h-1.1zM375.27 456.2h1.1v1.1h-1.1zM377.7 461.01h1.1v1.1h-1.1zM375.24 454.95h1.1v1.1h-1.1zM381.37 459h1.1v1.1h-1.1zM381.17 459.26h1.1v1.1h-1.1zM378.2 457.65h1.1v1.1h-1.1zM373.13 456.85h1.1v1.1h-1.1zM376.04 464.01h1.1v1.1h-1.1zM374.55 459.58h1.1v1.1h-1.1zM374.53 459.88h1.1v1.1h-1.1zM375.03 463.33h1.1v1.1h-1.1zM380.38 457.43h1.1v1.1h-1.1zM378.22 458.22h1.1v1.1h-1.1zM377.58 458.22h1.1v1.1h-1.1zM373.67 461.15h1.1v1.1h-1.1zM377.61 455.23h1.1v1.1h-1.1zM378.15 453.83h1.1v1.1h-1.1zM372.74 458.22h1.1v1.1h-1.1zM375.27 454.72h1.1v1.1h-1.1zM383.11 458.82h1.1v1.1h-1.1zM379.84 458.17h1.1v1.1h-1.1zM373.98 457.86h1.1v1.1h-1.1zM373.83 453.98h1.1v1.1h-1.1zM379.36 454.83h1.1v1.1h-1.1zM378.57 463.3h1.1v1.1h-1.1zM380.08 457.39h1.1v1.1h-1.1zM369.28 457.37h1.1v1.1h-1.1zM380.79 453.6h1.1v1.1h-1.1zM373.89 455.76h1.1v1.1h-1.1zM378.49 458.01h1.1v1.1h-1.1zM376.4 456.37h1.1v1.1h-1.1zM379.32 456.07h1.1v1.1h-1.1zM375.98 460.7h1.1v1.1h-1.1zM386.05 451.68h1.1v1.1h-1.1zM373.64 457.74h1.1v1.1h-1.1zM382.68 465.61h1.1v1.1h-1.1zM380.65 446.57h1.1v1.1h-1.1zM379.15 460.82h1.1v1.1h-1.1zM390.83 457.56h1.1v1.1h-1.1zM378.76 459.54h1.1v1.1h-1.1zM378.55 465.79h1.1v1.1h-1.1zM368.91 464.33h1.1v1.1h-1.1zM383.3 458.03h1.1v1.1h-1.1zM384.96 466.9h1.1v1.1h-1.1zM373.41 450.96h1.1v1.1h-1.1zM372.14 466.11h1.1v1.1h-1.1zM372.45 459.18h1.1v1.1h-1.1zM377.27 451.66h1.1v1.1h-1.1zM386.12 450.52h1.1v1.1h-1.1zM381.19 459.9h1.1v1.1h-1.1zM374.1 464.36h1.1v1.1h-1.1zM385.75 451.89h1.1v1.1h-1.1zM377.95 461.68h1.1v1.1h-1.1zM381.81 455.38h1.1v1.1h-1.1zM378.38 462.92h1.1v1.1h-1.1zM378.94 460.2h1.1v1.1h-1.1zM382.23 454.88h1.1v1.1h-1.1zM380.26 459.56h1.1v1.1h-1.1zM387.39 454.07h1.1v1.1h-1.1zM385.71 453.78h1.1v1.1h-1.1zM381.73 455.82h1.1v1.1h-1.1zM370.32 465.92h1.1v1.1h-1.1zM371.2 454.81h1.1v1.1h-1.1zM366.05 460.36h1.1v1.1h-1.1zM371.14 452.67h1.1v1.1h-1.1zM382.53 452.74h1.1v1.1h-1.1zM378.13 454.2h1.1v1.1h-1.1zM368.37 459.59h1.1v1.1h-1.1zM372.37 461.36h1.1v1.1h-1.1zM383.13 462.53h1.1v1.1h-1.1zM373.15 461.36h1.1v1.1h-1.1zM386.14 455.24h1.1v1.1h-1.1zM376.89 459.68h1.1v1.1h-1.1zM387.53 450.08h1.1v1.1h-1.1zM376.15 456.47h1.1v1.1h-1.1zM386.1 461.8h1.1v1.1h-1.1zM371.54 464.43h1.1v1.1h-1.1zM377.41 453.01h1.1v1.1h-1.1zM369.08 458.78h1.1v1.1h-1.1zM389.2 457.94h1.1v1.1h-1.1zM374.52 451.8h1.1v1.1h-1.1zM386.82 459.75h1.1v1.1h-1.1zM368.28 455.28h1.1v1.1h-1.1zM383.16 450.36h1.1v1.1h-1.1zM381.22 460.92h1.1v1.1h-1.1zM377.72 461.26h1.1v1.1h-1.1zM376.06 458.17h1.1v1.1h-1.1zM387.3 450.65h1.1v1.1h-1.1zM392.42 495.99h1.1v1.1h-1.1zM397.99 529.94h1.1v1.1h-1.1zM391.65 479.74h1.1v1.1h-1.1zM384.53 502.46h1.1v1.1h-1.1zM401.87 541.35h1.1v1.1h-1.1zM380.92 461.8h1.1v1.1h-1.1zM311.56 460.88h1.1v1.1h-1.1zM288.04 468.51h1.1v1.1h-1.1zM325.36 502.69h1.1v1.1h-1.1zM285.54 463.74h1.1v1.1h-1.1zM363.8 534.94h1.1v1.1h-1.1zM399.99 521.69h1.1v1.1h-1.1zM311.7 502.33h1.1v1.1h-1.1zM341.18 454.71h1.1v1.1h-1.1zM395.17 480.45h1.1v1.1h-1.1zM310.29 533.09h1.1v1.1h-1.1zM266.83 491.9h1.1v1.1h-1.1zM342.17 499.07h1.1v1.1h-1.1zM400.64 502.44h1.1v1.1h-1.1zM308.16 501.99h1.1v1.1h-1.1zM281.9 449.82h1.1v1.1h-1.1zM343.3 489.51h1.1v1.1h-1.1zM319.11 518.82h1.1v1.1h-1.1zM302.94 494.43h1.1v1.1h-1.1zM322.11 445.8h1.1v1.1h-1.1zM339.22 523.13h1.1v1.1h-1.1zM264.61 527.91h1.1v1.1h-1.1zM307.4 465.51h1.1v1.1h-1.1zM386.98 520.18h1.1v1.1h-1.1zM371.03 499.63h1.1v1.1h-1.1zM335.47 490.49h1.1v1.1h-1.1zM262.98 537.22h1.1v1.1h-1.1zM354.52 474.85h1.1v1.1h-1.1zM312.45 451.83h1.1v1.1h-1.1zM376.84 513.62h1.1v1.1h-1.1zM266.55 488.45h1.1v1.1h-1.1zM352.58 521.38h1.1v1.1h-1.1zM263.17 495.08h1.1v1.1h-1.1zM261.76 470.09h1.1v1.1h-1.1zM348.36 515.9h1.1v1.1h-1.1zM322.02 520.53h1.1v1.1h-1.1zM283.98 525.68h1.1v1.1h-1.1zM376.21 498.46h1.1v1.1h-1.1zM361.54 509.05h1.1v1.1h-1.1zM374.92 484.19h1.1v1.1h-1.1zM352.54 504.53h1.1v1.1h-1.1zM339.03 524.76h1.1v1.1h-1.1zM399.36 476.55h1.1v1.1h-1.1zM334.73 479.9h1.1v1.1h-1.1zM271.42 510.36h1.1v1.1h-1.1zM290.53 459.44h1.1v1.1h-1.1zM258.64 499.33h1.1v1.1h-1.1zM383.96 465.49h1.1v1.1h-1.1zM362.02 513.66h1.1v1.1h-1.1zM290.77 473.33h1.1v1.1h-1.1zM300.49 471.45h1.1v1.1h-1.1zM308.01 467.69h1.1v1.1h-1.1zM340.67 462.21h1.1v1.1h-1.1zM401.1 505.94h1.1v1.1h-1.1zM401.23 542.85h1.1v1.1h-1.1zM385.23 540.87h1.1v1.1h-1.1zM336.61 504.97h1.1v1.1h-1.1zM369.5 512.31h1.1v1.1h-1.1zM287.25 465.35h1.1v1.1h-1.1zM337.35 468.19h1.1v1.1h-1.1zM328.42 540.19h1.1v1.1h-1.1zM369.69 522.01h1.1v1.1h-1.1zM325.85 543.79h1.1v1.1h-1.1zM294.68 477.21h1.1v1.1h-1.1zM368.67 480.13h1.1v1.1h-1.1zM279.66 510.91h1.1v1.1h-1.1zM291.32 534.59h1.1v1.1h-1.1zM284.41 516.97h1.1v1.1h-1.1zM294.42 534.96h1.1v1.1h-1.1zM272.81 528.43h1.1v1.1h-1.1zM261.71 528.18h1.1v1.1h-1.1zM294.46 517.89h1.1v1.1h-1.1zM265.69 510.96h1.1v1.1h-1.1zM262.79 510.08h1.1v1.1h-1.1zM264.39 539.52h1.1v1.1h-1.1zM269.76 520.7h1.1v1.1h-1.1zM270.71 504.11h1.1v1.1h-1.1zM305.25 531.11h1.1v1.1h-1.1zM295.51 512.58h1.1v1.1h-1.1zM285.76 532.39h1.1v1.1h-1.1zM305.83 500.85h1.1v1.1h-1.1zM257.43 529.01h1.1v1.1h-1.1zM273.34 534.93h1.1v1.1h-1.1zM278.99 503.47h1.1v1.1h-1.1zM257.98 506.28h1.1v1.1h-1.1z" fill="#0000ff" fill-opacity="0.78"/>
<text class="c" x="227.6" y="580.7" textLength="15.87" lengthAdjust="spacingAndGlyphs" font-weight="bold">(h)</text>
<text class="c" x="250.17" y="580.7" textLength="45.52" lengthAdjust="spacingAndGlyphs">Vertical</text>
<text class="c" x="302.39" y="580.7" textLength="61.21" lengthAdjust="spacingAndGlyphs">correlation</text>
<text class="c" x="370.3" y="580.7" textLength="10.55" lengthAdjust="spacingAndGlyphs">of</text>
<text class="c" x="387.55" y="580.7" textLength="47.31" lengthAdjust="spacingAndGlyphs">multiple</text>
<text class="c" x="441.56" y="580.7" textLength="11.64" lengthAdjust="spacingAndGlyphs">S-</text>
<text class="c" x="228.2" y="595.55" textLength="20.74" lengthAdjust="spacingAndGlyphs">box</text>
<text class="c" x="253.31" y="595.55" textLength="64.19" lengthAdjust="spacingAndGlyphs">substituted</text>
<text class="c" x="321.87" y="595.55" textLength="33.48" lengthAdjust="spacingAndGlyphs">image</text>
<path d="M485.5 421.3V544.4H657.8" fill="none" stroke="#acacac" stroke-width="1"/>
<path d="M485.5 544.4v-1.9M514.22 544.4v-1.9M542.93 544.4v-1.9M571.65 544.4v-1.9M600.37 544.4v-1.9M629.08 544.4v-1.9M657.8 544.4v-1.9M485.5 544.4h1.9M485.5 523.97h1.9M485.5 503.53h1.9M485.5 483.1h1.9M485.5 462.67h1.9M485.5 442.23h1.9M485.5 421.8h1.9" stroke="#666" stroke-width="0.7"/>
<g transform="scale(1.08,1)" font-size="4.9" fill="#555555"><text x="449.54" y="551.7" text-anchor="middle">0</text><text x="476.13" y="551.7" text-anchor="middle">50</text><text x="502.72" y="551.7" text-anchor="middle">100</text><text x="529.31" y="551.7" text-anchor="middle">150</text><text x="555.9" y="551.7" text-anchor="middle">200</text><text x="582.48" y="551.7" text-anchor="middle">250</text><text x="609.07" y="551.7" text-anchor="middle">300</text><text x="447.31" y="546.6" text-anchor="end">0</text><text x="447.31" y="526.17" text-anchor="end">50</text><text x="447.31" y="505.73" text-anchor="end">100</text><text x="447.31" y="485.3" text-anchor="end">150</text><text x="447.31" y="464.87" text-anchor="end">200</text><text x="447.31" y="444.43" text-anchor="end">250</text><text x="447.31" y="424" text-anchor="end">300</text></g>
<text transform="translate(572.45,562.2) scale(1.08,1)" text-anchor="middle" font-weight="bold" font-size="8.45" fill="#353535">Pixel values at location (x,y)</text>
<text transform="translate(470,483.1) scale(1.08,1) rotate(-90)" text-anchor="middle" font-weight="bold" font-size="8.45" fill="#353535">Pixel values at location (x+1,y+1)</text>
<path d="M544.47 500.09h1.1v1.1h-1.1zM546.9 501.88h1.1v1.1h-1.1zM545.09 499.15h1.1v1.1h-1.1zM543.51 499.46h1.1v1.1h-1.1zM545.8 498.57h1.1v1.1h-1.1zM541.38 502h1.1v1.1h-1.1zM543.25 497.24h1.1v1.1h-1.1zM545.52 505.07h1.1v1.1h-1.1zM540.41 495.21h1.1v1.1h-1.1zM545.82 504.08h1.1v1.1h-1.1zM541.64 500.14h1.1v1.1h-1.1zM549.46 496.09h1.1v1.1h-1.1zM543.46 501.35h1.1v1.1h-1.1zM551.1 503.23h1.1v1.1h-1.1zM549.91 499.6h1.1v1.1h-1.1zM545 497h1.1v1.1h-1.1zM546.3 502.83h1.1v1.1h-1.1zM539.58 500.49h1.1v1.1h-1.1zM546.4 496.78h1.1v1.1h-1.1zM535.94 496.85h1.1v1.1h-1.1zM546.75 496.36h1.1v1.1h-1.1zM547.35 499.95h1.1v1.1h-1.1zM546.13 499.44h1.1v1.1h-1.1zM542.58 500.84h1.1v1.1h-1.1zM545.11 501.77h1.1v1.1h-1.1zM539.78 504.5h1.1v1.1h-1.1zM546.37 499.1h1.1v1.1h-1.1zM545.04 503.74h1.1v1.1h-1.1zM547.53 501.61h1.1v1.1h-1.1zM537.74 496.23h1.1v1.1h-1.1zM539.69 494.34h1.1v1.1h-1.1zM546.47 501.74h1.1v1.1h-1.1zM536.81 502.46h1.1v1.1h-1.1zM549.64 496.79h1.1v1.1h-1.1zM545.55 505.24h1.1v1.1h-1.1zM543.41 501.31h1.1v1.1h-1.1zM546.23 500.87h1.1v1.1h-1.1zM545.84 505.02h1.1v1.1h-1.1zM542.53 496.57h1.1v1.1h-1.1zM539.82 497.99h1.1v1.1h-1.1zM552.41 498.74h1.1v1.1h-1.1zM540.03 497.11h1.1v1.1h-1.1zM538.48 499.6h1.1v1.1h-1.1zM543.31 497.12h1.1v1.1h-1.1zM548.63 500.01h1.1v1.1h-1.1zM559.12 495.17h1.1v1.1h-1.1zM540.83 505.89h1.1v1.1h-1.1zM564.51 502.74h1.1v1.1h-1.1zM548 501.16h1.1v1.1h-1.1zM540.88 509.31h1.1v1.1h-1.1zM543.52 501.16h1.1v1.1h-1.1zM552.59 503.34h1.1v1.1h-1.1zM532.08 506.39h1.1v1.1h-1.1zM544.36 499.17h1.1v1.1h-1.1zM550.52 502.62h1.1v1.1h-1.1zM549.03 499.74h1.1v1.1h-1.1zM558.29 500.83h1.1v1.1h-1.1zM545.84 497.44h1.1v1.1h-1.1zM554.5 505.56h1.1v1.1h-1.1zM540.87 502.03h1.1v1.1h-1.1zM527.51 493.41h1.1v1.1h-1.1zM553.33 500.41h1.1v1.1h-1.1zM571.8 493.58h1.1v1.1h-1.1zM560.98 491.95h1.1v1.1h-1.1zM551.98 508.27h1.1v1.1h-1.1zM557.02 498.23h1.1v1.1h-1.1zM535.05 500.24h1.1v1.1h-1.1zM550.76 495.15h1.1v1.1h-1.1zM546.1 503.39h1.1v1.1h-1.1zM550.85 504.69h1.1v1.1h-1.1zM544.06 496.36h1.1v1.1h-1.1zM533.08 498.48h1.1v1.1h-1.1zM528.9 505.6h1.1v1.1h-1.1zM534.76 501.02h1.1v1.1h-1.1zM550.44 500.81h1.1v1.1h-1.1zM530.24 504.04h1.1v1.1h-1.1zM539.1 508.21h1.1v1.1h-1.1zM542.24 510.04h1.1v1.1h-1.1zM557.25 500.85h1.1v1.1h-1.1zM555.99 496.5h1.1v1.1h-1.1zM551.55 495.25h1.1v1.1h-1.1zM538.76 495.85h1.1v1.1h-1.1zM535.9 499.41h1.1v1.1h-1.1zM547.53 494.9h1.1v1.1h-1.1zM534.76 503.72h1.1v1.1h-1.1zM554.37 494.31h1.1v1.1h-1.1zM558.95 508.33h1.1v1.1h-1.1zM536.02 508.57h1.1v1.1h-1.1zM551.36 495.52h1.1v1.1h-1.1zM549.1 494.82h1.1v1.1h-1.1zM545.16 499.26h1.1v1.1h-1.1zM557.25 497.5h1.1v1.1h-1.1zM549.34 498.72h1.1v1.1h-1.1zM544.5 495.28h1.1v1.1h-1.1zM546.85 508.11h1.1v1.1h-1.1zM542.47 502.14h1.1v1.1h-1.1zM542.66 499.29h1.1v1.1h-1.1zM540.55 502.76h1.1v1.1h-1.1zM542.5 503.16h1.1v1.1h-1.1zM558.77 508.9h1.1v1.1h-1.1zM550.16 476h1.1v1.1h-1.1zM541.71 474.78h1.1v1.1h-1.1zM541.92 477.7h1.1v1.1h-1.1zM544.72 475.99h1.1v1.1h-1.1zM550.4 480.55h1.1v1.1h-1.1zM543.82 473.75h1.1v1.1h-1.1zM544.15 475.66h1.1v1.1h-1.1zM549.8 479.33h1.1v1.1h-1.1zM544.83 474.54h1.1v1.1h-1.1zM542.71 480.57h1.1v1.1h-1.1zM541.33 475.96h1.1v1.1h-1.1zM545.32 472.06h1.1v1.1h-1.1zM549.14 480.08h1.1v1.1h-1.1zM548.16 474.25h1.1v1.1h-1.1zM550.12 476.78h1.1v1.1h-1.1zM542.81 476.07h1.1v1.1h-1.1zM549.87 474.94h1.1v1.1h-1.1zM550.38 474.56h1.1v1.1h-1.1zM542.71 478.82h1.1v1.1h-1.1zM550.9 480.01h1.1v1.1h-1.1zM543.51 477.17h1.1v1.1h-1.1zM541.62 477.77h1.1v1.1h-1.1zM544.7 470.79h1.1v1.1h-1.1zM544.46 477.66h1.1v1.1h-1.1zM545.1 474.19h1.1v1.1h-1.1zM541.94 477.38h1.1v1.1h-1.1zM538.82 474.76h1.1v1.1h-1.1zM546.97 472.86h1.1v1.1h-1.1zM540.66 471.26h1.1v1.1h-1.1zM547.61 477.07h1.1v1.1h-1.1zM543.37 477.15h1.1v1.1h-1.1zM540.61 474.59h1.1v1.1h-1.1zM542.64 478.13h1.1v1.1h-1.1zM546.42 476.15h1.1v1.1h-1.1zM542.72 476.98h1.1v1.1h-1.1zM543.03 473.23h1.1v1.1h-1.1zM548.05 478.14h1.1v1.1h-1.1zM544.55 473.17h1.1v1.1h-1.1zM543.72 472.19h1.1v1.1h-1.1zM546.18 474.83h1.1v1.1h-1.1zM537.7 474.4h1.1v1.1h-1.1zM545.82 475.04h1.1v1.1h-1.1zM546.3 475.17h1.1v1.1h-1.1zM542.97 474.28h1.1v1.1h-1.1zM544.89 478.91h1.1v1.1h-1.1zM536.45 475.67h1.1v1.1h-1.1zM547.4 486.6h1.1v1.1h-1.1zM527.99 471.57h1.1v1.1h-1.1zM544.59 463.26h1.1v1.1h-1.1zM532.28 477.56h1.1v1.1h-1.1zM539.83 473.85h1.1v1.1h-1.1zM556.09 468.97h1.1v1.1h-1.1zM536.52 470.72h1.1v1.1h-1.1zM534.84 475h1.1v1.1h-1.1zM546.07 473.55h1.1v1.1h-1.1zM538.21 470.24h1.1v1.1h-1.1zM544.13 476.51h1.1v1.1h-1.1zM542.52 481.35h1.1v1.1h-1.1zM550.52 474.87h1.1v1.1h-1.1zM548.37 467.81h1.1v1.1h-1.1zM537.66 477.73h1.1v1.1h-1.1zM544.74 472.46h1.1v1.1h-1.1zM543.24 472.1h1.1v1.1h-1.1zM548.38 484.55h1.1v1.1h-1.1zM539.16 485.81h1.1v1.1h-1.1zM542.37 478.35h1.1v1.1h-1.1zM549.46 475.63h1.1v1.1h-1.1zM544.16 470.58h1.1v1.1h-1.1zM549.5 482.11h1.1v1.1h-1.1zM539.1 474.9h1.1v1.1h-1.1zM558.47 477.33h1.1v1.1h-1.1zM543.3 475.19h1.1v1.1h-1.1zM551.02 476.84h1.1v1.1h-1.1zM547.07 478.37h1.1v1.1h-1.1zM540.22 480.09h1.1v1.1h-1.1zM556.3 479.9h1.1v1.1h-1.1zM532.76 481.59h1.1v1.1h-1.1zM553.81 468.21h1.1v1.1h-1.1zM548.95 473.3h1.1v1.1h-1.1zM538.17 480.33h1.1v1.1h-1.1zM532.34 468.1h1.1v1.1h-1.1zM531.04 474.49h1.1v1.1h-1.1zM540.2 481.8h1.1v1.1h-1.1zM542.77 469.03h1.1v1.1h-1.1zM537.15 482.18h1.1v1.1h-1.1zM548.55 473.72h1.1v1.1h-1.1zM545 481.92h1.1v1.1h-1.1zM555.86 483.1h1.1v1.1h-1.1zM534.95 480.85h1.1v1.1h-1.1zM545.09 476.83h1.1v1.1h-1.1zM546.28 472.52h1.1v1.1h-1.1zM556.45 476.96h1.1v1.1h-1.1zM531 470.74h1.1v1.1h-1.1zM530.3 479.54h1.1v1.1h-1.1zM534.02 474.67h1.1v1.1h-1.1zM553.1 482.79h1.1v1.1h-1.1zM538.54 470.39h1.1v1.1h-1.1zM550.33 483.14h1.1v1.1h-1.1zM550.25 471.37h1.1v1.1h-1.1zM541.95 482.34h1.1v1.1h-1.1zM543.05 459.43h1.1v1.1h-1.1zM546.06 456.53h1.1v1.1h-1.1zM543.21 456.89h1.1v1.1h-1.1zM541.41 455.57h1.1v1.1h-1.1zM541.36 458.42h1.1v1.1h-1.1zM545.14 458.62h1.1v1.1h-1.1zM540.83 452.62h1.1v1.1h-1.1zM549.79 461.78h1.1v1.1h-1.1zM545.09 460.64h1.1v1.1h-1.1zM545.73 460.73h1.1v1.1h-1.1zM546.64 456.35h1.1v1.1h-1.1zM550.43 454.75h1.1v1.1h-1.1zM543.14 455.37h1.1v1.1h-1.1zM543.14 457.89h1.1v1.1h-1.1zM543 461.82h1.1v1.1h-1.1zM546.71 462.47h1.1v1.1h-1.1zM543.89 456.37h1.1v1.1h-1.1zM545.07 461.38h1.1v1.1h-1.1zM542.49 456h1.1v1.1h-1.1zM548.38 453.81h1.1v1.1h-1.1zM538.57 456.52h1.1v1.1h-1.1zM543.06 455.8h1.1v1.1h-1.1zM539 457.96h1.1v1.1h-1.1zM547.06 459.16h1.1v1.1h-1.1zM543.46 459.96h1.1v1.1h-1.1zM548.43 460.79h1.1v1.1h-1.1zM541.61 458.41h1.1v1.1h-1.1zM543.61 452.58h1.1v1.1h-1.1zM545.61 459.61h1.1v1.1h-1.1zM546.64 456.8h1.1v1.1h-1.1zM545.63 457.78h1.1v1.1h-1.1zM546.24 460.42h1.1v1.1h-1.1zM540.63 458.64h1.1v1.1h-1.1zM540.96 455.95h1.1v1.1h-1.1zM551.22 454.67h1.1v1.1h-1.1zM546.18 456.81h1.1v1.1h-1.1zM542.37 460.72h1.1v1.1h-1.1zM546.53 461.15h1.1v1.1h-1.1zM545.7 457.96h1.1v1.1h-1.1zM547.21 457.5h1.1v1.1h-1.1zM545.04 459.01h1.1v1.1h-1.1zM538.88 458.44h1.1v1.1h-1.1zM547.02 455.12h1.1v1.1h-1.1zM549.32 460h1.1v1.1h-1.1zM541.53 455.95h1.1v1.1h-1.1zM541.01 445.68h1.1v1.1h-1.1zM547.23 464.67h1.1v1.1h-1.1zM540.19 450.33h1.1v1.1h-1.1zM529.89 456.91h1.1v1.1h-1.1zM533.44 450.19h1.1v1.1h-1.1zM541.06 462.41h1.1v1.1h-1.1zM530.83 460.93h1.1v1.1h-1.1zM523.96 459.83h1.1v1.1h-1.1zM562.36 457.16h1.1v1.1h-1.1zM542.53 463.01h1.1v1.1h-1.1zM547.45 459.81h1.1v1.1h-1.1zM537.81 451.19h1.1v1.1h-1.1zM548.25 461.75h1.1v1.1h-1.1zM556.67 457.88h1.1v1.1h-1.1zM548.76 456.93h1.1v1.1h-1.1zM554.24 454.76h1.1v1.1h-1.1zM541.86 454.28h1.1v1.1h-1.1zM541.51 457h1.1v1.1h-1.1zM557.99 462.55h1.1v1.1h-1.1zM536.29 459.48h1.1v1.1h-1.1zM540.64 451.57h1.1v1.1h-1.1zM531.77 446.97h1.1v1.1h-1.1zM557.54 459.71h1.1v1.1h-1.1zM546.19 459.3h1.1v1.1h-1.1zM550.13 454.54h1.1v1.1h-1.1zM550.78 454.06h1.1v1.1h-1.1zM560.35 458.41h1.1v1.1h-1.1zM550.36 458.49h1.1v1.1h-1.1zM545 456.6h1.1v1.1h-1.1zM544.26 456.01h1.1v1.1h-1.1zM545.52 461.04h1.1v1.1h-1.1zM549.87 456.57h1.1v1.1h-1.1zM547.59 461.06h1.1v1.1h-1.1zM551.69 454.37h1.1v1.1h-1.1zM551.08 458.12h1.1v1.1h-1.1zM543.6 461.3h1.1v1.1h-1.1zM530.95 458.2h1.1v1.1h-1.1zM548.15 463.01h1.1v1.1h-1.1zM555.43 451.12h1.1v1.1h-1.1zM555.24 452.2h1.1v1.1h-1.1zM544.33 463.19h1.1v1.1h-1.1zM537.85 453.54h1.1v1.1h-1.1zM559.15 464.29h1.1v1.1h-1.1zM529.93 460.14h1.1v1.1h-1.1zM540.18 455.94h1.1v1.1h-1.1zM533.1 451.72h1.1v1.1h-1.1zM539.84 450.61h1.1v1.1h-1.1zM539.58 460.96h1.1v1.1h-1.1zM535 449.63h1.1v1.1h-1.1zM547.35 452.03h1.1v1.1h-1.1zM531.63 456.88h1.1v1.1h-1.1zM551.64 449.32h1.1v1.1h-1.1zM557.72 464.42h1.1v1.1h-1.1zM540.89 449.06h1.1v1.1h-1.1zM545.72 449.78h1.1v1.1h-1.1zM579.12 499.88h1.1v1.1h-1.1zM581.68 501.27h1.1v1.1h-1.1zM576.12 501.54h1.1v1.1h-1.1zM572.04 503.65h1.1v1.1h-1.1zM585.81 502.45h1.1v1.1h-1.1zM578.87 495.23h1.1v1.1h-1.1zM582.69 500.19h1.1v1.1h-1.1zM581.62 501.29h1.1v1.1h-1.1zM576.08 497.73h1.1v1.1h-1.1zM579.59 496.06h1.1v1.1h-1.1zM578.26 501.58h1.1v1.1h-1.1zM580.3 501.06h1.1v1.1h-1.1zM578.09 503.03h1.1v1.1h-1.1zM580 499.63h1.1v1.1h-1.1zM585.32 500.6h1.1v1.1h-1.1zM573.21 499.23h1.1v1.1h-1.1zM586.87 501.76h1.1v1.1h-1.1zM576.44 501h1.1v1.1h-1.1zM569.48 501.47h1.1v1.1h-1.1zM578.51 504.76h1.1v1.1h-1.1zM581.09 502.98h1.1v1.1h-1.1zM572.9 502.54h1.1v1.1h-1.1zM581.28 495.16h1.1v1.1h-1.1zM583.37 499.98h1.1v1.1h-1.1zM577.41 501.26h1.1v1.1h-1.1zM582.41 501.98h1.1v1.1h-1.1zM580.55 497.83h1.1v1.1h-1.1zM576.08 502.18h1.1v1.1h-1.1zM580.66 500.51h1.1v1.1h-1.1zM578.72 502.01h1.1v1.1h-1.1zM578.93 495.34h1.1v1.1h-1.1zM583.73 505.05h1.1v1.1h-1.1zM579.3 500.27h1.1v1.1h-1.1zM579.27 504.4h1.1v1.1h-1.1zM578.7 500.12h1.1v1.1h-1.1zM576.84 499.65h1.1v1.1h-1.1zM570.9 504.75h1.1v1.1h-1.1zM579.48 499.44h1.1v1.1h-1.1zM578.58 501.81h1.1v1.1h-1.1zM579.77 497.5h1.1v1.1h-1.1zM582.18 500.75h1.1v1.1h-1.1zM577.57 497.56h1.1v1.1h-1.1zM580.97 498.06h1.1v1.1h-1.1zM578.2 502.94h1.1v1.1h-1.1zM579.77 502.28h1.1v1.1h-1.1zM585.98 495.78h1.1v1.1h-1.1zM566.17 496.83h1.1v1.1h-1.1zM587.07 494.76h1.1v1.1h-1.1zM576.33 505.31h1.1v1.1h-1.1zM584.91 494.9h1.1v1.1h-1.1zM579.5 506.94h1.1v1.1h-1.1zM570.05 499.05h1.1v1.1h-1.1zM574.22 504.31h1.1v1.1h-1.1zM581.79 494.7h1.1v1.1h-1.1zM566.86 504.25h1.1v1.1h-1.1zM586.87 500.77h1.1v1.1h-1.1zM577.1 496.98h1.1v1.1h-1.1zM572.37 507.33h1.1v1.1h-1.1zM579.27 491.84h1.1v1.1h-1.1zM585.18 500.56h1.1v1.1h-1.1zM585.16 502.81h1.1v1.1h-1.1zM572.12 509.84h1.1v1.1h-1.1zM580.75 495.53h1.1v1.1h-1.1zM581.36 500.74h1.1v1.1h-1.1zM576.76 494.47h1.1v1.1h-1.1zM578.86 508.54h1.1v1.1h-1.1zM587.3 504.14h1.1v1.1h-1.1zM581.47 500.51h1.1v1.1h-1.1zM585.42 499.16h1.1v1.1h-1.1zM586.44 499.36h1.1v1.1h-1.1zM576.4 503.36h1.1v1.1h-1.1zM583.02 505.14h1.1v1.1h-1.1zM584.67 501.86h1.1v1.1h-1.1zM573.62 505.38h1.1v1.1h-1.1zM578.28 490.69h1.1v1.1h-1.1zM568.32 505.65h1.1v1.1h-1.1zM575.23 492.72h1.1v1.1h-1.1zM579.15 510h1.1v1.1h-1.1zM574.75 498.29h1.1v1.1h-1.1zM585.88 508.52h1.1v1.1h-1.1zM585.24 502.77h1.1v1.1h-1.1zM579.67 502.14h1.1v1.1h-1.1zM577.8 490.51h1.1v1.1h-1.1zM588.29 491.99h1.1v1.1h-1.1zM584.29 496.44h1.1v1.1h-1.1zM571.32 510.03h1.1v1.1h-1.1zM586.36 497h1.1v1.1h-1.1zM581.99 504.36h1.1v1.1h-1.1zM574.06 491.93h1.1v1.1h-1.1zM579.84 510.34h1.1v1.1h-1.1zM575.66 503.62h1.1v1.1h-1.1zM569.7 490.76h1.1v1.1h-1.1zM587.93 494.1h1.1v1.1h-1.1zM568.32 502.22h1.1v1.1h-1.1zM570.66 495.92h1.1v1.1h-1.1zM585.89 494.62h1.1v1.1h-1.1zM585.51 508.28h1.1v1.1h-1.1zM568.52 508.85h1.1v1.1h-1.1zM586.61 493.8h1.1v1.1h-1.1zM579.49 505.95h1.1v1.1h-1.1zM580.23 477.39h1.1v1.1h-1.1zM579.04 476.29h1.1v1.1h-1.1zM582.69 476.69h1.1v1.1h-1.1zM579.96 480.79h1.1v1.1h-1.1zM570.28 479.94h1.1v1.1h-1.1zM580.35 481.96h1.1v1.1h-1.1zM580.53 476.65h1.1v1.1h-1.1zM579.15 478.18h1.1v1.1h-1.1zM577.72 474.42h1.1v1.1h-1.1zM580.35 476.48h1.1v1.1h-1.1zM577.49 475.91h1.1v1.1h-1.1zM583.17 476.47h1.1v1.1h-1.1zM577.9 479.26h1.1v1.1h-1.1zM579.48 478.63h1.1v1.1h-1.1zM574.27 474.32h1.1v1.1h-1.1zM577.03 481.32h1.1v1.1h-1.1zM576.71 471.98h1.1v1.1h-1.1zM578.78 479.61h1.1v1.1h-1.1zM575.4 474.69h1.1v1.1h-1.1zM580.52 475.91h1.1v1.1h-1.1zM578.48 475.25h1.1v1.1h-1.1zM584.36 475.25h1.1v1.1h-1.1zM578.58 479.79h1.1v1.1h-1.1zM580.65 472.65h1.1v1.1h-1.1zM581.34 479.45h1.1v1.1h-1.1zM579.77 473.29h1.1v1.1h-1.1zM576.99 475.23h1.1v1.1h-1.1zM583.24 472.48h1.1v1.1h-1.1zM573.75 480.63h1.1v1.1h-1.1zM580.41 474.73h1.1v1.1h-1.1zM577.94 476.47h1.1v1.1h-1.1zM577.76 473.53h1.1v1.1h-1.1zM571.63 475.81h1.1v1.1h-1.1zM574.8 478.05h1.1v1.1h-1.1zM573.94 478.61h1.1v1.1h-1.1zM579.06 476.36h1.1v1.1h-1.1zM585.21 476.95h1.1v1.1h-1.1zM580.31 475.57h1.1v1.1h-1.1zM580.02 472.88h1.1v1.1h-1.1zM579.61 476.06h1.1v1.1h-1.1zM578.76 476.41h1.1v1.1h-1.1zM578.95 474.02h1.1v1.1h-1.1zM579.21 476.25h1.1v1.1h-1.1zM578.98 474.59h1.1v1.1h-1.1zM577.54 474.15h1.1v1.1h-1.1zM575.72 473.17h1.1v1.1h-1.1zM590.61 475.33h1.1v1.1h-1.1zM578.62 481.96h1.1v1.1h-1.1zM583.56 476.36h1.1v1.1h-1.1zM584.58 479.5h1.1v1.1h-1.1zM582.25 467.94h1.1v1.1h-1.1zM581.54 477.95h1.1v1.1h-1.1zM571.36 476.46h1.1v1.1h-1.1zM583.08 473.61h1.1v1.1h-1.1zM572.46 481.25h1.1v1.1h-1.1zM573.31 481.21h1.1v1.1h-1.1zM577.49 475.17h1.1v1.1h-1.1zM590.64 475.5h1.1v1.1h-1.1zM587.83 484.19h1.1v1.1h-1.1zM588.36 472.67h1.1v1.1h-1.1zM581.78 472.54h1.1v1.1h-1.1zM582.83 467.42h1.1v1.1h-1.1zM583.96 484.6h1.1v1.1h-1.1zM568.69 468.84h1.1v1.1h-1.1zM578.64 470.2h1.1v1.1h-1.1zM577.09 479.5h1.1v1.1h-1.1zM577.09 474.94h1.1v1.1h-1.1zM580.26 479.33h1.1v1.1h-1.1zM582.35 473.52h1.1v1.1h-1.1zM573.65 481.66h1.1v1.1h-1.1zM567.4 477.86h1.1v1.1h-1.1zM579.2 479.69h1.1v1.1h-1.1zM575.53 477.05h1.1v1.1h-1.1zM579.32 473.74h1.1v1.1h-1.1zM584.12 474.36h1.1v1.1h-1.1zM587.58 473.74h1.1v1.1h-1.1zM570.14 481.24h1.1v1.1h-1.1zM581.14 475.91h1.1v1.1h-1.1zM568.81 483.39h1.1v1.1h-1.1zM580.58 474.68h1.1v1.1h-1.1zM569.98 471.74h1.1v1.1h-1.1zM573.47 474.89h1.1v1.1h-1.1zM579.79 479.17h1.1v1.1h-1.1zM588.88 478.21h1.1v1.1h-1.1zM577.46 475.73h1.1v1.1h-1.1zM586.55 468.05h1.1v1.1h-1.1zM585.02 475.76h1.1v1.1h-1.1zM583.87 474.05h1.1v1.1h-1.1zM589.16 468.34h1.1v1.1h-1.1zM584.82 481.29h1.1v1.1h-1.1zM580.64 477.46h1.1v1.1h-1.1zM573.28 471.59h1.1v1.1h-1.1zM573.05 472.82h1.1v1.1h-1.1zM578.91 477.67h1.1v1.1h-1.1zM583.65 472.56h1.1v1.1h-1.1zM589.83 467.86h1.1v1.1h-1.1zM585.69 480.47h1.1v1.1h-1.1zM582.83 476.5h1.1v1.1h-1.1zM588.75 477.33h1.1v1.1h-1.1zM576.03 484.56h1.1v1.1h-1.1zM574.97 457.06h1.1v1.1h-1.1zM578.56 456.54h1.1v1.1h-1.1zM577.83 457.53h1.1v1.1h-1.1zM580.9 455.28h1.1v1.1h-1.1zM576.79 455.27h1.1v1.1h-1.1zM575.78 458.08h1.1v1.1h-1.1zM579.58 457.27h1.1v1.1h-1.1zM570.64 459.99h1.1v1.1h-1.1zM578.51 455.38h1.1v1.1h-1.1zM576.74 453.96h1.1v1.1h-1.1zM573 457.44h1.1v1.1h-1.1zM580.98 457.58h1.1v1.1h-1.1zM580.04 455.36h1.1v1.1h-1.1zM576.4 456.19h1.1v1.1h-1.1zM582.76 458.19h1.1v1.1h-1.1zM571.26 460.51h1.1v1.1h-1.1zM576.23 460.19h1.1v1.1h-1.1zM580.61 459.57h1.1v1.1h-1.1zM587.58 456.24h1.1v1.1h-1.1zM574.69 458.32h1.1v1.1h-1.1zM584.35 455.97h1.1v1.1h-1.1zM575.67 455.11h1.1v1.1h-1.1zM577.52 452.26h1.1v1.1h-1.1zM577.26 456.18h1.1v1.1h-1.1zM581.06 458.7h1.1v1.1h-1.1zM578.62 454.81h1.1v1.1h-1.1zM580.84 457.77h1.1v1.1h-1.1zM580.65 453.39h1.1v1.1h-1.1zM582.32 456.47h1.1v1.1h-1.1zM580.26 461.41h1.1v1.1h-1.1zM579.6 458.8h1.1v1.1h-1.1zM581.63 459.09h1.1v1.1h-1.1zM580.67 460.17h1.1v1.1h-1.1zM582.19 459.39h1.1v1.1h-1.1zM579.04 456.22h1.1v1.1h-1.1zM578.04 457.6h1.1v1.1h-1.1zM582.75 453.34h1.1v1.1h-1.1zM572.99 459.81h1.1v1.1h-1.1zM581.44 455.34h1.1v1.1h-1.1zM577.53 457.39h1.1v1.1h-1.1zM578.48 452.1h1.1v1.1h-1.1zM578.46 460.51h1.1v1.1h-1.1zM573.85 460.71h1.1v1.1h-1.1zM583.58 458.56h1.1v1.1h-1.1zM585.78 456.08h1.1v1.1h-1.1zM581.44 454.58h1.1v1.1h-1.1zM583.87 453.29h1.1v1.1h-1.1zM573.29 460.25h1.1v1.1h-1.1zM575.86 457.13h1.1v1.1h-1.1zM577.64 463.42h1.1v1.1h-1.1zM574.98 449.2h1.1v1.1h-1.1zM591.85 461.65h1.1v1.1h-1.1zM581.42 457.79h1.1v1.1h-1.1zM574.07 454.26h1.1v1.1h-1.1zM578.72 449.76h1.1v1.1h-1.1zM581.88 459.09h1.1v1.1h-1.1zM563.28 458.1h1.1v1.1h-1.1zM584.22 460.98h1.1v1.1h-1.1zM584.44 454.4h1.1v1.1h-1.1zM568.56 458.54h1.1v1.1h-1.1zM581.06 454.07h1.1v1.1h-1.1zM580.07 457.69h1.1v1.1h-1.1zM577.06 458.99h1.1v1.1h-1.1zM579.16 462.63h1.1v1.1h-1.1zM582.99 459.15h1.1v1.1h-1.1zM582.27 460.01h1.1v1.1h-1.1zM581.6 457.02h1.1v1.1h-1.1zM584.48 455.44h1.1v1.1h-1.1zM584.73 458.4h1.1v1.1h-1.1zM578.81 458.85h1.1v1.1h-1.1zM571.63 458.21h1.1v1.1h-1.1zM585.66 454h1.1v1.1h-1.1zM574.05 456.21h1.1v1.1h-1.1zM583.64 464.02h1.1v1.1h-1.1zM581.23 456.07h1.1v1.1h-1.1zM569.37 461.68h1.1v1.1h-1.1zM582.12 449.58h1.1v1.1h-1.1zM589.37 451.37h1.1v1.1h-1.1zM570.94 452.61h1.1v1.1h-1.1zM584.86 458.09h1.1v1.1h-1.1zM589.96 455.92h1.1v1.1h-1.1zM570.81 462.5h1.1v1.1h-1.1zM571.06 455.73h1.1v1.1h-1.1zM581.85 451.48h1.1v1.1h-1.1zM568.45 466.04h1.1v1.1h-1.1zM589.46 461.7h1.1v1.1h-1.1zM573.99 451.33h1.1v1.1h-1.1zM570.66 452.59h1.1v1.1h-1.1zM587.8 456.55h1.1v1.1h-1.1zM581.51 466.1h1.1v1.1h-1.1zM581.47 455.67h1.1v1.1h-1.1zM585.06 457.33h1.1v1.1h-1.1zM570.71 462.38h1.1v1.1h-1.1zM582.48 464.84h1.1v1.1h-1.1zM570.56 461.9h1.1v1.1h-1.1zM585.61 456.82h1.1v1.1h-1.1zM576.02 449.66h1.1v1.1h-1.1zM580.91 462.11h1.1v1.1h-1.1zM580.57 451.52h1.1v1.1h-1.1zM576.27 458.75h1.1v1.1h-1.1zM596.57 504.48h1.1v1.1h-1.1zM604.16 501.91h1.1v1.1h-1.1zM602.92 501.77h1.1v1.1h-1.1zM600.19 499.78h1.1v1.1h-1.1zM609.63 500.1h1.1v1.1h-1.1zM603.73 496.97h1.1v1.1h-1.1zM607.22 503.43h1.1v1.1h-1.1zM603.61 502.25h1.1v1.1h-1.1zM605.41 497.12h1.1v1.1h-1.1zM603.16 500.94h1.1v1.1h-1.1zM605.94 503.88h1.1v1.1h-1.1zM603.94 498.81h1.1v1.1h-1.1zM609.41 505.8h1.1v1.1h-1.1zM607.97 501.35h1.1v1.1h-1.1zM609.95 498.78h1.1v1.1h-1.1zM612.27 499.66h1.1v1.1h-1.1zM604.21 502.87h1.1v1.1h-1.1zM600.69 498.97h1.1v1.1h-1.1zM607.32 498.23h1.1v1.1h-1.1zM606.75 504.74h1.1v1.1h-1.1zM604.18 501.21h1.1v1.1h-1.1zM606.1 498.38h1.1v1.1h-1.1zM610.39 499.73h1.1v1.1h-1.1zM598.54 503.4h1.1v1.1h-1.1zM598.29 502.68h1.1v1.1h-1.1zM601.48 499.86h1.1v1.1h-1.1zM604.81 497.4h1.1v1.1h-1.1zM609.24 501.81h1.1v1.1h-1.1zM608.78 500.5h1.1v1.1h-1.1zM607.11 496.75h1.1v1.1h-1.1zM601.65 500.72h1.1v1.1h-1.1zM610.8 502.68h1.1v1.1h-1.1zM606.29 500.16h1.1v1.1h-1.1zM604.15 504.2h1.1v1.1h-1.1zM603.22 503.29h1.1v1.1h-1.1zM609.24 499.83h1.1v1.1h-1.1zM607.95 503.87h1.1v1.1h-1.1zM607.27 500.13h1.1v1.1h-1.1zM609.13 502.55h1.1v1.1h-1.1zM608.32 496.68h1.1v1.1h-1.1zM611.7 503.14h1.1v1.1h-1.1zM601.74 504.64h1.1v1.1h-1.1zM608.84 498.86h1.1v1.1h-1.1zM606.73 502.96h1.1v1.1h-1.1zM609.83 496.03h1.1v1.1h-1.1zM605.33 501.2h1.1v1.1h-1.1zM613.44 497.71h1.1v1.1h-1.1zM614.47 502.78h1.1v1.1h-1.1zM607.81 502.41h1.1v1.1h-1.1zM601.79 502.18h1.1v1.1h-1.1zM603.68 497.72h1.1v1.1h-1.1zM603.55 500.14h1.1v1.1h-1.1zM600.21 507.35h1.1v1.1h-1.1zM615.02 506h1.1v1.1h-1.1zM617.57 495.3h1.1v1.1h-1.1zM590.41 504.08h1.1v1.1h-1.1zM602.8 500.41h1.1v1.1h-1.1zM604.38 503.89h1.1v1.1h-1.1zM613.86 501.24h1.1v1.1h-1.1zM611.94 504.34h1.1v1.1h-1.1zM601 493.11h1.1v1.1h-1.1zM603.7 506.63h1.1v1.1h-1.1zM604.44 494.68h1.1v1.1h-1.1zM604.5 504.52h1.1v1.1h-1.1zM609.78 495.07h1.1v1.1h-1.1zM604.2 502.3h1.1v1.1h-1.1zM603.15 485.52h1.1v1.1h-1.1zM604.32 490.83h1.1v1.1h-1.1zM604.59 498.27h1.1v1.1h-1.1zM592.09 499.54h1.1v1.1h-1.1zM605.92 502.29h1.1v1.1h-1.1zM602.87 508.1h1.1v1.1h-1.1zM595.72 499.6h1.1v1.1h-1.1zM601.34 501.02h1.1v1.1h-1.1zM604.38 503.34h1.1v1.1h-1.1zM600.97 493.35h1.1v1.1h-1.1zM607.21 500.3h1.1v1.1h-1.1zM610.62 500.69h1.1v1.1h-1.1zM602.76 499.46h1.1v1.1h-1.1zM594.04 503.56h1.1v1.1h-1.1zM594.45 490.4h1.1v1.1h-1.1zM615.4 497.39h1.1v1.1h-1.1zM597.32 493.27h1.1v1.1h-1.1zM600.32 494.3h1.1v1.1h-1.1zM609.2 498.39h1.1v1.1h-1.1zM611.38 505.28h1.1v1.1h-1.1zM613.62 499.66h1.1v1.1h-1.1zM611.76 493.59h1.1v1.1h-1.1zM599.64 502.36h1.1v1.1h-1.1zM602.22 509.17h1.1v1.1h-1.1zM614.62 496.74h1.1v1.1h-1.1zM605.32 499.61h1.1v1.1h-1.1zM614.72 509.32h1.1v1.1h-1.1zM602.13 496.72h1.1v1.1h-1.1zM606.4 500.59h1.1v1.1h-1.1zM599.74 506.19h1.1v1.1h-1.1zM609.67 503.78h1.1v1.1h-1.1zM616.11 492.32h1.1v1.1h-1.1zM616.9 505.1h1.1v1.1h-1.1zM605.91 508.62h1.1v1.1h-1.1zM604.7 475.67h1.1v1.1h-1.1zM596.92 476.48h1.1v1.1h-1.1zM605.82 478.74h1.1v1.1h-1.1zM604.25 470.82h1.1v1.1h-1.1zM611.85 474.88h1.1v1.1h-1.1zM606.36 477.15h1.1v1.1h-1.1zM610.29 477.49h1.1v1.1h-1.1zM602.78 474.76h1.1v1.1h-1.1zM602.29 478.31h1.1v1.1h-1.1zM610.5 480.26h1.1v1.1h-1.1zM605.35 476.13h1.1v1.1h-1.1zM606.45 479.9h1.1v1.1h-1.1zM604.8 477.22h1.1v1.1h-1.1zM612.11 474.01h1.1v1.1h-1.1zM603 474.33h1.1v1.1h-1.1zM607.8 476.69h1.1v1.1h-1.1zM604.75 477.08h1.1v1.1h-1.1zM600.33 477.93h1.1v1.1h-1.1zM608.76 472.96h1.1v1.1h-1.1zM611.88 477.32h1.1v1.1h-1.1zM607.67 482.18h1.1v1.1h-1.1zM604.66 479.44h1.1v1.1h-1.1zM608.37 480.39h1.1v1.1h-1.1zM602.03 479.06h1.1v1.1h-1.1zM606.92 474.41h1.1v1.1h-1.1zM602.45 472.1h1.1v1.1h-1.1zM606.12 478.41h1.1v1.1h-1.1zM606.76 476.45h1.1v1.1h-1.1zM608.4 475.59h1.1v1.1h-1.1zM613.02 473.62h1.1v1.1h-1.1zM603.4 474.53h1.1v1.1h-1.1zM608.16 478.81h1.1v1.1h-1.1zM603.03 478.35h1.1v1.1h-1.1zM597.18 474.9h1.1v1.1h-1.1zM604.84 473.47h1.1v1.1h-1.1zM603.68 476.24h1.1v1.1h-1.1zM608.04 474.1h1.1v1.1h-1.1zM606.66 478.91h1.1v1.1h-1.1zM613.07 474.34h1.1v1.1h-1.1zM610.21 472.55h1.1v1.1h-1.1zM610.35 475.43h1.1v1.1h-1.1zM607.19 474.91h1.1v1.1h-1.1zM600.47 474.47h1.1v1.1h-1.1zM602.27 475.41h1.1v1.1h-1.1zM602.14 474.71h1.1v1.1h-1.1zM602.38 464.85h1.1v1.1h-1.1zM606.87 474.05h1.1v1.1h-1.1zM599.61 477.75h1.1v1.1h-1.1zM605.22 477.75h1.1v1.1h-1.1zM602.72 480.48h1.1v1.1h-1.1zM610.64 478.2h1.1v1.1h-1.1zM600.22 474.72h1.1v1.1h-1.1zM600.24 477.23h1.1v1.1h-1.1zM602.22 480.72h1.1v1.1h-1.1zM604.11 480.24h1.1v1.1h-1.1zM597.33 474.78h1.1v1.1h-1.1zM603.65 483.22h1.1v1.1h-1.1zM603 475.55h1.1v1.1h-1.1zM608.43 474.68h1.1v1.1h-1.1zM607.28 473.64h1.1v1.1h-1.1zM602.35 480.12h1.1v1.1h-1.1zM609.66 478.32h1.1v1.1h-1.1zM605.67 473.39h1.1v1.1h-1.1zM611.81 470.73h1.1v1.1h-1.1zM601.07 478.14h1.1v1.1h-1.1zM609.28 483.07h1.1v1.1h-1.1zM597.3 473.59h1.1v1.1h-1.1zM601.56 480.7h1.1v1.1h-1.1zM610.91 473.95h1.1v1.1h-1.1zM611.67 477.95h1.1v1.1h-1.1zM603.71 477.99h1.1v1.1h-1.1zM607.57 485.84h1.1v1.1h-1.1zM601.04 473.13h1.1v1.1h-1.1zM600.47 476.71h1.1v1.1h-1.1zM606.44 474h1.1v1.1h-1.1zM610.07 476.26h1.1v1.1h-1.1zM616.56 468.48h1.1v1.1h-1.1zM614.59 468.79h1.1v1.1h-1.1zM613.72 484.58h1.1v1.1h-1.1zM596.63 468.25h1.1v1.1h-1.1zM614.58 474.43h1.1v1.1h-1.1zM608.45 477.51h1.1v1.1h-1.1zM603.75 482.5h1.1v1.1h-1.1zM606.72 480.29h1.1v1.1h-1.1zM596.44 470.06h1.1v1.1h-1.1zM607.36 469.96h1.1v1.1h-1.1zM600.59 475.1h1.1v1.1h-1.1zM600.18 470.74h1.1v1.1h-1.1zM598.54 473.88h1.1v1.1h-1.1zM606.88 479.41h1.1v1.1h-1.1zM595.43 476.65h1.1v1.1h-1.1zM606.12 470.96h1.1v1.1h-1.1zM598.4 481.82h1.1v1.1h-1.1zM600.87 471.23h1.1v1.1h-1.1zM599.1 474.12h1.1v1.1h-1.1zM594.27 483.59h1.1v1.1h-1.1zM610.58 476.47h1.1v1.1h-1.1zM596.22 476.88h1.1v1.1h-1.1zM616.19 478.29h1.1v1.1h-1.1zM606.94 477.79h1.1v1.1h-1.1zM604.53 457.65h1.1v1.1h-1.1zM608.92 459.79h1.1v1.1h-1.1zM603.94 455.98h1.1v1.1h-1.1zM608.65 452.35h1.1v1.1h-1.1zM607.38 459.63h1.1v1.1h-1.1zM602.08 459.5h1.1v1.1h-1.1zM605.84 457.01h1.1v1.1h-1.1zM605.37 459.08h1.1v1.1h-1.1zM604.97 457.8h1.1v1.1h-1.1zM607.6 457.42h1.1v1.1h-1.1zM602.86 460.4h1.1v1.1h-1.1zM610.61 457.82h1.1v1.1h-1.1zM605 457.68h1.1v1.1h-1.1zM609.41 458.36h1.1v1.1h-1.1zM606.19 458.18h1.1v1.1h-1.1zM607.56 460.02h1.1v1.1h-1.1zM606.29 455.17h1.1v1.1h-1.1zM609.61 456.15h1.1v1.1h-1.1zM606.6 453.88h1.1v1.1h-1.1zM607.99 454.29h1.1v1.1h-1.1zM601.54 460.22h1.1v1.1h-1.1zM608.3 458.25h1.1v1.1h-1.1zM604.14 459.87h1.1v1.1h-1.1zM610.62 460.45h1.1v1.1h-1.1zM605.96 460.93h1.1v1.1h-1.1zM605.02 452.28h1.1v1.1h-1.1zM613.83 458.79h1.1v1.1h-1.1zM602.19 453.75h1.1v1.1h-1.1zM602.71 461.85h1.1v1.1h-1.1zM606.78 460.18h1.1v1.1h-1.1zM600.7 454.95h1.1v1.1h-1.1zM603.14 460.14h1.1v1.1h-1.1zM606.17 458.07h1.1v1.1h-1.1zM609.4 457.39h1.1v1.1h-1.1zM610.98 454.92h1.1v1.1h-1.1zM611.62 454.95h1.1v1.1h-1.1zM605.85 456.32h1.1v1.1h-1.1zM605.68 461.31h1.1v1.1h-1.1zM601.64 455.86h1.1v1.1h-1.1zM597.63 459.58h1.1v1.1h-1.1zM601.27 457.77h1.1v1.1h-1.1zM602.11 457.02h1.1v1.1h-1.1zM604.94 458.73h1.1v1.1h-1.1zM602.75 462.89h1.1v1.1h-1.1zM605.86 460.68h1.1v1.1h-1.1zM603.72 455.9h1.1v1.1h-1.1zM612.54 454.37h1.1v1.1h-1.1zM615.36 464.16h1.1v1.1h-1.1zM610.09 450.38h1.1v1.1h-1.1zM608.25 462.73h1.1v1.1h-1.1zM608.27 460h1.1v1.1h-1.1zM601.44 452.7h1.1v1.1h-1.1zM604.49 462.77h1.1v1.1h-1.1zM601.23 448.55h1.1v1.1h-1.1zM600.12 454.5h1.1v1.1h-1.1zM606.83 452.22h1.1v1.1h-1.1zM603.83 461.97h1.1v1.1h-1.1zM601.46 462.36h1.1v1.1h-1.1zM622.67 456.71h1.1v1.1h-1.1zM603.57 451.8h1.1v1.1h-1.1zM609.97 458.45h1.1v1.1h-1.1zM609.74 456.36h1.1v1.1h-1.1zM613.05 449.99h1.1v1.1h-1.1zM603.61 457.77h1.1v1.1h-1.1zM604.47 451.97h1.1v1.1h-1.1zM608.18 454h1.1v1.1h-1.1zM611.56 460.54h1.1v1.1h-1.1zM606.51 451.22h1.1v1.1h-1.1zM611.72 453.86h1.1v1.1h-1.1zM603.83 459.27h1.1v1.1h-1.1zM600.06 458.85h1.1v1.1h-1.1zM605.25 464.21h1.1v1.1h-1.1zM613.28 461.13h1.1v1.1h-1.1zM607.31 454.83h1.1v1.1h-1.1zM602.06 465.95h1.1v1.1h-1.1zM595.01 459.05h1.1v1.1h-1.1zM600.32 458.18h1.1v1.1h-1.1zM614.54 456.6h1.1v1.1h-1.1zM611.45 453.08h1.1v1.1h-1.1zM600.2 455.58h1.1v1.1h-1.1zM602.55 458.06h1.1v1.1h-1.1zM606.3 454.75h1.1v1.1h-1.1zM597.56 451.81h1.1v1.1h-1.1zM597.38 460.83h1.1v1.1h-1.1zM613.98 449.29h1.1v1.1h-1.1zM602.35 449.86h1.1v1.1h-1.1zM594.4 449.81h1.1v1.1h-1.1zM598.35 465.6h1.1v1.1h-1.1zM611.88 463.43h1.1v1.1h-1.1zM611.64 466.08h1.1v1.1h-1.1zM596.49 460.07h1.1v1.1h-1.1zM595.54 458.12h1.1v1.1h-1.1zM601.85 453.53h1.1v1.1h-1.1zM605.39 449.64h1.1v1.1h-1.1zM613.85 463.27h1.1v1.1h-1.1zM615.63 450.84h1.1v1.1h-1.1zM607.13 457.16h1.1v1.1h-1.1zM597.6 460.69h1.1v1.1h-1.1zM598.81 462.84h1.1v1.1h-1.1zM608.31 460.63h1.1v1.1h-1.1zM597.38 486.46h1.1v1.1h-1.1zM606.11 535.09h1.1v1.1h-1.1zM609.02 493.02h1.1v1.1h-1.1zM577.53 519.98h1.1v1.1h-1.1zM586.89 503.19h1.1v1.1h-1.1zM590.62 485.36h1.1v1.1h-1.1zM505.47 513.74h1.1v1.1h-1.1zM595.08 542.25h1.1v1.1h-1.1zM577.48 489.24h1.1v1.1h-1.1zM589.63 510.91h1.1v1.1h-1.1zM554.81 496.11h1.1v1.1h-1.1zM594.67 536.55h1.1v1.1h-1.1zM559.67 517.86h1.1v1.1h-1.1zM571.25 517.87h1.1v1.1h-1.1zM515.15 520.66h1.1v1.1h-1.1zM616 507.45h1.1v1.1h-1.1zM613.85 470.22h1.1v1.1h-1.1zM524.33 488.38h1.1v1.1h-1.1zM486.23 450.45h1.1v1.1h-1.1zM577.35 532.58h1.1v1.1h-1.1zM560.95 494.28h1.1v1.1h-1.1zM583.18 514.88h1.1v1.1h-1.1zM618.19 481.51h1.1v1.1h-1.1zM495.59 461.87h1.1v1.1h-1.1zM614.5 513.38h1.1v1.1h-1.1zM589.14 457.72h1.1v1.1h-1.1zM614.11 536.81h1.1v1.1h-1.1zM607.51 518.99h1.1v1.1h-1.1zM602.39 475.1h1.1v1.1h-1.1zM553.15 453.55h1.1v1.1h-1.1zM602.6 444.29h1.1v1.1h-1.1zM625.36 486.45h1.1v1.1h-1.1zM592.58 476.72h1.1v1.1h-1.1zM543.57 493.91h1.1v1.1h-1.1zM559.32 522.25h1.1v1.1h-1.1zM523.18 459.29h1.1v1.1h-1.1zM608.86 474.02h1.1v1.1h-1.1zM585.79 492.78h1.1v1.1h-1.1zM568.89 477.12h1.1v1.1h-1.1zM486.02 499.43h1.1v1.1h-1.1zM626.97 523.25h1.1v1.1h-1.1zM553.41 536.09h1.1v1.1h-1.1zM522.3 461.34h1.1v1.1h-1.1zM489.75 463.87h1.1v1.1h-1.1zM601.82 456.93h1.1v1.1h-1.1zM522.61 450.58h1.1v1.1h-1.1zM539.39 498.76h1.1v1.1h-1.1zM624.19 489.33h1.1v1.1h-1.1zM584.67 532.8h1.1v1.1h-1.1zM485.65 517.36h1.1v1.1h-1.1zM500.43 461.35h1.1v1.1h-1.1zM521.52 447.97h1.1v1.1h-1.1zM584.3 524.65h1.1v1.1h-1.1zM589.04 512.01h1.1v1.1h-1.1zM562.13 536.25h1.1v1.1h-1.1zM606.92 465.03h1.1v1.1h-1.1zM570.02 474.7h1.1v1.1h-1.1zM534.73 531.06h1.1v1.1h-1.1zM532.57 469.77h1.1v1.1h-1.1zM567.42 530.37h1.1v1.1h-1.1zM520.21 496.29h1.1v1.1h-1.1zM487.06 539.37h1.1v1.1h-1.1zM550.83 530.45h1.1v1.1h-1.1zM615.13 530.96h1.1v1.1h-1.1zM594.69 464.29h1.1v1.1h-1.1zM531.15 489.58h1.1v1.1h-1.1zM630.25 482.06h1.1v1.1h-1.1zM541.65 446.14h1.1v1.1h-1.1zM522.98 448.2h1.1v1.1h-1.1zM530.34 501.65h1.1v1.1h-1.1zM501.27 514.54h1.1v1.1h-1.1zM530.56 512.87h1.1v1.1h-1.1zM494.36 499.33h1.1v1.1h-1.1zM522.31 521.09h1.1v1.1h-1.1zM528.87 539.03h1.1v1.1h-1.1zM515.86 508.52h1.1v1.1h-1.1zM525.09 513.6h1.1v1.1h-1.1zM488.18 522.34h1.1v1.1h-1.1zM498.84 516.52h1.1v1.1h-1.1zM505.47 523.36h1.1v1.1h-1.1zM512.75 517.4h1.1v1.1h-1.1zM530.97 531.17h1.1v1.1h-1.1zM499.16 535.56h1.1v1.1h-1.1zM490.77 505.67h1.1v1.1h-1.1zM532.48 538.19h1.1v1.1h-1.1zM503.57 503.2h1.1v1.1h-1.1zM529.61 499.87h1.1v1.1h-1.1zM536.25 530.2h1.1v1.1h-1.1zM488.39 532.63h1.1v1.1h-1.1zM510.92 543.16h1.1v1.1h-1.1z" fill="#0000ff" fill-opacity="0.78"/>
<text class="c" x="455.8" y="580.7" textLength="12.52" lengthAdjust="spacingAndGlyphs" font-weight="bold">(i)</text>
<text class="c" x="474.64" y="580.7" textLength="50.76" lengthAdjust="spacingAndGlyphs">Diagonal</text>
<text class="c" x="531.72" y="580.7" textLength="61.21" lengthAdjust="spacingAndGlyphs">correlation</text>
<text class="c" x="599.25" y="580.7" textLength="10.55" lengthAdjust="spacingAndGlyphs">of</text>
<text class="c" x="616.13" y="580.7" textLength="47.31" lengthAdjust="spacingAndGlyphs">multiple</text>
<text class="c" x="669.76" y="580.7" textLength="11.64" lengthAdjust="spacingAndGlyphs">S-</text>
<text class="c" x="456.4" y="595.55" textLength="20.74" lengthAdjust="spacingAndGlyphs">box</text>
<text class="c" x="481.51" y="595.55" textLength="64.19" lengthAdjust="spacingAndGlyphs">substituted</text>
<text class="c" x="550.07" y="595.55" textLength="33.48" lengthAdjust="spacingAndGlyphs">image</text>
<path d="M29.1 629V753.4H201.4" fill="none" stroke="#acacac" stroke-width="1"/>
<path d="M29.1 753.4v-1.9M57.82 753.4v-1.9M86.53 753.4v-1.9M115.25 753.4v-1.9M143.97 753.4v-1.9M172.68 753.4v-1.9M201.4 753.4v-1.9M29.1 753.4h1.9M29.1 732.75h1.9M29.1 712.1h1.9M29.1 691.45h1.9M29.1 670.8h1.9M29.1 650.15h1.9M29.1 629.5h1.9" stroke="#666" stroke-width="0.7"/>
<g transform="scale(1.08,1)" font-size="4.9" fill="#555555"><text x="26.94" y="760.7" text-anchor="middle">0</text><text x="53.53" y="760.7" text-anchor="middle">50</text><text x="80.12" y="760.7" text-anchor="middle">100</text><text x="106.71" y="760.7" text-anchor="middle">150</text><text x="133.3" y="760.7" text-anchor="middle">200</text><text x="159.89" y="760.7" text-anchor="middle">250</text><text x="186.48" y="760.7" text-anchor="middle">300</text><text x="24.72" y="755.6" text-anchor="end">0</text><text x="24.72" y="734.95" text-anchor="end">50</text><text x="24.72" y="714.3" text-anchor="end">100</text><text x="24.72" y="693.65" text-anchor="end">150</text><text x="24.72" y="673" text-anchor="end">200</text><text x="24.72" y="652.35" text-anchor="end">250</text><text x="24.72" y="631.7" text-anchor="end">300</text></g>
<text transform="translate(115.25,771.2) scale(1.05,1)" text-anchor="middle" font-weight="bold" font-size="8.45" fill="#353535">Pixel values at location (x,y)</text>
<text transform="translate(13.6,691.45) scale(1.08,0.98) rotate(-90)" text-anchor="middle" font-weight="bold" font-size="8.45" fill="#353535">Pixel values at location (x+1,y)</text>
<path d="M65.84 702.85h1.1v1.1h-1.1zM128.78 736.51h1.1v1.1h-1.1zM46.66 717.93h1.1v1.1h-1.1zM41.91 739.93h1.1v1.1h-1.1zM43.72 668.3h1.1v1.1h-1.1zM157.81 748.34h1.1v1.1h-1.1zM146.82 663.66h1.1v1.1h-1.1zM124.26 721.15h1.1v1.1h-1.1zM149.12 744.24h1.1v1.1h-1.1zM35.4 651.91h1.1v1.1h-1.1zM61.09 656.08h1.1v1.1h-1.1zM139.43 747.9h1.1v1.1h-1.1zM42.43 684.52h1.1v1.1h-1.1zM50.02 682.43h1.1v1.1h-1.1zM127.41 728.38h1.1v1.1h-1.1zM98.62 730.44h1.1v1.1h-1.1zM156.66 686.18h1.1v1.1h-1.1zM130.16 687.13h1.1v1.1h-1.1zM37.5 659.16h1.1v1.1h-1.1zM143.14 698.4h1.1v1.1h-1.1zM115.37 700.8h1.1v1.1h-1.1zM139.62 696.49h1.1v1.1h-1.1zM69.38 698.27h1.1v1.1h-1.1zM59.97 752.33h1.1v1.1h-1.1zM105.12 660.82h1.1v1.1h-1.1zM134.32 730.74h1.1v1.1h-1.1zM103.28 691.17h1.1v1.1h-1.1zM113.74 704.21h1.1v1.1h-1.1zM103.45 680.08h1.1v1.1h-1.1zM158.11 698.33h1.1v1.1h-1.1zM143.84 680.95h1.1v1.1h-1.1zM46.13 725.46h1.1v1.1h-1.1zM74.66 715.41h1.1v1.1h-1.1zM100.76 721.71h1.1v1.1h-1.1zM175.26 675.24h1.1v1.1h-1.1zM83.13 678.84h1.1v1.1h-1.1zM164.49 735.97h1.1v1.1h-1.1zM121.06 651.48h1.1v1.1h-1.1zM83.74 660.08h1.1v1.1h-1.1zM146.72 719.02h1.1v1.1h-1.1zM49.78 667.59h1.1v1.1h-1.1zM89.64 715.82h1.1v1.1h-1.1zM96.74 675.86h1.1v1.1h-1.1zM160.02 655.94h1.1v1.1h-1.1zM141.23 734.26h1.1v1.1h-1.1zM82.84 752.12h1.1v1.1h-1.1zM58.05 716.88h1.1v1.1h-1.1zM54.61 702.5h1.1v1.1h-1.1zM47.93 683.81h1.1v1.1h-1.1zM88.99 726.74h1.1v1.1h-1.1zM129.39 718.16h1.1v1.1h-1.1zM32.06 664.21h1.1v1.1h-1.1zM139.42 659.99h1.1v1.1h-1.1zM71.75 724.95h1.1v1.1h-1.1zM130.94 737.37h1.1v1.1h-1.1zM170.67 683.78h1.1v1.1h-1.1zM109.18 747.4h1.1v1.1h-1.1zM70.2 708.09h1.1v1.1h-1.1zM172.74 737.54h1.1v1.1h-1.1zM115.56 744.62h1.1v1.1h-1.1zM171.35 673.85h1.1v1.1h-1.1zM148 673.64h1.1v1.1h-1.1zM54.97 727.34h1.1v1.1h-1.1zM34.33 694.55h1.1v1.1h-1.1zM40.48 732.94h1.1v1.1h-1.1zM54.15 655.57h1.1v1.1h-1.1zM144.65 722.64h1.1v1.1h-1.1zM171.3 735.99h1.1v1.1h-1.1zM49.21 712.54h1.1v1.1h-1.1zM146.99 742.42h1.1v1.1h-1.1zM144.53 695.33h1.1v1.1h-1.1zM145.94 717.27h1.1v1.1h-1.1zM34.74 742.39h1.1v1.1h-1.1zM134.88 699.24h1.1v1.1h-1.1zM140.85 731.83h1.1v1.1h-1.1zM69.61 730.49h1.1v1.1h-1.1zM153.64 678.51h1.1v1.1h-1.1zM51.32 676.13h1.1v1.1h-1.1zM34.25 703.53h1.1v1.1h-1.1zM66.36 672.01h1.1v1.1h-1.1zM134.22 680.55h1.1v1.1h-1.1zM57.56 748.32h1.1v1.1h-1.1zM122.66 679.41h1.1v1.1h-1.1zM29.91 664.2h1.1v1.1h-1.1zM160.49 714.65h1.1v1.1h-1.1zM104.86 684.02h1.1v1.1h-1.1zM164.66 684.17h1.1v1.1h-1.1zM104.37 671.56h1.1v1.1h-1.1zM100.58 749.38h1.1v1.1h-1.1zM109.02 709.09h1.1v1.1h-1.1zM77.83 711.18h1.1v1.1h-1.1zM61.07 719.87h1.1v1.1h-1.1zM138.39 659.23h1.1v1.1h-1.1zM95.66 663.45h1.1v1.1h-1.1zM47 698.32h1.1v1.1h-1.1zM138.01 670.27h1.1v1.1h-1.1zM85.49 735.09h1.1v1.1h-1.1zM169.81 688.43h1.1v1.1h-1.1zM124.58 716.27h1.1v1.1h-1.1zM45.18 692.54h1.1v1.1h-1.1zM88.05 658.74h1.1v1.1h-1.1zM126.07 672.96h1.1v1.1h-1.1zM112.32 673.25h1.1v1.1h-1.1zM48.24 647.52h1.1v1.1h-1.1zM113.94 689.68h1.1v1.1h-1.1zM56.44 743.22h1.1v1.1h-1.1zM132.25 676.06h1.1v1.1h-1.1zM126.57 725.92h1.1v1.1h-1.1zM100.13 671.64h1.1v1.1h-1.1zM122.74 656.68h1.1v1.1h-1.1zM41.68 670.92h1.1v1.1h-1.1zM30.5 686.76h1.1v1.1h-1.1zM107.09 745.02h1.1v1.1h-1.1zM90.15 682.22h1.1v1.1h-1.1zM156.08 744.69h1.1v1.1h-1.1zM103.48 668.77h1.1v1.1h-1.1zM45.73 658.48h1.1v1.1h-1.1zM166.59 716.64h1.1v1.1h-1.1zM59.26 737.47h1.1v1.1h-1.1zM60.83 708.56h1.1v1.1h-1.1zM132.51 653.8h1.1v1.1h-1.1zM110.67 652.07h1.1v1.1h-1.1zM91.31 683.33h1.1v1.1h-1.1zM28.57 708.59h1.1v1.1h-1.1zM31.9 738.88h1.1v1.1h-1.1zM147.46 740.75h1.1v1.1h-1.1zM72.62 697.24h1.1v1.1h-1.1zM105.78 749.63h1.1v1.1h-1.1zM44.79 681.31h1.1v1.1h-1.1zM88.06 743.1h1.1v1.1h-1.1zM98.92 713.47h1.1v1.1h-1.1zM175.51 747.78h1.1v1.1h-1.1zM55.05 744.95h1.1v1.1h-1.1zM109.6 651.29h1.1v1.1h-1.1zM142.89 741h1.1v1.1h-1.1zM107.88 715h1.1v1.1h-1.1zM172.24 678.1h1.1v1.1h-1.1zM117.38 725.72h1.1v1.1h-1.1zM92.75 697.17h1.1v1.1h-1.1zM84.22 693.2h1.1v1.1h-1.1zM41.79 708.37h1.1v1.1h-1.1zM173.65 710.65h1.1v1.1h-1.1zM102.94 673.18h1.1v1.1h-1.1zM147.99 674.99h1.1v1.1h-1.1zM84.6 677.6h1.1v1.1h-1.1zM57.9 687.61h1.1v1.1h-1.1zM30.9 732.49h1.1v1.1h-1.1zM54.29 715.62h1.1v1.1h-1.1zM137.07 750.65h1.1v1.1h-1.1zM157.39 743.15h1.1v1.1h-1.1zM168.29 652.51h1.1v1.1h-1.1zM118.9 663.99h1.1v1.1h-1.1zM166.89 705.5h1.1v1.1h-1.1zM154.39 749.17h1.1v1.1h-1.1zM143.36 684.32h1.1v1.1h-1.1zM142.72 737.07h1.1v1.1h-1.1zM40.8 697.54h1.1v1.1h-1.1zM117.71 680.18h1.1v1.1h-1.1zM54.88 692.81h1.1v1.1h-1.1zM170.99 726.1h1.1v1.1h-1.1zM149.08 651.27h1.1v1.1h-1.1zM127.47 706.3h1.1v1.1h-1.1zM90.05 703.42h1.1v1.1h-1.1zM46.89 744.96h1.1v1.1h-1.1zM69.68 734.5h1.1v1.1h-1.1zM160.8 714.56h1.1v1.1h-1.1zM157.27 693.32h1.1v1.1h-1.1zM160.58 658.05h1.1v1.1h-1.1zM133.12 705.44h1.1v1.1h-1.1zM64.39 693.2h1.1v1.1h-1.1zM74.38 665.26h1.1v1.1h-1.1zM34.83 685.53h1.1v1.1h-1.1zM78.4 708.43h1.1v1.1h-1.1zM108.29 648.98h1.1v1.1h-1.1zM174.62 715.08h1.1v1.1h-1.1zM169.31 651.8h1.1v1.1h-1.1zM105.9 693.26h1.1v1.1h-1.1zM57.59 669.41h1.1v1.1h-1.1zM99.92 672.28h1.1v1.1h-1.1zM164.09 686.92h1.1v1.1h-1.1zM130.74 694.82h1.1v1.1h-1.1zM47.82 704.31h1.1v1.1h-1.1zM37.73 733.75h1.1v1.1h-1.1zM172.72 712.65h1.1v1.1h-1.1zM48.42 706.85h1.1v1.1h-1.1zM37.37 688.67h1.1v1.1h-1.1zM62.12 729.86h1.1v1.1h-1.1zM122.2 655.01h1.1v1.1h-1.1zM30.55 677.25h1.1v1.1h-1.1zM114.13 701.37h1.1v1.1h-1.1zM90.5 751.67h1.1v1.1h-1.1zM80.27 697.52h1.1v1.1h-1.1zM77.87 647.75h1.1v1.1h-1.1zM78.56 663.44h1.1v1.1h-1.1zM147.73 668.85h1.1v1.1h-1.1zM100.88 700.05h1.1v1.1h-1.1zM152.58 740.42h1.1v1.1h-1.1zM61.6 751.48h1.1v1.1h-1.1zM100.8 704.92h1.1v1.1h-1.1zM169.07 654.44h1.1v1.1h-1.1zM88.23 700.41h1.1v1.1h-1.1zM43.99 673.23h1.1v1.1h-1.1zM104.87 735.11h1.1v1.1h-1.1zM157.48 748.35h1.1v1.1h-1.1zM56.86 702.39h1.1v1.1h-1.1zM175.14 738.19h1.1v1.1h-1.1zM67.74 669.21h1.1v1.1h-1.1zM77.98 654.62h1.1v1.1h-1.1zM31.32 727.69h1.1v1.1h-1.1zM74.1 663.18h1.1v1.1h-1.1zM43.58 681.6h1.1v1.1h-1.1zM158.93 649.84h1.1v1.1h-1.1zM147.06 747.5h1.1v1.1h-1.1zM99.58 729.78h1.1v1.1h-1.1zM46.48 727.15h1.1v1.1h-1.1zM136.63 692.05h1.1v1.1h-1.1zM47.73 722.65h1.1v1.1h-1.1zM38.25 654.93h1.1v1.1h-1.1zM139.43 702.91h1.1v1.1h-1.1zM169.89 649.44h1.1v1.1h-1.1zM58.94 725.96h1.1v1.1h-1.1zM56.68 686.43h1.1v1.1h-1.1zM116.03 698.05h1.1v1.1h-1.1zM142.35 696.86h1.1v1.1h-1.1zM74.82 682.16h1.1v1.1h-1.1zM168.1 747.58h1.1v1.1h-1.1zM100.03 738.09h1.1v1.1h-1.1zM138.4 707.23h1.1v1.1h-1.1zM151.89 682.06h1.1v1.1h-1.1zM169.58 691.57h1.1v1.1h-1.1zM116.13 649.83h1.1v1.1h-1.1zM146.63 717.12h1.1v1.1h-1.1zM43.76 655.42h1.1v1.1h-1.1zM37.92 655.23h1.1v1.1h-1.1zM165.78 682.91h1.1v1.1h-1.1zM168.06 688.65h1.1v1.1h-1.1zM138.21 689.84h1.1v1.1h-1.1zM61.25 744.52h1.1v1.1h-1.1zM137.8 705.12h1.1v1.1h-1.1zM46.88 693.74h1.1v1.1h-1.1zM67.51 725.11h1.1v1.1h-1.1zM157.37 687.48h1.1v1.1h-1.1zM138.55 666.48h1.1v1.1h-1.1zM92.76 705.14h1.1v1.1h-1.1zM92.08 715.06h1.1v1.1h-1.1zM143.03 659.34h1.1v1.1h-1.1zM72.37 677.64h1.1v1.1h-1.1zM60.21 752.02h1.1v1.1h-1.1zM129.29 670.77h1.1v1.1h-1.1zM77.04 647.65h1.1v1.1h-1.1zM134.27 718.91h1.1v1.1h-1.1zM140.32 663.64h1.1v1.1h-1.1zM49.17 656.45h1.1v1.1h-1.1zM92.42 723.85h1.1v1.1h-1.1zM84.09 696.97h1.1v1.1h-1.1zM106.07 721.73h1.1v1.1h-1.1zM37.39 686.15h1.1v1.1h-1.1zM134.06 679.34h1.1v1.1h-1.1zM86.85 662.16h1.1v1.1h-1.1zM31.09 739.18h1.1v1.1h-1.1zM31.24 694.23h1.1v1.1h-1.1zM105.46 728.79h1.1v1.1h-1.1zM105.82 752.47h1.1v1.1h-1.1zM33.87 651.1h1.1v1.1h-1.1zM158.77 745.51h1.1v1.1h-1.1zM124.97 699.12h1.1v1.1h-1.1zM107.71 663.98h1.1v1.1h-1.1zM122.83 653.37h1.1v1.1h-1.1zM128.78 656.09h1.1v1.1h-1.1zM45.67 665.91h1.1v1.1h-1.1zM75.54 655.5h1.1v1.1h-1.1zM144.92 650.68h1.1v1.1h-1.1zM139.6 711.53h1.1v1.1h-1.1zM105.56 670.11h1.1v1.1h-1.1zM37.07 695.84h1.1v1.1h-1.1zM112.08 676.94h1.1v1.1h-1.1zM78.85 688.76h1.1v1.1h-1.1zM136.77 712.5h1.1v1.1h-1.1zM128.77 657.33h1.1v1.1h-1.1zM82.86 697.22h1.1v1.1h-1.1zM99.7 664.19h1.1v1.1h-1.1zM68.24 722.6h1.1v1.1h-1.1zM86.26 683.88h1.1v1.1h-1.1zM51.26 649.4h1.1v1.1h-1.1zM102.51 675.62h1.1v1.1h-1.1zM89.18 749.97h1.1v1.1h-1.1zM85.24 692.43h1.1v1.1h-1.1zM41.84 649.23h1.1v1.1h-1.1zM114.87 704.31h1.1v1.1h-1.1zM32.78 726.79h1.1v1.1h-1.1zM78.14 684.17h1.1v1.1h-1.1zM54.15 701.57h1.1v1.1h-1.1zM68.35 693.14h1.1v1.1h-1.1zM129.72 698.1h1.1v1.1h-1.1zM138.85 687.01h1.1v1.1h-1.1zM40.84 683.42h1.1v1.1h-1.1zM99.69 672.59h1.1v1.1h-1.1zM166.33 715.68h1.1v1.1h-1.1zM153.53 728.54h1.1v1.1h-1.1zM124.13 752.27h1.1v1.1h-1.1zM149.84 705.69h1.1v1.1h-1.1zM95.4 700.24h1.1v1.1h-1.1zM83.3 728.53h1.1v1.1h-1.1zM130.33 686.55h1.1v1.1h-1.1zM36.56 724.25h1.1v1.1h-1.1zM165.53 722.94h1.1v1.1h-1.1zM71.7 691.73h1.1v1.1h-1.1zM83.35 652.66h1.1v1.1h-1.1zM173.03 739.2h1.1v1.1h-1.1zM61.62 734.77h1.1v1.1h-1.1zM93.94 722.83h1.1v1.1h-1.1zM127.7 659.22h1.1v1.1h-1.1zM39.05 750.08h1.1v1.1h-1.1zM45.03 720.08h1.1v1.1h-1.1zM48.23 707.2h1.1v1.1h-1.1zM82 675.95h1.1v1.1h-1.1zM170.73 649.5h1.1v1.1h-1.1zM90.38 684.85h1.1v1.1h-1.1zM47.99 688.3h1.1v1.1h-1.1zM158.46 659.27h1.1v1.1h-1.1zM49.15 735.29h1.1v1.1h-1.1zM161.15 679.12h1.1v1.1h-1.1zM140.65 745.73h1.1v1.1h-1.1zM119.49 750.43h1.1v1.1h-1.1zM136.88 668.83h1.1v1.1h-1.1zM75.89 752.55h1.1v1.1h-1.1zM136.31 647.3h1.1v1.1h-1.1zM119.79 714.15h1.1v1.1h-1.1zM76.92 667.01h1.1v1.1h-1.1zM170.97 714.26h1.1v1.1h-1.1zM61.04 647.5h1.1v1.1h-1.1zM91.42 706.08h1.1v1.1h-1.1zM74.25 676.22h1.1v1.1h-1.1zM173.01 703.24h1.1v1.1h-1.1zM154.26 710.51h1.1v1.1h-1.1zM90.61 668.04h1.1v1.1h-1.1zM171.3 673.01h1.1v1.1h-1.1zM132.17 665.39h1.1v1.1h-1.1zM163.69 652.05h1.1v1.1h-1.1zM106.71 711.85h1.1v1.1h-1.1zM29.58 697.14h1.1v1.1h-1.1zM80.79 752.81h1.1v1.1h-1.1zM174.57 720.34h1.1v1.1h-1.1zM165.58 751.19h1.1v1.1h-1.1zM81.46 669.99h1.1v1.1h-1.1zM127.52 681.71h1.1v1.1h-1.1zM100.33 743.19h1.1v1.1h-1.1zM150.78 672.37h1.1v1.1h-1.1zM98.8 693.43h1.1v1.1h-1.1zM146.74 700.58h1.1v1.1h-1.1zM98.47 701.62h1.1v1.1h-1.1zM136.78 675.08h1.1v1.1h-1.1zM77.78 670.77h1.1v1.1h-1.1zM83.77 681.62h1.1v1.1h-1.1zM84.04 657.78h1.1v1.1h-1.1zM166.78 670.63h1.1v1.1h-1.1zM84.6 715.71h1.1v1.1h-1.1zM92.27 688.92h1.1v1.1h-1.1zM33.51 695.19h1.1v1.1h-1.1zM165.06 746.07h1.1v1.1h-1.1zM159.59 692.35h1.1v1.1h-1.1zM175.23 676.41h1.1v1.1h-1.1zM134.24 673.24h1.1v1.1h-1.1zM90.47 740.38h1.1v1.1h-1.1zM154.22 660.1h1.1v1.1h-1.1zM134.6 729.84h1.1v1.1h-1.1zM101.98 698.45h1.1v1.1h-1.1zM82.07 701.1h1.1v1.1h-1.1zM95.82 649.18h1.1v1.1h-1.1zM120.73 649.62h1.1v1.1h-1.1zM162.11 734.09h1.1v1.1h-1.1zM141.95 712.55h1.1v1.1h-1.1zM116.38 693.32h1.1v1.1h-1.1zM137.31 721.05h1.1v1.1h-1.1zM128.22 713.77h1.1v1.1h-1.1zM143.59 700.66h1.1v1.1h-1.1zM123.14 647.49h1.1v1.1h-1.1zM69.76 752.34h1.1v1.1h-1.1zM160.23 697.36h1.1v1.1h-1.1zM123.55 665.04h1.1v1.1h-1.1zM159.47 712.05h1.1v1.1h-1.1zM173.71 711.57h1.1v1.1h-1.1zM135.4 664.9h1.1v1.1h-1.1zM81.89 708.46h1.1v1.1h-1.1zM82.44 716.68h1.1v1.1h-1.1zM89.12 663.21h1.1v1.1h-1.1zM37.46 648.25h1.1v1.1h-1.1zM144.79 693.7h1.1v1.1h-1.1zM122.98 721.17h1.1v1.1h-1.1zM140.97 660.44h1.1v1.1h-1.1zM84.7 700.07h1.1v1.1h-1.1zM60.73 726.34h1.1v1.1h-1.1zM153.83 684.95h1.1v1.1h-1.1zM94.29 685.16h1.1v1.1h-1.1zM55.78 752.46h1.1v1.1h-1.1zM81.07 692.03h1.1v1.1h-1.1zM55.7 695.57h1.1v1.1h-1.1zM76.35 725.09h1.1v1.1h-1.1zM137.36 714.7h1.1v1.1h-1.1zM137.69 673.61h1.1v1.1h-1.1zM83.77 749.5h1.1v1.1h-1.1zM152.47 694.54h1.1v1.1h-1.1zM113.83 680.38h1.1v1.1h-1.1zM109.22 656.95h1.1v1.1h-1.1zM29.84 650.45h1.1v1.1h-1.1zM119.17 709.78h1.1v1.1h-1.1zM161.95 658.18h1.1v1.1h-1.1zM116.24 751.83h1.1v1.1h-1.1zM120.22 709.27h1.1v1.1h-1.1zM112.92 665.06h1.1v1.1h-1.1zM47.93 663.57h1.1v1.1h-1.1zM74.21 726.28h1.1v1.1h-1.1zM34.04 741.58h1.1v1.1h-1.1zM67.92 696.92h1.1v1.1h-1.1zM166.73 734.67h1.1v1.1h-1.1zM71.05 713.41h1.1v1.1h-1.1zM122.65 715.44h1.1v1.1h-1.1zM127.04 736.96h1.1v1.1h-1.1zM34.99 691.56h1.1v1.1h-1.1zM134.97 738.7h1.1v1.1h-1.1zM35.62 682.14h1.1v1.1h-1.1zM38.18 654.98h1.1v1.1h-1.1zM130.09 735.89h1.1v1.1h-1.1zM88.76 746.96h1.1v1.1h-1.1zM41.45 715.65h1.1v1.1h-1.1zM157.58 656.68h1.1v1.1h-1.1zM139.29 685.45h1.1v1.1h-1.1zM114.44 698.84h1.1v1.1h-1.1zM124.99 700.34h1.1v1.1h-1.1zM87.02 664.38h1.1v1.1h-1.1zM72.81 709.95h1.1v1.1h-1.1zM128.42 650.93h1.1v1.1h-1.1zM79.22 707.05h1.1v1.1h-1.1zM87.66 730.64h1.1v1.1h-1.1zM80.71 669.37h1.1v1.1h-1.1zM56.17 702.36h1.1v1.1h-1.1zM70.31 691.72h1.1v1.1h-1.1zM142.24 740.63h1.1v1.1h-1.1zM100.07 733.02h1.1v1.1h-1.1zM123.6 681.19h1.1v1.1h-1.1zM61.08 728.47h1.1v1.1h-1.1zM73.11 718.14h1.1v1.1h-1.1zM159.8 660.44h1.1v1.1h-1.1zM144.91 711.2h1.1v1.1h-1.1zM95.77 731.58h1.1v1.1h-1.1zM96.22 652.32h1.1v1.1h-1.1zM41.97 711.16h1.1v1.1h-1.1zM57.28 663.51h1.1v1.1h-1.1zM72.87 701.32h1.1v1.1h-1.1zM36.2 679.83h1.1v1.1h-1.1zM104.12 668.17h1.1v1.1h-1.1zM134.63 674.17h1.1v1.1h-1.1zM67.18 726.32h1.1v1.1h-1.1zM116.44 747.64h1.1v1.1h-1.1zM166.3 676.67h1.1v1.1h-1.1zM101.1 714.65h1.1v1.1h-1.1zM39.93 694.23h1.1v1.1h-1.1zM142.21 740.42h1.1v1.1h-1.1zM43.12 680.36h1.1v1.1h-1.1zM97.64 669.16h1.1v1.1h-1.1zM89.05 649h1.1v1.1h-1.1zM156.85 718.87h1.1v1.1h-1.1zM107.43 690.8h1.1v1.1h-1.1zM94.78 666.38h1.1v1.1h-1.1zM132.24 666.31h1.1v1.1h-1.1zM65.73 699.47h1.1v1.1h-1.1zM108.46 691.16h1.1v1.1h-1.1zM30.91 666.97h1.1v1.1h-1.1zM94.43 736.04h1.1v1.1h-1.1zM154.25 694.02h1.1v1.1h-1.1zM137.41 674.62h1.1v1.1h-1.1zM120.11 656.2h1.1v1.1h-1.1zM36.77 717.62h1.1v1.1h-1.1zM52.63 685.59h1.1v1.1h-1.1zM60.82 749.86h1.1v1.1h-1.1zM48.59 734.41h1.1v1.1h-1.1zM107.98 704.71h1.1v1.1h-1.1zM96.85 751.56h1.1v1.1h-1.1zM106.22 726.05h1.1v1.1h-1.1zM41.99 746.86h1.1v1.1h-1.1zM50.74 710.47h1.1v1.1h-1.1zM53.06 703.84h1.1v1.1h-1.1zM52.61 675.14h1.1v1.1h-1.1zM157.33 718.63h1.1v1.1h-1.1zM39.11 650.8h1.1v1.1h-1.1zM40.92 684.13h1.1v1.1h-1.1zM139.79 701.79h1.1v1.1h-1.1zM159.57 737.28h1.1v1.1h-1.1zM134.48 656.95h1.1v1.1h-1.1zM160.45 663.08h1.1v1.1h-1.1zM92.72 698.74h1.1v1.1h-1.1zM153.33 712.7h1.1v1.1h-1.1zM66.08 749.53h1.1v1.1h-1.1zM58.57 737.99h1.1v1.1h-1.1zM165.19 720.17h1.1v1.1h-1.1zM80.37 649.81h1.1v1.1h-1.1zM130.14 706.97h1.1v1.1h-1.1zM44.05 714.23h1.1v1.1h-1.1zM71.33 652.56h1.1v1.1h-1.1zM90.41 650h1.1v1.1h-1.1zM68.26 747.84h1.1v1.1h-1.1zM160.77 744.91h1.1v1.1h-1.1zM144.42 689.9h1.1v1.1h-1.1zM70.29 664.66h1.1v1.1h-1.1zM91.65 648.86h1.1v1.1h-1.1zM110.6 653.07h1.1v1.1h-1.1zM165.37 713.08h1.1v1.1h-1.1zM130.2 675.88h1.1v1.1h-1.1zM124.87 750.4h1.1v1.1h-1.1zM129.72 672.31h1.1v1.1h-1.1zM57.02 742.78h1.1v1.1h-1.1zM38.47 695.32h1.1v1.1h-1.1zM44.16 663.21h1.1v1.1h-1.1zM89.61 647.6h1.1v1.1h-1.1zM136.47 707.57h1.1v1.1h-1.1zM55.4 707.75h1.1v1.1h-1.1zM117.81 661.78h1.1v1.1h-1.1zM159.69 718.53h1.1v1.1h-1.1zM31.99 682.57h1.1v1.1h-1.1zM129.62 684.41h1.1v1.1h-1.1zM146.64 666.99h1.1v1.1h-1.1zM120.51 665.99h1.1v1.1h-1.1zM46.94 652.83h1.1v1.1h-1.1zM126.53 742.86h1.1v1.1h-1.1zM53.32 685.04h1.1v1.1h-1.1zM73.55 653.77h1.1v1.1h-1.1zM69.56 701.47h1.1v1.1h-1.1zM102.59 653.46h1.1v1.1h-1.1zM73.23 658.53h1.1v1.1h-1.1zM134.9 692.68h1.1v1.1h-1.1zM167.66 659.43h1.1v1.1h-1.1zM138.74 695.17h1.1v1.1h-1.1zM35 729.53h1.1v1.1h-1.1zM124.23 740.49h1.1v1.1h-1.1zM123.12 716.16h1.1v1.1h-1.1zM85.51 665.86h1.1v1.1h-1.1zM152.16 673.81h1.1v1.1h-1.1zM94.22 696.17h1.1v1.1h-1.1zM173.46 654.95h1.1v1.1h-1.1zM117.89 744.51h1.1v1.1h-1.1zM161.12 748.02h1.1v1.1h-1.1zM45.78 683.18h1.1v1.1h-1.1zM57.42 673.18h1.1v1.1h-1.1zM129.49 735.38h1.1v1.1h-1.1zM162.11 647.31h1.1v1.1h-1.1zM125.13 649.01h1.1v1.1h-1.1zM146.35 702.83h1.1v1.1h-1.1zM149.77 653.64h1.1v1.1h-1.1zM130.89 744h1.1v1.1h-1.1zM83.31 678.42h1.1v1.1h-1.1zM82.35 735.24h1.1v1.1h-1.1zM95.63 737.94h1.1v1.1h-1.1zM98.3 742.38h1.1v1.1h-1.1zM135.39 730.33h1.1v1.1h-1.1zM166.14 741.52h1.1v1.1h-1.1zM121.36 684.82h1.1v1.1h-1.1zM57.79 686.54h1.1v1.1h-1.1zM109.3 687.75h1.1v1.1h-1.1zM55.76 702.44h1.1v1.1h-1.1zM151.46 687.49h1.1v1.1h-1.1zM64.38 717.52h1.1v1.1h-1.1zM157.82 747.24h1.1v1.1h-1.1zM98.84 698.58h1.1v1.1h-1.1zM91.79 752.57h1.1v1.1h-1.1zM44.19 663.82h1.1v1.1h-1.1zM95.46 722.01h1.1v1.1h-1.1zM94.94 747.31h1.1v1.1h-1.1zM40.5 665.23h1.1v1.1h-1.1zM140.24 732.02h1.1v1.1h-1.1zM75.23 744.74h1.1v1.1h-1.1zM75.29 697.76h1.1v1.1h-1.1zM139.22 699.36h1.1v1.1h-1.1zM153.19 647.31h1.1v1.1h-1.1zM111.97 748.26h1.1v1.1h-1.1zM48.31 681.74h1.1v1.1h-1.1zM47.71 657.78h1.1v1.1h-1.1zM36.53 746.99h1.1v1.1h-1.1zM174.96 709.85h1.1v1.1h-1.1zM110.17 689.82h1.1v1.1h-1.1zM45.97 717.37h1.1v1.1h-1.1zM82.78 674.84h1.1v1.1h-1.1zM143.57 679.4h1.1v1.1h-1.1zM55.13 704.06h1.1v1.1h-1.1zM163.19 734.4h1.1v1.1h-1.1zM79.85 687.74h1.1v1.1h-1.1zM174.88 750.17h1.1v1.1h-1.1zM130.17 704.08h1.1v1.1h-1.1zM106.32 663.99h1.1v1.1h-1.1zM42.64 689.6h1.1v1.1h-1.1zM75.15 672.98h1.1v1.1h-1.1zM133.6 708.89h1.1v1.1h-1.1zM50.9 672h1.1v1.1h-1.1zM131.59 693.26h1.1v1.1h-1.1zM138.2 652.52h1.1v1.1h-1.1zM64.5 679.94h1.1v1.1h-1.1zM147.17 724.74h1.1v1.1h-1.1zM161.33 719.69h1.1v1.1h-1.1zM169.12 691.28h1.1v1.1h-1.1zM171.58 659.35h1.1v1.1h-1.1zM143.52 713.67h1.1v1.1h-1.1zM95.92 690.77h1.1v1.1h-1.1zM146.92 708.83h1.1v1.1h-1.1zM160.72 729.93h1.1v1.1h-1.1zM105.13 737.51h1.1v1.1h-1.1zM53.67 722.1h1.1v1.1h-1.1zM35.54 692.61h1.1v1.1h-1.1zM119.74 711.01h1.1v1.1h-1.1zM145.83 695.14h1.1v1.1h-1.1zM129.02 743.83h1.1v1.1h-1.1zM77.03 750.61h1.1v1.1h-1.1zM52.06 663h1.1v1.1h-1.1zM48.47 689.83h1.1v1.1h-1.1zM84.06 681.74h1.1v1.1h-1.1zM156.69 665.14h1.1v1.1h-1.1zM170.42 650.73h1.1v1.1h-1.1zM87.15 648.39h1.1v1.1h-1.1zM140.68 723.46h1.1v1.1h-1.1zM76.82 697.49h1.1v1.1h-1.1zM152.85 742.37h1.1v1.1h-1.1zM159.58 681.97h1.1v1.1h-1.1zM115.74 709.82h1.1v1.1h-1.1zM84.65 709.94h1.1v1.1h-1.1zM133.78 706.04h1.1v1.1h-1.1zM133.49 660.21h1.1v1.1h-1.1zM41.33 750.86h1.1v1.1h-1.1zM166.94 732.41h1.1v1.1h-1.1zM148.25 710.05h1.1v1.1h-1.1zM61.6 751.55h1.1v1.1h-1.1zM91.57 689.43h1.1v1.1h-1.1zM36.55 751.64h1.1v1.1h-1.1zM70.8 659.7h1.1v1.1h-1.1zM138.82 725.73h1.1v1.1h-1.1zM87.86 708.81h1.1v1.1h-1.1zM132.73 722.73h1.1v1.1h-1.1zM80.76 699.59h1.1v1.1h-1.1zM63.41 707.47h1.1v1.1h-1.1zM138.49 699.5h1.1v1.1h-1.1zM36.77 715.95h1.1v1.1h-1.1zM112.39 728.35h1.1v1.1h-1.1zM85.55 693.69h1.1v1.1h-1.1zM82.13 733.52h1.1v1.1h-1.1zM157.19 745.92h1.1v1.1h-1.1zM161.8 742.81h1.1v1.1h-1.1zM110 695.22h1.1v1.1h-1.1zM88.76 686.67h1.1v1.1h-1.1zM158.43 719.12h1.1v1.1h-1.1zM37.38 731.72h1.1v1.1h-1.1zM157.7 689.54h1.1v1.1h-1.1zM139.42 711.68h1.1v1.1h-1.1zM76.16 679.89h1.1v1.1h-1.1zM112.06 656.29h1.1v1.1h-1.1zM52.17 716.56h1.1v1.1h-1.1zM130.18 656.97h1.1v1.1h-1.1zM97.16 669.58h1.1v1.1h-1.1zM44.65 685.22h1.1v1.1h-1.1zM76.95 679.54h1.1v1.1h-1.1zM72.27 733.09h1.1v1.1h-1.1zM68.12 676.35h1.1v1.1h-1.1zM133.28 656.34h1.1v1.1h-1.1zM89.39 745.93h1.1v1.1h-1.1zM147.45 725.74h1.1v1.1h-1.1zM134.11 701.15h1.1v1.1h-1.1zM93.85 749.6h1.1v1.1h-1.1zM61.9 673.75h1.1v1.1h-1.1zM96.15 659.63h1.1v1.1h-1.1zM147.19 696.41h1.1v1.1h-1.1zM173.08 752.59h1.1v1.1h-1.1zM87.49 696.43h1.1v1.1h-1.1zM36.47 660.75h1.1v1.1h-1.1zM50.57 691.49h1.1v1.1h-1.1zM68.41 712.49h1.1v1.1h-1.1zM96.98 722.24h1.1v1.1h-1.1zM53.73 682.31h1.1v1.1h-1.1zM120.63 744.32h1.1v1.1h-1.1zM171.62 741.61h1.1v1.1h-1.1zM61.35 723.1h1.1v1.1h-1.1zM82.14 701.01h1.1v1.1h-1.1zM161.33 742.16h1.1v1.1h-1.1zM112.97 686.85h1.1v1.1h-1.1zM66.42 715.29h1.1v1.1h-1.1zM93.96 659.06h1.1v1.1h-1.1zM142.77 702.12h1.1v1.1h-1.1zM38.69 715.02h1.1v1.1h-1.1zM148.63 706.93h1.1v1.1h-1.1zM86 685.31h1.1v1.1h-1.1zM34.5 684.33h1.1v1.1h-1.1zM129.35 740.93h1.1v1.1h-1.1zM89.89 662.35h1.1v1.1h-1.1zM67.12 696.8h1.1v1.1h-1.1zM79.38 694.42h1.1v1.1h-1.1zM86.03 716.46h1.1v1.1h-1.1zM164.5 679.61h1.1v1.1h-1.1zM175.39 717.46h1.1v1.1h-1.1zM97.15 714.2h1.1v1.1h-1.1zM156.01 714.03h1.1v1.1h-1.1zM128.54 734.15h1.1v1.1h-1.1zM108.29 724.34h1.1v1.1h-1.1zM162.89 714.1h1.1v1.1h-1.1zM168.64 692.93h1.1v1.1h-1.1zM78.7 694.59h1.1v1.1h-1.1zM165.42 679.53h1.1v1.1h-1.1zM149.74 692.96h1.1v1.1h-1.1zM119.47 738.05h1.1v1.1h-1.1zM150.85 685.16h1.1v1.1h-1.1zM123.88 720.72h1.1v1.1h-1.1zM140.74 697.11h1.1v1.1h-1.1zM75.66 647.99h1.1v1.1h-1.1zM142.11 681.08h1.1v1.1h-1.1zM152.03 679.25h1.1v1.1h-1.1zM85.11 651.84h1.1v1.1h-1.1zM161.73 681.87h1.1v1.1h-1.1zM92.48 699.92h1.1v1.1h-1.1zM35.27 658.85h1.1v1.1h-1.1zM150.7 689.98h1.1v1.1h-1.1zM97.06 667.88h1.1v1.1h-1.1zM31.68 710.53h1.1v1.1h-1.1zM65.4 688.57h1.1v1.1h-1.1zM80.62 688.66h1.1v1.1h-1.1zM160.5 709.43h1.1v1.1h-1.1zM45.45 751.47h1.1v1.1h-1.1zM151.38 703.32h1.1v1.1h-1.1zM93.45 749.68h1.1v1.1h-1.1zM43.71 752.79h1.1v1.1h-1.1zM160.25 747.84h1.1v1.1h-1.1zM75.86 702.82h1.1v1.1h-1.1zM112.84 729.35h1.1v1.1h-1.1zM123.49 685.26h1.1v1.1h-1.1zM173.34 742.95h1.1v1.1h-1.1zM72.05 741.98h1.1v1.1h-1.1zM71.13 730.31h1.1v1.1h-1.1zM33.01 667.5h1.1v1.1h-1.1zM69.04 674.1h1.1v1.1h-1.1zM148.21 668.66h1.1v1.1h-1.1zM32.22 690.83h1.1v1.1h-1.1zM153.7 686h1.1v1.1h-1.1zM117.35 707.86h1.1v1.1h-1.1zM149.5 696.43h1.1v1.1h-1.1zM80.28 700.42h1.1v1.1h-1.1zM97.86 733.06h1.1v1.1h-1.1zM127.46 664.64h1.1v1.1h-1.1zM124.66 751.75h1.1v1.1h-1.1zM88.1 671.83h1.1v1.1h-1.1zM47.82 699.41h1.1v1.1h-1.1zM129.01 696.37h1.1v1.1h-1.1zM77.14 751.05h1.1v1.1h-1.1zM132.06 735.26h1.1v1.1h-1.1zM116.96 697.41h1.1v1.1h-1.1zM134.84 741.01h1.1v1.1h-1.1zM171.73 673.77h1.1v1.1h-1.1zM156.85 733.34h1.1v1.1h-1.1zM134.45 712.84h1.1v1.1h-1.1zM131.49 679.02h1.1v1.1h-1.1zM88.66 652.67h1.1v1.1h-1.1zM92.98 703.48h1.1v1.1h-1.1zM133.69 736.84h1.1v1.1h-1.1zM160.26 717.73h1.1v1.1h-1.1zM159.03 737.52h1.1v1.1h-1.1zM46.76 690.41h1.1v1.1h-1.1zM63.93 706.34h1.1v1.1h-1.1zM57.99 676.28h1.1v1.1h-1.1zM136.96 680.3h1.1v1.1h-1.1zM48.29 747.86h1.1v1.1h-1.1zM114.24 744.24h1.1v1.1h-1.1zM133.84 695h1.1v1.1h-1.1zM165.63 666.35h1.1v1.1h-1.1zM124.89 665.37h1.1v1.1h-1.1zM103.17 722.11h1.1v1.1h-1.1zM37.56 678.47h1.1v1.1h-1.1zM126.43 685.98h1.1v1.1h-1.1zM103.81 704.73h1.1v1.1h-1.1zM163.7 713.05h1.1v1.1h-1.1zM49.12 652.28h1.1v1.1h-1.1zM140.51 658.09h1.1v1.1h-1.1zM173.46 706.69h1.1v1.1h-1.1zM51.4 700.75h1.1v1.1h-1.1zM100.61 711.89h1.1v1.1h-1.1zM144.15 726.42h1.1v1.1h-1.1zM171.21 730.42h1.1v1.1h-1.1zM70.29 665.12h1.1v1.1h-1.1zM62.95 676.21h1.1v1.1h-1.1zM68.81 709.59h1.1v1.1h-1.1zM97.6 726.78h1.1v1.1h-1.1zM149.59 653.38h1.1v1.1h-1.1zM164.53 736.03h1.1v1.1h-1.1zM32.34 706.31h1.1v1.1h-1.1zM137.39 695.01h1.1v1.1h-1.1zM169.8 648.44h1.1v1.1h-1.1zM128.94 725.23h1.1v1.1h-1.1zM87.6 745.96h1.1v1.1h-1.1zM86.46 673.42h1.1v1.1h-1.1zM75.05 733.28h1.1v1.1h-1.1zM107.76 658.11h1.1v1.1h-1.1zM123.49 741.22h1.1v1.1h-1.1zM92.02 728.63h1.1v1.1h-1.1zM147.93 708.62h1.1v1.1h-1.1zM93.77 660.06h1.1v1.1h-1.1zM72.2 705.41h1.1v1.1h-1.1zM172.69 720.44h1.1v1.1h-1.1zM107.89 684.3h1.1v1.1h-1.1zM77.78 686.35h1.1v1.1h-1.1zM90.51 664.98h1.1v1.1h-1.1zM110.41 676.02h1.1v1.1h-1.1zM112.82 679.14h1.1v1.1h-1.1zM85.89 737.22h1.1v1.1h-1.1zM82.01 718.44h1.1v1.1h-1.1zM30.66 671.53h1.1v1.1h-1.1zM105.71 702.09h1.1v1.1h-1.1zM132.13 745.82h1.1v1.1h-1.1zM47.02 677.04h1.1v1.1h-1.1zM34.54 660.98h1.1v1.1h-1.1zM103.25 650.61h1.1v1.1h-1.1zM154.86 709.7h1.1v1.1h-1.1zM79.08 706.97h1.1v1.1h-1.1zM141.67 704.03h1.1v1.1h-1.1zM134.42 648.06h1.1v1.1h-1.1zM138.65 698.55h1.1v1.1h-1.1zM137.67 700.62h1.1v1.1h-1.1zM113.95 708.41h1.1v1.1h-1.1zM166.08 648.48h1.1v1.1h-1.1zM112.07 693.79h1.1v1.1h-1.1z" fill="#0000ff" fill-opacity="0.78"/>
<text class="c" x="-1.5" y="788.8" textLength="13.82" lengthAdjust="spacingAndGlyphs" font-weight="bold">(j)</text>
<text class="c" x="21.35" y="788.8" textLength="60.08" lengthAdjust="spacingAndGlyphs">Horizontal</text>
<text class="c" x="90.47" y="788.8" textLength="61.21" lengthAdjust="spacingAndGlyphs">correlation</text>
<text class="c" x="160.71" y="788.8" textLength="10.55" lengthAdjust="spacingAndGlyphs">of</text>
<text class="c" x="180.3" y="788.8" textLength="18.19" lengthAdjust="spacingAndGlyphs">the</text>
<text class="c" x="207.53" y="788.8" textLength="17.47" lengthAdjust="spacingAndGlyphs">en-</text>
<text class="c" x="0" y="803.65" textLength="43.34" lengthAdjust="spacingAndGlyphs">crypted</text>
<text class="c" x="56.67" y="803.65" textLength="33.48" lengthAdjust="spacingAndGlyphs">image</text>
<text class="c" x="103.48" y="803.65" textLength="29.91" lengthAdjust="spacingAndGlyphs">using</text>
<text class="c" x="146.72" y="803.65" textLength="18.19" lengthAdjust="spacingAndGlyphs">the</text>
<text class="c" x="178.25" y="803.65" textLength="51.05" lengthAdjust="spacingAndGlyphs">proposed</text>
<text class="c" x="0" y="818.5" textLength="40.83" lengthAdjust="spacingAndGlyphs">scheme</text>
<path d="M257.3 629V753.4H429.6" fill="none" stroke="#acacac" stroke-width="1"/>
<path d="M257.3 753.4v-1.9M286.02 753.4v-1.9M314.73 753.4v-1.9M343.45 753.4v-1.9M372.17 753.4v-1.9M400.88 753.4v-1.9M429.6 753.4v-1.9M257.3 753.4h1.9M257.3 732.75h1.9M257.3 712.1h1.9M257.3 691.45h1.9M257.3 670.8h1.9M257.3 650.15h1.9M257.3 629.5h1.9" stroke="#666" stroke-width="0.7"/>
<g transform="scale(1.08,1)" font-size="4.9" fill="#555555"><text x="238.24" y="760.7" text-anchor="middle">0</text><text x="264.83" y="760.7" text-anchor="middle">50</text><text x="291.42" y="760.7" text-anchor="middle">100</text><text x="318.01" y="760.7" text-anchor="middle">150</text><text x="344.6" y="760.7" text-anchor="middle">200</text><text x="371.19" y="760.7" text-anchor="middle">250</text><text x="397.78" y="760.7" text-anchor="middle">300</text><text x="236.02" y="755.6" text-anchor="end">0</text><text x="236.02" y="734.95" text-anchor="end">50</text><text x="236.02" y="714.3" text-anchor="end">100</text><text x="236.02" y="693.65" text-anchor="end">150</text><text x="236.02" y="673" text-anchor="end">200</text><text x="236.02" y="652.35" text-anchor="end">250</text><text x="236.02" y="631.7" text-anchor="end">300</text></g>
<text transform="translate(344.25,771.2) scale(1.05,1)" text-anchor="middle" font-weight="bold" font-size="8.45" fill="#353535">Pixel values at location (x,y)</text>
<text transform="translate(241.8,691.45) scale(1.08,0.98) rotate(-90)" text-anchor="middle" font-weight="bold" font-size="8.45" fill="#353535">Pixel values at location (x,y+1)</text>
<path d="M271.91 693.06h1.1v1.1h-1.1zM393.38 727.23h1.1v1.1h-1.1zM370.65 725.93h1.1v1.1h-1.1zM361.69 723.02h1.1v1.1h-1.1zM344.31 670.89h1.1v1.1h-1.1zM261.5 664.02h1.1v1.1h-1.1zM333.73 727.03h1.1v1.1h-1.1zM301.93 694.22h1.1v1.1h-1.1zM365.71 734.02h1.1v1.1h-1.1zM267.07 728.4h1.1v1.1h-1.1zM350.03 710.24h1.1v1.1h-1.1zM368.92 675.98h1.1v1.1h-1.1zM310.83 690.52h1.1v1.1h-1.1zM278.19 688.42h1.1v1.1h-1.1zM351.92 727.85h1.1v1.1h-1.1zM354.74 738.19h1.1v1.1h-1.1zM399.64 694.93h1.1v1.1h-1.1zM392.33 682.15h1.1v1.1h-1.1zM288.3 675.42h1.1v1.1h-1.1zM347.11 712.83h1.1v1.1h-1.1zM358.62 672.48h1.1v1.1h-1.1zM356.7 729.79h1.1v1.1h-1.1zM398.7 656.68h1.1v1.1h-1.1zM320.57 654.87h1.1v1.1h-1.1zM402.82 716.42h1.1v1.1h-1.1zM284.86 727.05h1.1v1.1h-1.1zM328.75 737.58h1.1v1.1h-1.1zM291.64 675.44h1.1v1.1h-1.1zM259.49 688.15h1.1v1.1h-1.1zM316.72 677.78h1.1v1.1h-1.1zM294.8 702.26h1.1v1.1h-1.1zM288.06 751.18h1.1v1.1h-1.1zM383.83 714.1h1.1v1.1h-1.1zM300.15 654.04h1.1v1.1h-1.1zM311.17 695.64h1.1v1.1h-1.1zM277.42 709.32h1.1v1.1h-1.1zM385.45 665.68h1.1v1.1h-1.1zM377.02 656.14h1.1v1.1h-1.1zM290.69 747.3h1.1v1.1h-1.1zM275.89 684.07h1.1v1.1h-1.1zM336.98 713.81h1.1v1.1h-1.1zM361.46 729.6h1.1v1.1h-1.1zM346.14 708.73h1.1v1.1h-1.1zM277.25 670.85h1.1v1.1h-1.1zM283.85 668.24h1.1v1.1h-1.1zM368.66 706.65h1.1v1.1h-1.1zM323.42 731.17h1.1v1.1h-1.1zM277.25 679.23h1.1v1.1h-1.1zM311.27 693.35h1.1v1.1h-1.1zM310.86 724.7h1.1v1.1h-1.1zM280.72 672.25h1.1v1.1h-1.1zM320.4 736.72h1.1v1.1h-1.1zM385.14 736.56h1.1v1.1h-1.1zM290.45 736.23h1.1v1.1h-1.1zM339.03 670.63h1.1v1.1h-1.1zM261.31 655.07h1.1v1.1h-1.1zM360.03 664.98h1.1v1.1h-1.1zM318.78 706.66h1.1v1.1h-1.1zM270.55 725.1h1.1v1.1h-1.1zM384.79 722.72h1.1v1.1h-1.1zM389.2 664.72h1.1v1.1h-1.1zM392.11 737.99h1.1v1.1h-1.1zM318.92 664.71h1.1v1.1h-1.1zM302.53 726.97h1.1v1.1h-1.1zM259.77 696.45h1.1v1.1h-1.1zM337.63 730.47h1.1v1.1h-1.1zM294.83 685.93h1.1v1.1h-1.1zM282.15 669.75h1.1v1.1h-1.1zM384.99 708.43h1.1v1.1h-1.1zM275.9 692.51h1.1v1.1h-1.1zM300.17 741.75h1.1v1.1h-1.1zM361.04 693.72h1.1v1.1h-1.1zM296.66 726.71h1.1v1.1h-1.1zM363.18 655.92h1.1v1.1h-1.1zM308.46 690.95h1.1v1.1h-1.1zM289.2 703.67h1.1v1.1h-1.1zM342.09 720.59h1.1v1.1h-1.1zM345.69 695.55h1.1v1.1h-1.1zM263.14 740.3h1.1v1.1h-1.1zM317.65 737.23h1.1v1.1h-1.1zM337.07 690.13h1.1v1.1h-1.1zM348.67 659.25h1.1v1.1h-1.1zM346.18 671.28h1.1v1.1h-1.1zM273.72 660.55h1.1v1.1h-1.1zM393.44 690.33h1.1v1.1h-1.1zM378.43 694.7h1.1v1.1h-1.1zM320.64 735.9h1.1v1.1h-1.1zM327.41 677.43h1.1v1.1h-1.1zM373.54 658.35h1.1v1.1h-1.1zM332.93 652.94h1.1v1.1h-1.1zM311.45 750.87h1.1v1.1h-1.1zM319.41 695.67h1.1v1.1h-1.1zM370.38 728.17h1.1v1.1h-1.1zM260.46 676.45h1.1v1.1h-1.1zM284.87 662.79h1.1v1.1h-1.1zM339.98 738.49h1.1v1.1h-1.1zM333.34 671.2h1.1v1.1h-1.1zM289.64 651.8h1.1v1.1h-1.1zM265.06 737.15h1.1v1.1h-1.1zM344.16 681.32h1.1v1.1h-1.1zM345.29 655.23h1.1v1.1h-1.1zM286.35 747.98h1.1v1.1h-1.1zM335.76 715.69h1.1v1.1h-1.1zM315 711.03h1.1v1.1h-1.1zM386.47 722.69h1.1v1.1h-1.1zM358.5 692.85h1.1v1.1h-1.1zM298.54 656.43h1.1v1.1h-1.1zM294.32 721.07h1.1v1.1h-1.1zM285.07 678.75h1.1v1.1h-1.1zM358.67 714.25h1.1v1.1h-1.1zM274.05 689.89h1.1v1.1h-1.1zM306.36 694.64h1.1v1.1h-1.1zM353.14 752.71h1.1v1.1h-1.1zM263.46 666.27h1.1v1.1h-1.1zM384.36 743.61h1.1v1.1h-1.1zM289.54 707.78h1.1v1.1h-1.1zM379.2 720.18h1.1v1.1h-1.1zM397.37 743.24h1.1v1.1h-1.1zM389.86 746.83h1.1v1.1h-1.1zM345.23 650.11h1.1v1.1h-1.1zM362.87 656.25h1.1v1.1h-1.1zM308.41 651.86h1.1v1.1h-1.1zM389.61 723.84h1.1v1.1h-1.1zM370.2 655.83h1.1v1.1h-1.1zM288.17 711.45h1.1v1.1h-1.1zM370.03 692.21h1.1v1.1h-1.1zM391.68 707.02h1.1v1.1h-1.1zM322.62 735.15h1.1v1.1h-1.1zM297.1 660.36h1.1v1.1h-1.1zM295.18 658.09h1.1v1.1h-1.1zM374.8 692.55h1.1v1.1h-1.1zM301.13 752.7h1.1v1.1h-1.1zM274.09 665.29h1.1v1.1h-1.1zM397.69 651.09h1.1v1.1h-1.1zM297.95 653.82h1.1v1.1h-1.1zM321.48 713.96h1.1v1.1h-1.1zM390.36 666.2h1.1v1.1h-1.1zM356.52 722.61h1.1v1.1h-1.1zM272.49 733.51h1.1v1.1h-1.1zM295.46 732.56h1.1v1.1h-1.1zM340.69 719.59h1.1v1.1h-1.1zM288.44 660.12h1.1v1.1h-1.1zM310.93 752.52h1.1v1.1h-1.1zM258.13 694.53h1.1v1.1h-1.1zM261.11 693.93h1.1v1.1h-1.1zM260.52 703.23h1.1v1.1h-1.1zM347.74 695.76h1.1v1.1h-1.1zM288.53 664.19h1.1v1.1h-1.1zM399.73 666.81h1.1v1.1h-1.1zM393.78 650.12h1.1v1.1h-1.1zM310.83 695.39h1.1v1.1h-1.1zM317.59 669.69h1.1v1.1h-1.1zM281.47 728.91h1.1v1.1h-1.1zM323.07 695.3h1.1v1.1h-1.1zM402.44 717.34h1.1v1.1h-1.1zM257.33 711.84h1.1v1.1h-1.1zM385.67 742.72h1.1v1.1h-1.1zM333.01 689.45h1.1v1.1h-1.1zM380.12 718.25h1.1v1.1h-1.1zM346.04 652.14h1.1v1.1h-1.1zM399.71 693.12h1.1v1.1h-1.1zM306.51 684.11h1.1v1.1h-1.1zM364.14 680.93h1.1v1.1h-1.1zM356.01 712.18h1.1v1.1h-1.1zM362.04 715.67h1.1v1.1h-1.1zM290.95 742.29h1.1v1.1h-1.1zM338.11 734.86h1.1v1.1h-1.1zM298.23 721.39h1.1v1.1h-1.1zM311.43 708.81h1.1v1.1h-1.1zM400.06 697.2h1.1v1.1h-1.1zM337.49 710.51h1.1v1.1h-1.1zM337.27 666.78h1.1v1.1h-1.1zM333.59 698.68h1.1v1.1h-1.1zM308.37 733.27h1.1v1.1h-1.1zM288.07 743.41h1.1v1.1h-1.1zM298.58 748.56h1.1v1.1h-1.1zM317.86 692.27h1.1v1.1h-1.1zM273.61 672.94h1.1v1.1h-1.1zM323.17 686.91h1.1v1.1h-1.1zM320 668.86h1.1v1.1h-1.1zM356.68 740.07h1.1v1.1h-1.1zM337.44 724.86h1.1v1.1h-1.1zM366.53 713.67h1.1v1.1h-1.1zM289.69 749.28h1.1v1.1h-1.1zM401.73 740.26h1.1v1.1h-1.1zM293.71 654.43h1.1v1.1h-1.1zM264.23 709.44h1.1v1.1h-1.1zM320.39 680.93h1.1v1.1h-1.1zM371.79 649.82h1.1v1.1h-1.1zM303.61 743.92h1.1v1.1h-1.1zM288.42 752.33h1.1v1.1h-1.1zM296.31 687.27h1.1v1.1h-1.1zM388.23 742.35h1.1v1.1h-1.1zM296.16 658.82h1.1v1.1h-1.1zM343.08 710.61h1.1v1.1h-1.1zM267.34 746.91h1.1v1.1h-1.1zM288.7 687.69h1.1v1.1h-1.1zM265.27 699.7h1.1v1.1h-1.1zM376.99 752.6h1.1v1.1h-1.1zM299.02 709.14h1.1v1.1h-1.1zM346.42 675.06h1.1v1.1h-1.1zM356.52 706.95h1.1v1.1h-1.1zM306.45 686.63h1.1v1.1h-1.1zM324.34 654.61h1.1v1.1h-1.1zM334.55 690.94h1.1v1.1h-1.1zM354.66 701.85h1.1v1.1h-1.1zM329.12 682.69h1.1v1.1h-1.1zM344.92 647.28h1.1v1.1h-1.1zM301.63 700.58h1.1v1.1h-1.1zM400.04 666.73h1.1v1.1h-1.1zM338.22 720.68h1.1v1.1h-1.1zM283.01 708.88h1.1v1.1h-1.1zM319.44 707.14h1.1v1.1h-1.1zM294.39 702.04h1.1v1.1h-1.1zM341.1 742.06h1.1v1.1h-1.1zM353.62 677.78h1.1v1.1h-1.1zM285.47 726.55h1.1v1.1h-1.1zM262.37 702.99h1.1v1.1h-1.1zM356.01 709.31h1.1v1.1h-1.1zM343.34 688.88h1.1v1.1h-1.1zM263.27 747.17h1.1v1.1h-1.1zM331.31 655.09h1.1v1.1h-1.1zM360.56 705.73h1.1v1.1h-1.1zM294.93 738.91h1.1v1.1h-1.1zM351.76 672.01h1.1v1.1h-1.1zM314.5 743.83h1.1v1.1h-1.1zM297.49 678.08h1.1v1.1h-1.1zM370.1 710.53h1.1v1.1h-1.1zM387.2 711.65h1.1v1.1h-1.1zM260.22 731.21h1.1v1.1h-1.1zM387.62 678.25h1.1v1.1h-1.1zM269.49 722.57h1.1v1.1h-1.1zM314.79 701.97h1.1v1.1h-1.1zM260.47 655.39h1.1v1.1h-1.1zM334.84 724.94h1.1v1.1h-1.1zM261.38 692.46h1.1v1.1h-1.1zM393.9 676.87h1.1v1.1h-1.1zM383.02 660.49h1.1v1.1h-1.1zM354.54 746.81h1.1v1.1h-1.1zM302.48 691.34h1.1v1.1h-1.1zM317.93 729.9h1.1v1.1h-1.1zM266.7 661.34h1.1v1.1h-1.1zM354.83 721.26h1.1v1.1h-1.1zM325.86 660.61h1.1v1.1h-1.1zM277.94 686.34h1.1v1.1h-1.1zM291.02 657.19h1.1v1.1h-1.1zM374.44 652.61h1.1v1.1h-1.1zM313.04 699.19h1.1v1.1h-1.1zM304.02 715.71h1.1v1.1h-1.1zM396.94 650.33h1.1v1.1h-1.1zM402.93 656.82h1.1v1.1h-1.1zM328.71 683.02h1.1v1.1h-1.1zM390.24 707.3h1.1v1.1h-1.1zM391.84 668.56h1.1v1.1h-1.1zM298.51 714.84h1.1v1.1h-1.1zM358.28 735.5h1.1v1.1h-1.1zM294.38 732.37h1.1v1.1h-1.1zM272.45 656.81h1.1v1.1h-1.1zM403.42 666.11h1.1v1.1h-1.1zM330.84 673.97h1.1v1.1h-1.1zM357.76 706.19h1.1v1.1h-1.1zM333.26 739.35h1.1v1.1h-1.1zM292.33 716.5h1.1v1.1h-1.1zM309.25 683.15h1.1v1.1h-1.1zM292.27 727.72h1.1v1.1h-1.1zM385.34 670.17h1.1v1.1h-1.1zM393.81 670.49h1.1v1.1h-1.1zM285.43 701.27h1.1v1.1h-1.1zM379.36 667.6h1.1v1.1h-1.1zM290.3 701.84h1.1v1.1h-1.1zM343.37 751.68h1.1v1.1h-1.1zM292.56 674.45h1.1v1.1h-1.1zM354.76 705.58h1.1v1.1h-1.1zM340.71 697.06h1.1v1.1h-1.1zM307.59 743.84h1.1v1.1h-1.1zM365.85 671.17h1.1v1.1h-1.1zM320.69 671.49h1.1v1.1h-1.1zM378.42 679.73h1.1v1.1h-1.1zM375.56 650.67h1.1v1.1h-1.1zM262.61 653.26h1.1v1.1h-1.1zM323.25 670.62h1.1v1.1h-1.1zM365.12 742.44h1.1v1.1h-1.1zM342.98 743.42h1.1v1.1h-1.1zM364.34 717.03h1.1v1.1h-1.1zM312.1 723.99h1.1v1.1h-1.1zM375.8 685.1h1.1v1.1h-1.1zM300.64 674.49h1.1v1.1h-1.1zM284 668.05h1.1v1.1h-1.1zM345.62 671.87h1.1v1.1h-1.1zM347.35 648.65h1.1v1.1h-1.1zM358.95 703.81h1.1v1.1h-1.1zM343.58 692.91h1.1v1.1h-1.1zM298.71 720.47h1.1v1.1h-1.1zM374.2 666.37h1.1v1.1h-1.1zM398.66 680.29h1.1v1.1h-1.1zM330.97 711.09h1.1v1.1h-1.1zM360.43 684.23h1.1v1.1h-1.1zM395.44 673.81h1.1v1.1h-1.1zM313.18 723.41h1.1v1.1h-1.1zM263.36 670.34h1.1v1.1h-1.1zM319.65 711.16h1.1v1.1h-1.1zM264.52 700.49h1.1v1.1h-1.1zM388.82 723.54h1.1v1.1h-1.1zM366.05 672.61h1.1v1.1h-1.1zM353.82 689.84h1.1v1.1h-1.1zM293.42 681.54h1.1v1.1h-1.1zM342.69 650.63h1.1v1.1h-1.1zM332.51 715.37h1.1v1.1h-1.1zM389.98 686.82h1.1v1.1h-1.1zM306.94 684.15h1.1v1.1h-1.1zM279.17 732.9h1.1v1.1h-1.1zM386.75 703.86h1.1v1.1h-1.1zM374.65 730.15h1.1v1.1h-1.1zM325.96 727.77h1.1v1.1h-1.1zM374.7 689.71h1.1v1.1h-1.1zM314.59 712.2h1.1v1.1h-1.1zM287.81 730.6h1.1v1.1h-1.1zM358.27 719.84h1.1v1.1h-1.1zM272.11 712.06h1.1v1.1h-1.1zM323.33 648.38h1.1v1.1h-1.1zM313.41 710.21h1.1v1.1h-1.1zM399.66 676.61h1.1v1.1h-1.1zM324.21 710.76h1.1v1.1h-1.1zM289.87 736.72h1.1v1.1h-1.1zM326.2 685.14h1.1v1.1h-1.1zM272.32 702.48h1.1v1.1h-1.1zM282.22 689.23h1.1v1.1h-1.1zM307.41 682.45h1.1v1.1h-1.1zM371.85 710.08h1.1v1.1h-1.1zM313.01 744.52h1.1v1.1h-1.1zM287.89 687.13h1.1v1.1h-1.1zM375.39 738.19h1.1v1.1h-1.1zM400.27 656.19h1.1v1.1h-1.1zM310.52 695.85h1.1v1.1h-1.1zM355.64 718.04h1.1v1.1h-1.1zM310.61 676.54h1.1v1.1h-1.1zM327.99 706.65h1.1v1.1h-1.1zM339.5 740.56h1.1v1.1h-1.1zM325.94 721.72h1.1v1.1h-1.1zM281.34 697.4h1.1v1.1h-1.1zM360.01 697.25h1.1v1.1h-1.1zM330.11 682.04h1.1v1.1h-1.1zM318.74 649.06h1.1v1.1h-1.1zM288.22 751.98h1.1v1.1h-1.1zM340.34 679.34h1.1v1.1h-1.1zM312.98 710.65h1.1v1.1h-1.1zM307.16 727.15h1.1v1.1h-1.1zM373.15 661.58h1.1v1.1h-1.1zM297.79 693.16h1.1v1.1h-1.1zM324.33 738.94h1.1v1.1h-1.1zM364.6 696.62h1.1v1.1h-1.1zM402.41 656.66h1.1v1.1h-1.1zM389.57 725.17h1.1v1.1h-1.1zM272.88 667.2h1.1v1.1h-1.1zM272.67 680.18h1.1v1.1h-1.1zM282.56 678.3h1.1v1.1h-1.1zM264.66 743.59h1.1v1.1h-1.1zM384.36 698.35h1.1v1.1h-1.1zM322.99 650.07h1.1v1.1h-1.1zM372.06 728.99h1.1v1.1h-1.1zM360.55 712.09h1.1v1.1h-1.1zM324.96 719.76h1.1v1.1h-1.1zM290.13 720.84h1.1v1.1h-1.1zM296.85 732.88h1.1v1.1h-1.1zM385.23 712.78h1.1v1.1h-1.1zM339.17 667.08h1.1v1.1h-1.1zM356.47 736.3h1.1v1.1h-1.1zM396.86 654.33h1.1v1.1h-1.1zM380.15 718.01h1.1v1.1h-1.1zM378.83 684.99h1.1v1.1h-1.1zM261.34 712.94h1.1v1.1h-1.1zM359.38 695.3h1.1v1.1h-1.1zM396.1 669.26h1.1v1.1h-1.1zM379.71 649.21h1.1v1.1h-1.1zM307.19 656.86h1.1v1.1h-1.1zM257.11 668.41h1.1v1.1h-1.1zM269.67 700.03h1.1v1.1h-1.1zM321.6 745.26h1.1v1.1h-1.1zM350.33 669.58h1.1v1.1h-1.1zM289.61 726.92h1.1v1.1h-1.1zM370.08 696.97h1.1v1.1h-1.1zM259.46 720.43h1.1v1.1h-1.1zM395.51 723.67h1.1v1.1h-1.1zM299.27 705.16h1.1v1.1h-1.1zM387.08 667.28h1.1v1.1h-1.1zM313.36 682.43h1.1v1.1h-1.1zM260.82 745.99h1.1v1.1h-1.1zM311.44 685.81h1.1v1.1h-1.1zM277.42 748.32h1.1v1.1h-1.1zM382.21 733.18h1.1v1.1h-1.1zM264.79 743.79h1.1v1.1h-1.1zM268.37 722.62h1.1v1.1h-1.1zM341.86 683.44h1.1v1.1h-1.1zM298.78 698.37h1.1v1.1h-1.1zM305.63 691.55h1.1v1.1h-1.1zM272.8 686.87h1.1v1.1h-1.1zM256.79 655.29h1.1v1.1h-1.1zM287.52 694.24h1.1v1.1h-1.1zM284.48 705.85h1.1v1.1h-1.1zM295.64 685.08h1.1v1.1h-1.1zM371.33 663.56h1.1v1.1h-1.1zM399.98 704.71h1.1v1.1h-1.1zM337.54 715.7h1.1v1.1h-1.1zM299.12 699.13h1.1v1.1h-1.1zM399.83 746.97h1.1v1.1h-1.1zM366.63 718.71h1.1v1.1h-1.1zM344.62 724.77h1.1v1.1h-1.1zM362.44 700.39h1.1v1.1h-1.1zM302.34 705.49h1.1v1.1h-1.1zM257.43 742.48h1.1v1.1h-1.1zM390.22 744.14h1.1v1.1h-1.1zM315.2 682.06h1.1v1.1h-1.1zM262.08 654.41h1.1v1.1h-1.1zM287.13 651.11h1.1v1.1h-1.1zM320.51 690.88h1.1v1.1h-1.1zM345.52 743.44h1.1v1.1h-1.1zM331.17 673.61h1.1v1.1h-1.1zM372.83 675.19h1.1v1.1h-1.1zM356.79 739.32h1.1v1.1h-1.1zM316.91 699.01h1.1v1.1h-1.1zM262.72 671.87h1.1v1.1h-1.1zM271.77 693.19h1.1v1.1h-1.1zM296.01 735.62h1.1v1.1h-1.1zM396.81 687.27h1.1v1.1h-1.1zM364.47 688.73h1.1v1.1h-1.1zM339.72 660.6h1.1v1.1h-1.1zM266.05 712.83h1.1v1.1h-1.1zM288.94 689.79h1.1v1.1h-1.1zM314.73 655.5h1.1v1.1h-1.1zM291.03 724.39h1.1v1.1h-1.1zM391.62 676.62h1.1v1.1h-1.1zM319.85 713.37h1.1v1.1h-1.1zM364.67 737.13h1.1v1.1h-1.1zM362.88 728.88h1.1v1.1h-1.1zM375.29 745.04h1.1v1.1h-1.1zM391.16 661.73h1.1v1.1h-1.1zM260.34 735.95h1.1v1.1h-1.1zM391.2 666.25h1.1v1.1h-1.1zM299.67 668.17h1.1v1.1h-1.1zM342.03 726.74h1.1v1.1h-1.1zM357.88 708.99h1.1v1.1h-1.1zM277.62 662.86h1.1v1.1h-1.1zM362.24 727.08h1.1v1.1h-1.1zM319.54 680.66h1.1v1.1h-1.1zM311.33 725.62h1.1v1.1h-1.1zM334.15 652.35h1.1v1.1h-1.1zM270.72 726.23h1.1v1.1h-1.1zM327.78 648.74h1.1v1.1h-1.1zM402.69 751.96h1.1v1.1h-1.1zM351.13 738.24h1.1v1.1h-1.1zM287.18 738.51h1.1v1.1h-1.1zM330.24 647.8h1.1v1.1h-1.1zM398.75 714.02h1.1v1.1h-1.1zM388.82 679.99h1.1v1.1h-1.1zM267.67 657.6h1.1v1.1h-1.1zM296.96 649.39h1.1v1.1h-1.1zM276.19 657.7h1.1v1.1h-1.1zM332.14 698.37h1.1v1.1h-1.1zM283.64 701.22h1.1v1.1h-1.1zM368.42 694.04h1.1v1.1h-1.1zM400.88 696.34h1.1v1.1h-1.1zM389.69 738.73h1.1v1.1h-1.1zM365.07 689.44h1.1v1.1h-1.1zM386.55 717.33h1.1v1.1h-1.1zM324.82 666.91h1.1v1.1h-1.1zM294.35 713.56h1.1v1.1h-1.1zM381.21 684.29h1.1v1.1h-1.1zM328.72 751.2h1.1v1.1h-1.1zM369.05 708.98h1.1v1.1h-1.1zM291.7 712.04h1.1v1.1h-1.1zM276.95 663.95h1.1v1.1h-1.1zM373.98 650.73h1.1v1.1h-1.1zM355.87 735.81h1.1v1.1h-1.1zM318.89 647.59h1.1v1.1h-1.1zM256.89 716.67h1.1v1.1h-1.1zM278.68 734.8h1.1v1.1h-1.1zM297.19 687.4h1.1v1.1h-1.1zM266.65 661.17h1.1v1.1h-1.1zM320 734.55h1.1v1.1h-1.1zM271.63 697.37h1.1v1.1h-1.1zM308.09 699.88h1.1v1.1h-1.1zM272.62 715.3h1.1v1.1h-1.1zM331.07 743.94h1.1v1.1h-1.1zM330.48 663.97h1.1v1.1h-1.1zM343.48 739.19h1.1v1.1h-1.1zM349.57 744.1h1.1v1.1h-1.1zM277.63 751.84h1.1v1.1h-1.1zM334.74 734.07h1.1v1.1h-1.1zM297.73 740.11h1.1v1.1h-1.1zM388.35 737.5h1.1v1.1h-1.1zM355.91 667.61h1.1v1.1h-1.1zM322.82 691.25h1.1v1.1h-1.1zM305.74 666.3h1.1v1.1h-1.1zM357.56 744.62h1.1v1.1h-1.1zM360.23 737.97h1.1v1.1h-1.1zM327.47 733.45h1.1v1.1h-1.1zM327.97 683.58h1.1v1.1h-1.1zM364.57 718.45h1.1v1.1h-1.1zM264.79 705.24h1.1v1.1h-1.1zM391.2 694.49h1.1v1.1h-1.1zM347.83 671.9h1.1v1.1h-1.1zM350.56 652.53h1.1v1.1h-1.1zM397.11 674.76h1.1v1.1h-1.1zM375.42 737.86h1.1v1.1h-1.1zM295.66 677.68h1.1v1.1h-1.1zM342.09 661.7h1.1v1.1h-1.1zM370.56 717.81h1.1v1.1h-1.1zM281.94 683.31h1.1v1.1h-1.1zM273.06 700.52h1.1v1.1h-1.1zM297.28 710.43h1.1v1.1h-1.1zM352.91 685.86h1.1v1.1h-1.1zM347.54 746.45h1.1v1.1h-1.1zM388.19 678.33h1.1v1.1h-1.1zM390.12 688.09h1.1v1.1h-1.1zM351.8 658.93h1.1v1.1h-1.1zM366.45 685.75h1.1v1.1h-1.1zM262.62 750.31h1.1v1.1h-1.1zM362.15 663.3h1.1v1.1h-1.1zM313.58 730.58h1.1v1.1h-1.1zM321.64 663.9h1.1v1.1h-1.1zM367.83 739.05h1.1v1.1h-1.1zM286.39 730.88h1.1v1.1h-1.1zM366.35 726.33h1.1v1.1h-1.1zM387.41 709.33h1.1v1.1h-1.1zM285.14 708.93h1.1v1.1h-1.1zM277.31 659.89h1.1v1.1h-1.1zM260.15 708.79h1.1v1.1h-1.1zM312.42 748.79h1.1v1.1h-1.1zM289.37 648.27h1.1v1.1h-1.1zM383.05 708.37h1.1v1.1h-1.1zM385.12 656.83h1.1v1.1h-1.1zM382.84 676.07h1.1v1.1h-1.1zM340.13 698.77h1.1v1.1h-1.1zM362.07 689.25h1.1v1.1h-1.1zM399.83 733.8h1.1v1.1h-1.1zM388.85 673.02h1.1v1.1h-1.1zM321.81 663.18h1.1v1.1h-1.1zM298.84 711.48h1.1v1.1h-1.1zM341.55 650.31h1.1v1.1h-1.1zM292.41 663.25h1.1v1.1h-1.1zM353.4 655.58h1.1v1.1h-1.1zM300.85 682.69h1.1v1.1h-1.1zM387.39 659.38h1.1v1.1h-1.1zM359.42 664.07h1.1v1.1h-1.1zM349.97 694.43h1.1v1.1h-1.1zM285.02 698.04h1.1v1.1h-1.1zM400.39 652.82h1.1v1.1h-1.1zM262.93 720.75h1.1v1.1h-1.1zM291.96 663.81h1.1v1.1h-1.1zM283.51 671.9h1.1v1.1h-1.1zM285.6 716.91h1.1v1.1h-1.1zM399.73 739.6h1.1v1.1h-1.1zM342.27 723.8h1.1v1.1h-1.1zM367.89 745.76h1.1v1.1h-1.1zM356.3 725.62h1.1v1.1h-1.1zM397.5 718.07h1.1v1.1h-1.1zM355.16 749.81h1.1v1.1h-1.1zM394.88 685.86h1.1v1.1h-1.1zM391.17 674.22h1.1v1.1h-1.1zM265.61 674.23h1.1v1.1h-1.1zM312.74 731.63h1.1v1.1h-1.1zM387.68 682.67h1.1v1.1h-1.1zM308.09 745.25h1.1v1.1h-1.1zM352.2 746.55h1.1v1.1h-1.1zM291.92 747.74h1.1v1.1h-1.1zM282.07 673.8h1.1v1.1h-1.1zM296.08 648.58h1.1v1.1h-1.1zM297.8 668.35h1.1v1.1h-1.1zM364.96 684.81h1.1v1.1h-1.1zM345.68 738.06h1.1v1.1h-1.1zM378.59 655.3h1.1v1.1h-1.1zM334.84 733.06h1.1v1.1h-1.1zM269.4 725.79h1.1v1.1h-1.1zM399.66 719.31h1.1v1.1h-1.1zM297.98 697.31h1.1v1.1h-1.1zM261.84 669.37h1.1v1.1h-1.1zM371.36 720.34h1.1v1.1h-1.1zM261.13 657.71h1.1v1.1h-1.1zM375.78 672.08h1.1v1.1h-1.1zM287.72 651.97h1.1v1.1h-1.1zM350.97 749.49h1.1v1.1h-1.1zM401.05 679.02h1.1v1.1h-1.1zM283.81 658.7h1.1v1.1h-1.1zM344.55 685.55h1.1v1.1h-1.1zM260.85 730.28h1.1v1.1h-1.1zM373.23 751.4h1.1v1.1h-1.1zM285.24 745.49h1.1v1.1h-1.1zM342.43 738.28h1.1v1.1h-1.1zM372.08 705.09h1.1v1.1h-1.1zM371.77 656.28h1.1v1.1h-1.1zM399.62 732.58h1.1v1.1h-1.1zM310.33 668.91h1.1v1.1h-1.1zM305.63 653.67h1.1v1.1h-1.1zM306.18 686.59h1.1v1.1h-1.1zM294.39 676.41h1.1v1.1h-1.1zM298.42 708.22h1.1v1.1h-1.1zM363.06 665.29h1.1v1.1h-1.1zM277.35 734.55h1.1v1.1h-1.1zM287.92 671.73h1.1v1.1h-1.1zM355.84 677.03h1.1v1.1h-1.1zM375.5 728.13h1.1v1.1h-1.1zM329.76 752.33h1.1v1.1h-1.1zM308.54 689.32h1.1v1.1h-1.1zM295.03 668.8h1.1v1.1h-1.1zM287.97 706.11h1.1v1.1h-1.1zM357.31 729.41h1.1v1.1h-1.1zM354.33 710.53h1.1v1.1h-1.1zM263.87 741.69h1.1v1.1h-1.1zM352.65 665.89h1.1v1.1h-1.1zM356.7 661.62h1.1v1.1h-1.1zM354.62 670.54h1.1v1.1h-1.1zM379.98 689.9h1.1v1.1h-1.1zM334.89 735.78h1.1v1.1h-1.1zM291.48 743.77h1.1v1.1h-1.1zM273.09 711.43h1.1v1.1h-1.1zM299.73 693.34h1.1v1.1h-1.1zM378.53 724.42h1.1v1.1h-1.1zM388.25 664.67h1.1v1.1h-1.1zM284.99 690.5h1.1v1.1h-1.1zM285.78 746h1.1v1.1h-1.1zM289.14 731.26h1.1v1.1h-1.1zM257.87 750.14h1.1v1.1h-1.1zM375.44 661.38h1.1v1.1h-1.1zM383.72 745.09h1.1v1.1h-1.1zM260.21 662.19h1.1v1.1h-1.1zM311.84 716.35h1.1v1.1h-1.1zM359.77 696.74h1.1v1.1h-1.1zM305.17 736.98h1.1v1.1h-1.1zM273.64 677.56h1.1v1.1h-1.1zM389.9 748.79h1.1v1.1h-1.1zM289.58 697.36h1.1v1.1h-1.1zM295.93 701.13h1.1v1.1h-1.1zM330.53 724.95h1.1v1.1h-1.1zM273.98 708.55h1.1v1.1h-1.1zM376 738.22h1.1v1.1h-1.1zM335.85 667.15h1.1v1.1h-1.1zM340.63 716.18h1.1v1.1h-1.1zM393.24 670.23h1.1v1.1h-1.1zM403.33 721.15h1.1v1.1h-1.1zM327.88 705.24h1.1v1.1h-1.1zM380.32 687.32h1.1v1.1h-1.1zM337.65 698.44h1.1v1.1h-1.1zM387.73 715.51h1.1v1.1h-1.1zM276.05 734.22h1.1v1.1h-1.1zM292.59 742.73h1.1v1.1h-1.1zM400.33 694.15h1.1v1.1h-1.1zM374.06 704.83h1.1v1.1h-1.1zM333.4 729.03h1.1v1.1h-1.1zM387.73 708.4h1.1v1.1h-1.1zM316.42 674.36h1.1v1.1h-1.1zM384.45 647.39h1.1v1.1h-1.1zM327.51 708.02h1.1v1.1h-1.1zM378.21 707.92h1.1v1.1h-1.1zM286.52 702.32h1.1v1.1h-1.1zM301.73 725.62h1.1v1.1h-1.1zM370.35 715.94h1.1v1.1h-1.1zM348.69 720.83h1.1v1.1h-1.1zM273.54 670.27h1.1v1.1h-1.1zM370.68 678.32h1.1v1.1h-1.1zM346.42 734.42h1.1v1.1h-1.1zM330.48 664.77h1.1v1.1h-1.1zM372.06 690.38h1.1v1.1h-1.1zM349.54 734.82h1.1v1.1h-1.1zM264.87 663.4h1.1v1.1h-1.1zM259.44 726.04h1.1v1.1h-1.1zM315.52 678.82h1.1v1.1h-1.1zM359.21 661.21h1.1v1.1h-1.1zM393.46 724.14h1.1v1.1h-1.1zM293.35 739.93h1.1v1.1h-1.1zM305.26 741.99h1.1v1.1h-1.1zM398.07 692.07h1.1v1.1h-1.1zM328.95 746.78h1.1v1.1h-1.1zM390.85 726.96h1.1v1.1h-1.1zM369.92 731.21h1.1v1.1h-1.1zM296.54 738.35h1.1v1.1h-1.1zM335.41 722.8h1.1v1.1h-1.1zM340.79 677.25h1.1v1.1h-1.1zM289.97 738.93h1.1v1.1h-1.1zM332.52 710.59h1.1v1.1h-1.1zM322.45 713.9h1.1v1.1h-1.1zM280.99 739.88h1.1v1.1h-1.1zM363.67 685.79h1.1v1.1h-1.1zM357.87 685.33h1.1v1.1h-1.1zM332.22 732.07h1.1v1.1h-1.1zM391.14 696.52h1.1v1.1h-1.1zM324.1 725.23h1.1v1.1h-1.1zM312.17 649.14h1.1v1.1h-1.1zM316.47 667.85h1.1v1.1h-1.1zM275.03 689.5h1.1v1.1h-1.1zM296.71 728.1h1.1v1.1h-1.1zM301.4 710.94h1.1v1.1h-1.1zM351.39 709.77h1.1v1.1h-1.1zM383.37 736.46h1.1v1.1h-1.1zM382.51 706.69h1.1v1.1h-1.1zM373.27 711.11h1.1v1.1h-1.1zM294.57 658.28h1.1v1.1h-1.1zM350.35 676.48h1.1v1.1h-1.1zM333.58 677.73h1.1v1.1h-1.1zM397.39 674.54h1.1v1.1h-1.1zM399.21 715.9h1.1v1.1h-1.1zM300.55 659.46h1.1v1.1h-1.1zM379.36 658.9h1.1v1.1h-1.1zM320.78 709.12h1.1v1.1h-1.1zM396.04 731.43h1.1v1.1h-1.1zM281.21 734.67h1.1v1.1h-1.1zM301.25 708.69h1.1v1.1h-1.1zM313.07 704.19h1.1v1.1h-1.1zM261.94 716.7h1.1v1.1h-1.1zM331.46 747.13h1.1v1.1h-1.1zM327.54 657.15h1.1v1.1h-1.1zM352.8 652.83h1.1v1.1h-1.1zM383.2 700.63h1.1v1.1h-1.1zM259.86 746.55h1.1v1.1h-1.1zM341.47 663.76h1.1v1.1h-1.1zM305.52 738.93h1.1v1.1h-1.1zM368.34 695.86h1.1v1.1h-1.1zM325.56 739.35h1.1v1.1h-1.1zM338.18 692.19h1.1v1.1h-1.1zM361.22 657.47h1.1v1.1h-1.1zM267.9 664.99h1.1v1.1h-1.1zM304 708.91h1.1v1.1h-1.1zM307.32 667.47h1.1v1.1h-1.1zM321.6 745.3h1.1v1.1h-1.1zM326.45 737.17h1.1v1.1h-1.1zM259.08 747.47h1.1v1.1h-1.1zM312.71 705.2h1.1v1.1h-1.1zM256.85 738.39h1.1v1.1h-1.1zM389.35 695.36h1.1v1.1h-1.1zM400.86 695.51h1.1v1.1h-1.1zM397.05 679.75h1.1v1.1h-1.1zM313.69 747.55h1.1v1.1h-1.1zM278.47 669.08h1.1v1.1h-1.1zM354.11 721.41h1.1v1.1h-1.1zM280.76 685.19h1.1v1.1h-1.1zM393.46 726.59h1.1v1.1h-1.1zM403.33 696.38h1.1v1.1h-1.1zM287.35 733.57h1.1v1.1h-1.1zM361.38 654.73h1.1v1.1h-1.1zM286.64 727.68h1.1v1.1h-1.1zM277.78 730.81h1.1v1.1h-1.1zM289.92 708.71h1.1v1.1h-1.1zM291.71 682.76h1.1v1.1h-1.1zM292.01 724.69h1.1v1.1h-1.1zM318.32 734.95h1.1v1.1h-1.1zM264.27 743.29h1.1v1.1h-1.1zM257.46 681.59h1.1v1.1h-1.1zM263.98 702.15h1.1v1.1h-1.1zM387.47 687.89h1.1v1.1h-1.1zM301.77 710.33h1.1v1.1h-1.1zM319.58 718.91h1.1v1.1h-1.1zM264.65 736.32h1.1v1.1h-1.1zM277.79 730.87h1.1v1.1h-1.1zM305.4 741.99h1.1v1.1h-1.1zM347.28 731.74h1.1v1.1h-1.1zM331.8 679.56h1.1v1.1h-1.1zM329.85 674.5h1.1v1.1h-1.1zM371.45 705.52h1.1v1.1h-1.1zM287.97 748.36h1.1v1.1h-1.1zM358.62 713.98h1.1v1.1h-1.1zM299.51 744.01h1.1v1.1h-1.1zM283.22 658.58h1.1v1.1h-1.1zM326.16 663.28h1.1v1.1h-1.1zM380.9 726.61h1.1v1.1h-1.1zM289.98 659.1h1.1v1.1h-1.1zM291.56 689.58h1.1v1.1h-1.1zM394.44 703.61h1.1v1.1h-1.1zM319.2 651.62h1.1v1.1h-1.1zM383.64 654.84h1.1v1.1h-1.1zM360.7 729.16h1.1v1.1h-1.1zM263.82 750.57h1.1v1.1h-1.1zM392.47 695.46h1.1v1.1h-1.1zM386.61 651.6h1.1v1.1h-1.1zM291.64 650.28h1.1v1.1h-1.1zM297.01 733.91h1.1v1.1h-1.1zM296.76 647.6h1.1v1.1h-1.1zM394.91 715.6h1.1v1.1h-1.1zM327.62 665.76h1.1v1.1h-1.1zM374.97 657.96h1.1v1.1h-1.1zM310.02 728.29h1.1v1.1h-1.1zM332.15 654.1h1.1v1.1h-1.1zM346.9 660.66h1.1v1.1h-1.1zM285.6 699.22h1.1v1.1h-1.1zM391.6 692.51h1.1v1.1h-1.1zM373.46 667.46h1.1v1.1h-1.1zM321.84 679.97h1.1v1.1h-1.1zM358.47 706.38h1.1v1.1h-1.1zM333.23 667.2h1.1v1.1h-1.1zM386.37 648.53h1.1v1.1h-1.1zM310.77 681.36h1.1v1.1h-1.1zM337.73 662.79h1.1v1.1h-1.1zM292.1 703.49h1.1v1.1h-1.1zM294.42 667.93h1.1v1.1h-1.1zM361.19 752.18h1.1v1.1h-1.1zM272.7 737.88h1.1v1.1h-1.1zM343.68 670.89h1.1v1.1h-1.1zM307.32 744.45h1.1v1.1h-1.1zM342.83 687.89h1.1v1.1h-1.1zM320.02 724.22h1.1v1.1h-1.1zM307.75 728.28h1.1v1.1h-1.1zM376.26 712.5h1.1v1.1h-1.1zM361.65 694.79h1.1v1.1h-1.1zM290.45 723.29h1.1v1.1h-1.1zM355.32 661.59h1.1v1.1h-1.1zM391.65 736.57h1.1v1.1h-1.1zM294.86 742.37h1.1v1.1h-1.1zM284.57 711.98h1.1v1.1h-1.1zM362.34 656h1.1v1.1h-1.1zM343.62 737.46h1.1v1.1h-1.1zM312.09 737.67h1.1v1.1h-1.1zM297.85 692.1h1.1v1.1h-1.1zM330.51 734.66h1.1v1.1h-1.1zM297.35 658.11h1.1v1.1h-1.1zM349.45 689.26h1.1v1.1h-1.1zM304.11 721.23h1.1v1.1h-1.1zM368.71 751.26h1.1v1.1h-1.1zM352.88 651.75h1.1v1.1h-1.1zM350.16 747.76h1.1v1.1h-1.1zM261.72 669.85h1.1v1.1h-1.1zM283.98 708.23h1.1v1.1h-1.1zM352.54 681.48h1.1v1.1h-1.1z" fill="#0000ff" fill-opacity="0.78"/>
<text class="c" x="227.6" y="788.8" textLength="15.53" lengthAdjust="spacingAndGlyphs" font-weight="bold">(k)</text>
<text class="c" x="254.56" y="788.8" textLength="45.52" lengthAdjust="spacingAndGlyphs">Vertical</text>
<text class="c" x="311.5" y="788.8" textLength="61.21" lengthAdjust="spacingAndGlyphs">correlation</text>
<text class="c" x="384.14" y="788.8" textLength="10.55" lengthAdjust="spacingAndGlyphs">of</text>
<text class="c" x="406.11" y="788.8" textLength="18.19" lengthAdjust="spacingAndGlyphs">the</text>
<text class="c" x="435.73" y="788.8" textLength="17.47" lengthAdjust="spacingAndGlyphs">en-</text>
<text class="c" x="228.2" y="803.65" textLength="43.34" lengthAdjust="spacingAndGlyphs">crypted</text>
<text class="c" x="284.87" y="803.65" textLength="33.48" lengthAdjust="spacingAndGlyphs">image</text>
<text class="c" x="331.68" y="803.65" textLength="29.91" lengthAdjust="spacingAndGlyphs">using</text>
<text class="c" x="374.92" y="803.65" textLength="18.19" lengthAdjust="spacingAndGlyphs">the</text>
<text class="c" x="406.45" y="803.65" textLength="51.05" lengthAdjust="spacingAndGlyphs">proposed</text>
<text class="c" x="228.2" y="818.5" textLength="40.83" lengthAdjust="spacingAndGlyphs">scheme</text>
<path d="M485.5 629V753.4H657.8" fill="none" stroke="#acacac" stroke-width="1"/>
<path d="M485.5 753.4v-1.9M514.22 753.4v-1.9M542.93 753.4v-1.9M571.65 753.4v-1.9M600.37 753.4v-1.9M629.08 753.4v-1.9M657.8 753.4v-1.9M485.5 753.4h1.9M485.5 732.75h1.9M485.5 712.1h1.9M485.5 691.45h1.9M485.5 670.8h1.9M485.5 650.15h1.9M485.5 629.5h1.9" stroke="#666" stroke-width="0.7"/>
<g transform="scale(1.08,1)" font-size="4.9" fill="#555555"><text x="449.54" y="760.7" text-anchor="middle">0</text><text x="476.13" y="760.7" text-anchor="middle">50</text><text x="502.72" y="760.7" text-anchor="middle">100</text><text x="529.31" y="760.7" text-anchor="middle">150</text><text x="555.9" y="760.7" text-anchor="middle">200</text><text x="582.48" y="760.7" text-anchor="middle">250</text><text x="609.07" y="760.7" text-anchor="middle">300</text><text x="447.31" y="755.6" text-anchor="end">0</text><text x="447.31" y="734.95" text-anchor="end">50</text><text x="447.31" y="714.3" text-anchor="end">100</text><text x="447.31" y="693.65" text-anchor="end">150</text><text x="447.31" y="673" text-anchor="end">200</text><text x="447.31" y="652.35" text-anchor="end">250</text><text x="447.31" y="631.7" text-anchor="end">300</text></g>
<text transform="translate(572.45,771.2) scale(1.05,1)" text-anchor="middle" font-weight="bold" font-size="8.45" fill="#353535">Pixel values at location (x,y)</text>
<text transform="translate(470,691.45) scale(1.08,0.98) rotate(-90)" text-anchor="middle" font-weight="bold" font-size="8.45" fill="#353535">Pixel values at location (x+1,y+1)</text>
<path d="M527.28 680.72h1.1v1.1h-1.1zM619.3 703.34h1.1v1.1h-1.1zM543.22 680.36h1.1v1.1h-1.1zM613.34 680.22h1.1v1.1h-1.1zM621.3 670.22h1.1v1.1h-1.1zM625.61 726.39h1.1v1.1h-1.1zM583.9 730.7h1.1v1.1h-1.1zM502.22 716.74h1.1v1.1h-1.1zM624.01 721.71h1.1v1.1h-1.1zM530.36 654.86h1.1v1.1h-1.1zM629.32 672.76h1.1v1.1h-1.1zM536.79 665.81h1.1v1.1h-1.1zM494.58 751.78h1.1v1.1h-1.1zM494.24 717.46h1.1v1.1h-1.1zM520.42 662.01h1.1v1.1h-1.1zM550.64 662.85h1.1v1.1h-1.1zM556.68 713.49h1.1v1.1h-1.1zM534.85 747.83h1.1v1.1h-1.1zM551.8 652.29h1.1v1.1h-1.1zM627.81 654.35h1.1v1.1h-1.1zM499.33 706.1h1.1v1.1h-1.1zM607.56 736.56h1.1v1.1h-1.1zM494.55 731.09h1.1v1.1h-1.1zM497.32 674.6h1.1v1.1h-1.1zM589.72 648.35h1.1v1.1h-1.1zM492.38 678.55h1.1v1.1h-1.1zM601.62 733.97h1.1v1.1h-1.1zM496.58 649.25h1.1v1.1h-1.1zM601.17 745.55h1.1v1.1h-1.1zM512.46 683.21h1.1v1.1h-1.1zM510.08 706.75h1.1v1.1h-1.1zM507 743.17h1.1v1.1h-1.1zM556.17 695.49h1.1v1.1h-1.1zM609.49 752.44h1.1v1.1h-1.1zM537.11 745.23h1.1v1.1h-1.1zM566.2 735.37h1.1v1.1h-1.1zM533.63 650.37h1.1v1.1h-1.1zM580.44 682.17h1.1v1.1h-1.1zM574 731.54h1.1v1.1h-1.1zM585.62 650.27h1.1v1.1h-1.1zM498.08 664.15h1.1v1.1h-1.1zM535.52 731.57h1.1v1.1h-1.1zM581.28 662.88h1.1v1.1h-1.1zM509.51 732.01h1.1v1.1h-1.1zM558.59 731.22h1.1v1.1h-1.1zM559.46 648.17h1.1v1.1h-1.1zM488.72 707.62h1.1v1.1h-1.1zM514.66 735.24h1.1v1.1h-1.1zM571.51 652.68h1.1v1.1h-1.1zM554.02 693.8h1.1v1.1h-1.1zM587.76 662.03h1.1v1.1h-1.1zM627.1 717.63h1.1v1.1h-1.1zM511.02 655.94h1.1v1.1h-1.1zM573.93 659.51h1.1v1.1h-1.1zM506.52 669.41h1.1v1.1h-1.1zM502.34 738.9h1.1v1.1h-1.1zM502.76 714.58h1.1v1.1h-1.1zM546.01 683.33h1.1v1.1h-1.1zM622.82 707.44h1.1v1.1h-1.1zM570.01 709.41h1.1v1.1h-1.1zM541.24 724.83h1.1v1.1h-1.1zM485.7 725.81h1.1v1.1h-1.1zM591.24 668.38h1.1v1.1h-1.1zM585.82 706.23h1.1v1.1h-1.1zM545.37 732.86h1.1v1.1h-1.1zM520.62 647.36h1.1v1.1h-1.1zM571.34 710.13h1.1v1.1h-1.1zM563.63 700.77h1.1v1.1h-1.1zM528.17 708.67h1.1v1.1h-1.1zM548.22 657.86h1.1v1.1h-1.1zM615.95 722.38h1.1v1.1h-1.1zM551.93 729.37h1.1v1.1h-1.1zM625.03 738.45h1.1v1.1h-1.1zM555.74 751.57h1.1v1.1h-1.1zM552.7 704.22h1.1v1.1h-1.1zM487.05 736.81h1.1v1.1h-1.1zM558.44 702.74h1.1v1.1h-1.1zM529.56 747.13h1.1v1.1h-1.1zM532.61 716.09h1.1v1.1h-1.1zM500.2 689.46h1.1v1.1h-1.1zM517.29 696.63h1.1v1.1h-1.1zM589.31 751.34h1.1v1.1h-1.1zM558.14 685.49h1.1v1.1h-1.1zM616.41 679.86h1.1v1.1h-1.1zM608.11 682.79h1.1v1.1h-1.1zM517.93 666.85h1.1v1.1h-1.1zM596.08 701.38h1.1v1.1h-1.1zM621.01 747.69h1.1v1.1h-1.1zM618.44 715.06h1.1v1.1h-1.1zM564.7 668.59h1.1v1.1h-1.1zM509.53 700.41h1.1v1.1h-1.1zM487.18 749.02h1.1v1.1h-1.1zM625.52 729.64h1.1v1.1h-1.1zM547.7 740.11h1.1v1.1h-1.1zM622 699.26h1.1v1.1h-1.1zM610.69 724.08h1.1v1.1h-1.1zM553.06 726.74h1.1v1.1h-1.1zM571.65 678.08h1.1v1.1h-1.1zM569.26 691.06h1.1v1.1h-1.1zM530.54 652.16h1.1v1.1h-1.1zM487.81 735.24h1.1v1.1h-1.1zM583.08 649.98h1.1v1.1h-1.1zM609.55 726.81h1.1v1.1h-1.1zM623.65 704.57h1.1v1.1h-1.1zM568.91 684.41h1.1v1.1h-1.1zM575.74 659.86h1.1v1.1h-1.1zM617.09 719.45h1.1v1.1h-1.1zM616.12 719.46h1.1v1.1h-1.1zM585.49 736.15h1.1v1.1h-1.1zM578.71 721.08h1.1v1.1h-1.1zM631.18 682.54h1.1v1.1h-1.1zM541.9 651.14h1.1v1.1h-1.1zM501.94 673.89h1.1v1.1h-1.1zM580.3 751.04h1.1v1.1h-1.1zM552.57 740.54h1.1v1.1h-1.1zM631.95 742.31h1.1v1.1h-1.1zM578.39 695.42h1.1v1.1h-1.1zM503.36 654.06h1.1v1.1h-1.1zM569.34 687.5h1.1v1.1h-1.1zM523.67 736.59h1.1v1.1h-1.1zM532.85 749.18h1.1v1.1h-1.1zM514.54 700.41h1.1v1.1h-1.1zM542.37 672.46h1.1v1.1h-1.1zM505.8 731.04h1.1v1.1h-1.1zM561.87 680.2h1.1v1.1h-1.1zM531.18 731h1.1v1.1h-1.1zM503.35 714.41h1.1v1.1h-1.1zM540.71 668.59h1.1v1.1h-1.1zM520.25 716.84h1.1v1.1h-1.1zM594.52 730.96h1.1v1.1h-1.1zM490.62 650.06h1.1v1.1h-1.1zM619.41 719.44h1.1v1.1h-1.1zM526.61 704.22h1.1v1.1h-1.1zM515.87 669.69h1.1v1.1h-1.1zM615.09 677.56h1.1v1.1h-1.1zM543.68 664.05h1.1v1.1h-1.1zM622.63 733.42h1.1v1.1h-1.1zM583.23 734.6h1.1v1.1h-1.1zM629.95 668.73h1.1v1.1h-1.1zM545.19 674.5h1.1v1.1h-1.1zM528.05 746.13h1.1v1.1h-1.1zM560.46 744.89h1.1v1.1h-1.1zM552.12 662.67h1.1v1.1h-1.1zM569.8 724.73h1.1v1.1h-1.1zM516.13 693.84h1.1v1.1h-1.1zM559.83 657.32h1.1v1.1h-1.1zM510.16 703.58h1.1v1.1h-1.1zM550.78 713.01h1.1v1.1h-1.1zM512.33 712.31h1.1v1.1h-1.1zM564.77 732.34h1.1v1.1h-1.1zM532.08 697.14h1.1v1.1h-1.1zM623.16 701.82h1.1v1.1h-1.1zM535.86 749.21h1.1v1.1h-1.1zM561.11 716.47h1.1v1.1h-1.1zM501.97 702.72h1.1v1.1h-1.1zM575.53 715.71h1.1v1.1h-1.1zM593.04 686.04h1.1v1.1h-1.1zM494.17 747.64h1.1v1.1h-1.1zM562.22 688.86h1.1v1.1h-1.1zM566.84 728.61h1.1v1.1h-1.1zM535.58 676.97h1.1v1.1h-1.1zM543.3 696.92h1.1v1.1h-1.1zM518.54 686.35h1.1v1.1h-1.1zM555.43 752.55h1.1v1.1h-1.1zM595.87 667.94h1.1v1.1h-1.1zM630.06 653.22h1.1v1.1h-1.1zM588.2 703.5h1.1v1.1h-1.1zM524.02 678.46h1.1v1.1h-1.1zM546.54 718.71h1.1v1.1h-1.1zM502.14 688.83h1.1v1.1h-1.1zM589.42 671.51h1.1v1.1h-1.1zM507.38 731.19h1.1v1.1h-1.1zM578.64 739.15h1.1v1.1h-1.1zM615.27 654.79h1.1v1.1h-1.1zM577.71 725.21h1.1v1.1h-1.1zM567.63 671.84h1.1v1.1h-1.1zM535.66 684.18h1.1v1.1h-1.1zM573.37 656.77h1.1v1.1h-1.1zM599.06 682.1h1.1v1.1h-1.1zM565.07 658.77h1.1v1.1h-1.1zM573.56 679.99h1.1v1.1h-1.1zM530.61 741.49h1.1v1.1h-1.1zM566.96 729.33h1.1v1.1h-1.1zM627.52 729.46h1.1v1.1h-1.1zM616.63 717.6h1.1v1.1h-1.1zM513.14 691.83h1.1v1.1h-1.1zM532.34 647.79h1.1v1.1h-1.1zM575.75 742.17h1.1v1.1h-1.1zM530.53 741.03h1.1v1.1h-1.1zM557.52 697.05h1.1v1.1h-1.1zM531.39 681.72h1.1v1.1h-1.1zM550.36 666.18h1.1v1.1h-1.1zM584.8 725.5h1.1v1.1h-1.1zM606.98 749.72h1.1v1.1h-1.1zM519.54 749.85h1.1v1.1h-1.1zM624.85 696.23h1.1v1.1h-1.1zM608.65 648.17h1.1v1.1h-1.1zM498.4 657.69h1.1v1.1h-1.1zM487.99 678.74h1.1v1.1h-1.1zM601.57 712.17h1.1v1.1h-1.1zM615.82 671.79h1.1v1.1h-1.1zM558.11 723.15h1.1v1.1h-1.1zM508.37 744.8h1.1v1.1h-1.1zM564.55 697.36h1.1v1.1h-1.1zM512.54 696.77h1.1v1.1h-1.1zM496.62 720.93h1.1v1.1h-1.1zM583.33 736.85h1.1v1.1h-1.1zM561.84 738.71h1.1v1.1h-1.1zM614.64 730.5h1.1v1.1h-1.1zM621.9 655.77h1.1v1.1h-1.1zM626.79 723h1.1v1.1h-1.1zM585.16 745.46h1.1v1.1h-1.1zM627.87 679.66h1.1v1.1h-1.1zM490.38 738.22h1.1v1.1h-1.1zM500.47 716.08h1.1v1.1h-1.1zM622.75 669.43h1.1v1.1h-1.1zM532.9 667.26h1.1v1.1h-1.1zM486.5 695.24h1.1v1.1h-1.1zM542.19 744.86h1.1v1.1h-1.1zM620.13 683.32h1.1v1.1h-1.1zM631.34 685.18h1.1v1.1h-1.1zM576.25 739.37h1.1v1.1h-1.1zM554.96 658.04h1.1v1.1h-1.1zM567.09 685.38h1.1v1.1h-1.1zM552.54 714.99h1.1v1.1h-1.1zM486.67 729.73h1.1v1.1h-1.1zM512.33 743.2h1.1v1.1h-1.1zM492.91 672.96h1.1v1.1h-1.1zM631.31 679.08h1.1v1.1h-1.1zM607.08 730.68h1.1v1.1h-1.1zM609.86 712.6h1.1v1.1h-1.1zM610.61 727.7h1.1v1.1h-1.1zM528.91 697.17h1.1v1.1h-1.1zM517.83 725.51h1.1v1.1h-1.1zM591.79 669.4h1.1v1.1h-1.1zM629.49 683.64h1.1v1.1h-1.1zM536.49 703.26h1.1v1.1h-1.1zM571.08 690.21h1.1v1.1h-1.1zM619.84 692.89h1.1v1.1h-1.1zM626.32 702.33h1.1v1.1h-1.1zM550.55 749.79h1.1v1.1h-1.1zM532.61 701.81h1.1v1.1h-1.1zM486.65 706.38h1.1v1.1h-1.1zM502 724.57h1.1v1.1h-1.1zM614.93 656.06h1.1v1.1h-1.1zM501.77 690.7h1.1v1.1h-1.1zM556.46 747.18h1.1v1.1h-1.1zM528.68 696.36h1.1v1.1h-1.1zM547.48 692.61h1.1v1.1h-1.1zM494.66 688.04h1.1v1.1h-1.1zM574.85 732.8h1.1v1.1h-1.1zM568.32 654.09h1.1v1.1h-1.1zM615.97 687.65h1.1v1.1h-1.1zM561.51 673.58h1.1v1.1h-1.1zM551.68 678.12h1.1v1.1h-1.1zM539.75 694.16h1.1v1.1h-1.1zM592.84 690.98h1.1v1.1h-1.1zM573.59 712.22h1.1v1.1h-1.1zM536.42 683.57h1.1v1.1h-1.1zM550.52 706.23h1.1v1.1h-1.1zM540.65 722.12h1.1v1.1h-1.1zM576.98 660.02h1.1v1.1h-1.1zM513.61 684.16h1.1v1.1h-1.1zM563.08 685.49h1.1v1.1h-1.1zM582.48 710.55h1.1v1.1h-1.1zM486.49 714.44h1.1v1.1h-1.1zM561.58 686.29h1.1v1.1h-1.1zM621.21 683.32h1.1v1.1h-1.1zM580.98 715.79h1.1v1.1h-1.1zM601.75 739.15h1.1v1.1h-1.1zM615.1 701.09h1.1v1.1h-1.1zM551.63 679.68h1.1v1.1h-1.1zM564.76 647.58h1.1v1.1h-1.1zM502.68 746.11h1.1v1.1h-1.1zM572.4 728.93h1.1v1.1h-1.1zM518.39 647.31h1.1v1.1h-1.1zM562.75 721.87h1.1v1.1h-1.1zM538.57 729.01h1.1v1.1h-1.1zM522.02 738.59h1.1v1.1h-1.1zM628.51 675.16h1.1v1.1h-1.1zM537.83 741.34h1.1v1.1h-1.1zM628.39 658.76h1.1v1.1h-1.1zM498.91 660.96h1.1v1.1h-1.1zM566.02 648.71h1.1v1.1h-1.1zM549.71 706.81h1.1v1.1h-1.1zM486.18 691.93h1.1v1.1h-1.1zM520.05 659.69h1.1v1.1h-1.1zM517.86 659.5h1.1v1.1h-1.1zM533.99 667.56h1.1v1.1h-1.1zM589.94 654.17h1.1v1.1h-1.1zM569.5 714.76h1.1v1.1h-1.1zM523.6 728.02h1.1v1.1h-1.1zM500.12 721.23h1.1v1.1h-1.1zM531.57 665.85h1.1v1.1h-1.1zM485.96 699.77h1.1v1.1h-1.1zM559.59 736.12h1.1v1.1h-1.1zM586.9 730.93h1.1v1.1h-1.1zM594.21 734.93h1.1v1.1h-1.1zM614.12 719.85h1.1v1.1h-1.1zM498.83 736.95h1.1v1.1h-1.1zM514.97 738.89h1.1v1.1h-1.1zM531.11 650.22h1.1v1.1h-1.1zM540.04 711.22h1.1v1.1h-1.1zM595.66 745.03h1.1v1.1h-1.1zM497.83 660.87h1.1v1.1h-1.1zM533.04 734.38h1.1v1.1h-1.1zM511.95 674.24h1.1v1.1h-1.1zM628.67 710.69h1.1v1.1h-1.1zM589.58 704.03h1.1v1.1h-1.1zM514.92 719.56h1.1v1.1h-1.1zM534.82 726.38h1.1v1.1h-1.1zM601.63 743.24h1.1v1.1h-1.1zM541.76 675.17h1.1v1.1h-1.1zM489.82 650.98h1.1v1.1h-1.1zM575.36 683.89h1.1v1.1h-1.1zM513.22 731.36h1.1v1.1h-1.1zM608.94 649.74h1.1v1.1h-1.1zM487.15 666.45h1.1v1.1h-1.1zM514.36 744.71h1.1v1.1h-1.1zM572.69 742.78h1.1v1.1h-1.1zM608.57 663.6h1.1v1.1h-1.1zM527.01 737.54h1.1v1.1h-1.1zM560.38 673.62h1.1v1.1h-1.1zM490.52 678.36h1.1v1.1h-1.1zM503.12 712.88h1.1v1.1h-1.1zM509.2 744.28h1.1v1.1h-1.1zM563.58 721.19h1.1v1.1h-1.1zM618.91 657.28h1.1v1.1h-1.1zM591.73 698.75h1.1v1.1h-1.1zM580.02 717.69h1.1v1.1h-1.1zM553.91 694.94h1.1v1.1h-1.1zM546.87 705.85h1.1v1.1h-1.1zM610.22 648.28h1.1v1.1h-1.1zM593.15 662.08h1.1v1.1h-1.1zM529.82 744.98h1.1v1.1h-1.1zM517.69 700h1.1v1.1h-1.1zM597.38 675.25h1.1v1.1h-1.1zM619.49 670.5h1.1v1.1h-1.1zM528.87 747.01h1.1v1.1h-1.1zM555.85 717.97h1.1v1.1h-1.1zM612.84 657.1h1.1v1.1h-1.1zM564.08 671.03h1.1v1.1h-1.1zM591.82 697.89h1.1v1.1h-1.1zM549.94 652.08h1.1v1.1h-1.1zM602.21 692.45h1.1v1.1h-1.1zM630.05 737.11h1.1v1.1h-1.1zM598.07 694.69h1.1v1.1h-1.1zM532.22 739.43h1.1v1.1h-1.1zM570.39 660.97h1.1v1.1h-1.1zM510.79 657.86h1.1v1.1h-1.1zM630.05 732.34h1.1v1.1h-1.1zM566.18 701.56h1.1v1.1h-1.1zM534.3 740.22h1.1v1.1h-1.1zM524.27 653.3h1.1v1.1h-1.1zM608.46 652.26h1.1v1.1h-1.1zM558.25 700.07h1.1v1.1h-1.1zM494.01 707.73h1.1v1.1h-1.1zM570.46 647.82h1.1v1.1h-1.1zM494.41 683.42h1.1v1.1h-1.1zM491.83 650.09h1.1v1.1h-1.1zM514.64 679.49h1.1v1.1h-1.1zM578.2 731.1h1.1v1.1h-1.1zM552.85 708.12h1.1v1.1h-1.1zM511.23 710.96h1.1v1.1h-1.1zM494.27 678.04h1.1v1.1h-1.1zM627.74 695.56h1.1v1.1h-1.1zM543.69 698.48h1.1v1.1h-1.1zM506.15 674.73h1.1v1.1h-1.1zM586.56 741.87h1.1v1.1h-1.1zM540.51 739.88h1.1v1.1h-1.1zM588.01 751.28h1.1v1.1h-1.1zM612.93 746h1.1v1.1h-1.1zM607.79 732.56h1.1v1.1h-1.1zM562.72 677.62h1.1v1.1h-1.1zM622.99 660.35h1.1v1.1h-1.1zM507.35 677.19h1.1v1.1h-1.1zM548.18 735.14h1.1v1.1h-1.1zM552.88 653.7h1.1v1.1h-1.1zM487.79 678.96h1.1v1.1h-1.1zM564.7 659.56h1.1v1.1h-1.1zM554.83 726.51h1.1v1.1h-1.1zM610.09 741.4h1.1v1.1h-1.1zM586.21 721.8h1.1v1.1h-1.1zM492.86 735.1h1.1v1.1h-1.1zM609.95 736.24h1.1v1.1h-1.1zM619.99 737.26h1.1v1.1h-1.1zM621.42 747.3h1.1v1.1h-1.1zM581.88 696.37h1.1v1.1h-1.1zM572.67 655.03h1.1v1.1h-1.1zM518.3 647.82h1.1v1.1h-1.1zM568.72 667.32h1.1v1.1h-1.1zM521.79 647.42h1.1v1.1h-1.1zM590.89 703.03h1.1v1.1h-1.1zM516.91 659.94h1.1v1.1h-1.1zM567.31 648.24h1.1v1.1h-1.1zM614.91 673.69h1.1v1.1h-1.1zM591.1 735.1h1.1v1.1h-1.1zM606.99 677.28h1.1v1.1h-1.1zM499.31 745.53h1.1v1.1h-1.1zM499.87 729.71h1.1v1.1h-1.1zM597.32 671.71h1.1v1.1h-1.1zM587.11 713.87h1.1v1.1h-1.1zM622.88 736.82h1.1v1.1h-1.1zM518.42 706.23h1.1v1.1h-1.1zM523.27 675.04h1.1v1.1h-1.1zM607.66 674.23h1.1v1.1h-1.1zM532.51 691.51h1.1v1.1h-1.1zM531.27 694.81h1.1v1.1h-1.1zM563.02 736.71h1.1v1.1h-1.1zM609.2 666.95h1.1v1.1h-1.1zM599.29 743.17h1.1v1.1h-1.1zM519.33 673.63h1.1v1.1h-1.1zM603.68 687.56h1.1v1.1h-1.1zM622.13 707.79h1.1v1.1h-1.1zM518.3 702.7h1.1v1.1h-1.1zM529.28 712.59h1.1v1.1h-1.1zM599.97 718.66h1.1v1.1h-1.1zM589.75 690.14h1.1v1.1h-1.1zM488.14 698.88h1.1v1.1h-1.1zM612.44 684.38h1.1v1.1h-1.1zM610.11 685.28h1.1v1.1h-1.1zM631.2 748.75h1.1v1.1h-1.1zM547.47 731.96h1.1v1.1h-1.1zM596.18 721.75h1.1v1.1h-1.1zM582.7 683.55h1.1v1.1h-1.1zM487.47 687.9h1.1v1.1h-1.1zM533.34 726.11h1.1v1.1h-1.1zM579.86 686.03h1.1v1.1h-1.1zM516.37 677.68h1.1v1.1h-1.1zM495.99 747.02h1.1v1.1h-1.1zM615.45 654.7h1.1v1.1h-1.1zM624.17 647.68h1.1v1.1h-1.1zM593.89 692.71h1.1v1.1h-1.1zM562.81 696.28h1.1v1.1h-1.1zM623.67 650.64h1.1v1.1h-1.1zM549.04 731.53h1.1v1.1h-1.1zM564.02 708.11h1.1v1.1h-1.1zM603.91 655.35h1.1v1.1h-1.1zM576.09 744.18h1.1v1.1h-1.1zM563.52 739.25h1.1v1.1h-1.1zM563.87 666.29h1.1v1.1h-1.1zM583.91 703.4h1.1v1.1h-1.1zM508.18 654.4h1.1v1.1h-1.1zM613.07 701.22h1.1v1.1h-1.1zM492.64 681.32h1.1v1.1h-1.1zM543.91 710.84h1.1v1.1h-1.1zM540.58 723.78h1.1v1.1h-1.1zM505.6 684.09h1.1v1.1h-1.1zM561.16 707.29h1.1v1.1h-1.1zM595.28 699.7h1.1v1.1h-1.1zM508.74 724.52h1.1v1.1h-1.1zM567.08 682.4h1.1v1.1h-1.1zM578.1 673.98h1.1v1.1h-1.1zM537.52 671.78h1.1v1.1h-1.1zM570.66 725.96h1.1v1.1h-1.1zM503.38 686.67h1.1v1.1h-1.1zM609.51 652.33h1.1v1.1h-1.1zM605.01 665.85h1.1v1.1h-1.1zM571.69 726.9h1.1v1.1h-1.1zM528.52 661.76h1.1v1.1h-1.1zM525.12 701.66h1.1v1.1h-1.1zM565.69 750.97h1.1v1.1h-1.1zM501.31 731.71h1.1v1.1h-1.1zM601.99 669.82h1.1v1.1h-1.1zM497.8 735.69h1.1v1.1h-1.1zM630.01 735.32h1.1v1.1h-1.1zM602.56 690.85h1.1v1.1h-1.1zM613.16 674.94h1.1v1.1h-1.1zM499.26 671.51h1.1v1.1h-1.1zM590.12 748.44h1.1v1.1h-1.1zM623.48 721.94h1.1v1.1h-1.1zM553.23 697.38h1.1v1.1h-1.1zM566.6 692.58h1.1v1.1h-1.1zM494.61 662.61h1.1v1.1h-1.1zM561.89 742.44h1.1v1.1h-1.1zM558.85 732.83h1.1v1.1h-1.1zM548.43 676.81h1.1v1.1h-1.1zM595.77 735.76h1.1v1.1h-1.1zM527.24 650.46h1.1v1.1h-1.1zM577.35 733.22h1.1v1.1h-1.1zM574.6 726.63h1.1v1.1h-1.1zM495.86 683.26h1.1v1.1h-1.1zM501.43 738.01h1.1v1.1h-1.1zM584.66 650.66h1.1v1.1h-1.1zM495.06 673.65h1.1v1.1h-1.1zM505.94 746.65h1.1v1.1h-1.1zM487.4 750.72h1.1v1.1h-1.1zM592.41 656.92h1.1v1.1h-1.1zM486.86 736.96h1.1v1.1h-1.1zM491.9 709.81h1.1v1.1h-1.1zM532.31 732.54h1.1v1.1h-1.1zM604.84 741.8h1.1v1.1h-1.1zM577.92 737.67h1.1v1.1h-1.1zM581.09 739.18h1.1v1.1h-1.1zM513.91 648.28h1.1v1.1h-1.1zM524.13 705.16h1.1v1.1h-1.1zM582.1 647.23h1.1v1.1h-1.1zM565.69 740.55h1.1v1.1h-1.1zM583.27 680.58h1.1v1.1h-1.1zM570.86 712.15h1.1v1.1h-1.1zM605.51 746.17h1.1v1.1h-1.1zM565.28 695.35h1.1v1.1h-1.1zM619.92 670.45h1.1v1.1h-1.1zM520.16 712.35h1.1v1.1h-1.1zM572.58 712.66h1.1v1.1h-1.1zM494.18 647.9h1.1v1.1h-1.1zM551.76 738.04h1.1v1.1h-1.1zM507.4 751.25h1.1v1.1h-1.1zM618.88 738.07h1.1v1.1h-1.1zM567.8 652.96h1.1v1.1h-1.1zM597.87 690.33h1.1v1.1h-1.1zM526.8 681.61h1.1v1.1h-1.1zM603.58 730.98h1.1v1.1h-1.1zM518.55 709.36h1.1v1.1h-1.1zM572.92 658.78h1.1v1.1h-1.1zM571.86 724.62h1.1v1.1h-1.1zM591.61 736.96h1.1v1.1h-1.1zM500.72 751.85h1.1v1.1h-1.1zM569.7 691.7h1.1v1.1h-1.1zM553.26 694.3h1.1v1.1h-1.1zM512.58 730.61h1.1v1.1h-1.1zM570.96 710.19h1.1v1.1h-1.1zM558.35 656.15h1.1v1.1h-1.1zM553.66 674.19h1.1v1.1h-1.1zM493.87 700.98h1.1v1.1h-1.1zM492.87 731.87h1.1v1.1h-1.1zM512.67 712.24h1.1v1.1h-1.1zM508.33 654.07h1.1v1.1h-1.1zM529.14 720.67h1.1v1.1h-1.1zM495.4 713.83h1.1v1.1h-1.1zM600.24 695.1h1.1v1.1h-1.1zM616.35 687.59h1.1v1.1h-1.1zM579.63 707.7h1.1v1.1h-1.1zM607.77 705.29h1.1v1.1h-1.1zM505.44 729.14h1.1v1.1h-1.1zM602.17 746.74h1.1v1.1h-1.1zM511.48 686.56h1.1v1.1h-1.1zM585.28 703.61h1.1v1.1h-1.1zM580.87 708.46h1.1v1.1h-1.1zM571.66 748.76h1.1v1.1h-1.1zM545.54 649.88h1.1v1.1h-1.1zM569.52 716.82h1.1v1.1h-1.1zM576.58 649.63h1.1v1.1h-1.1zM553.41 708.85h1.1v1.1h-1.1zM605.74 662.9h1.1v1.1h-1.1zM518.2 682.18h1.1v1.1h-1.1zM528.88 715.48h1.1v1.1h-1.1zM603.01 714.5h1.1v1.1h-1.1zM619.4 701.44h1.1v1.1h-1.1zM612.46 739.21h1.1v1.1h-1.1zM544.41 749.28h1.1v1.1h-1.1zM611.12 658.79h1.1v1.1h-1.1zM556.39 703.71h1.1v1.1h-1.1zM627.63 711.98h1.1v1.1h-1.1zM529.94 738.31h1.1v1.1h-1.1zM620.06 668.02h1.1v1.1h-1.1zM562.44 675.72h1.1v1.1h-1.1zM607.84 682.14h1.1v1.1h-1.1zM500.88 684.28h1.1v1.1h-1.1zM613.12 702.58h1.1v1.1h-1.1zM547.76 684.72h1.1v1.1h-1.1zM512.99 729.04h1.1v1.1h-1.1zM584.96 647.83h1.1v1.1h-1.1zM501.67 682.55h1.1v1.1h-1.1zM558.96 748.87h1.1v1.1h-1.1zM508.68 720.59h1.1v1.1h-1.1zM586.74 738.82h1.1v1.1h-1.1zM539.85 687.25h1.1v1.1h-1.1zM595.92 647.57h1.1v1.1h-1.1zM608.14 732.63h1.1v1.1h-1.1zM567.17 688.77h1.1v1.1h-1.1zM566.18 689.71h1.1v1.1h-1.1zM541.24 727.68h1.1v1.1h-1.1zM583.05 660.51h1.1v1.1h-1.1zM585.26 683.28h1.1v1.1h-1.1zM625.77 726.02h1.1v1.1h-1.1zM569.48 665.4h1.1v1.1h-1.1zM580.91 752.72h1.1v1.1h-1.1zM560.07 666.5h1.1v1.1h-1.1zM514.72 711.22h1.1v1.1h-1.1zM629.4 704.83h1.1v1.1h-1.1zM564.84 689.68h1.1v1.1h-1.1zM609.9 704.67h1.1v1.1h-1.1zM617.06 678.31h1.1v1.1h-1.1zM543.96 687.82h1.1v1.1h-1.1zM529.11 747.37h1.1v1.1h-1.1zM556.3 748.01h1.1v1.1h-1.1zM528.91 663.7h1.1v1.1h-1.1zM627.65 731.92h1.1v1.1h-1.1zM509.34 715.5h1.1v1.1h-1.1zM551.19 737.86h1.1v1.1h-1.1zM603.56 736.22h1.1v1.1h-1.1zM564.25 724.08h1.1v1.1h-1.1zM580.03 740.56h1.1v1.1h-1.1zM557.59 663.21h1.1v1.1h-1.1zM487.42 732.41h1.1v1.1h-1.1zM495.57 664.46h1.1v1.1h-1.1zM583.56 727.25h1.1v1.1h-1.1zM617.28 734.56h1.1v1.1h-1.1zM556.78 675.68h1.1v1.1h-1.1zM573.32 745.89h1.1v1.1h-1.1zM491.89 733.38h1.1v1.1h-1.1zM623.99 657.81h1.1v1.1h-1.1zM529.13 747.78h1.1v1.1h-1.1zM578.28 731.89h1.1v1.1h-1.1zM616.1 655.73h1.1v1.1h-1.1zM599.93 670.71h1.1v1.1h-1.1zM599.42 664.9h1.1v1.1h-1.1zM540.78 676.52h1.1v1.1h-1.1zM486.82 679.42h1.1v1.1h-1.1zM550.36 648.78h1.1v1.1h-1.1zM600.44 704.97h1.1v1.1h-1.1zM588.89 690.97h1.1v1.1h-1.1zM575.65 752h1.1v1.1h-1.1zM518.01 725.63h1.1v1.1h-1.1zM588.36 655.98h1.1v1.1h-1.1zM577.35 672.69h1.1v1.1h-1.1zM578.47 737.42h1.1v1.1h-1.1zM522.48 691.36h1.1v1.1h-1.1zM595.8 708.52h1.1v1.1h-1.1zM587.12 717.51h1.1v1.1h-1.1zM531.24 734.99h1.1v1.1h-1.1zM545.8 691.55h1.1v1.1h-1.1zM501.1 654.52h1.1v1.1h-1.1zM486.18 675.53h1.1v1.1h-1.1zM535.94 653.69h1.1v1.1h-1.1zM527.09 750.14h1.1v1.1h-1.1zM586.48 712.85h1.1v1.1h-1.1zM605.24 682.36h1.1v1.1h-1.1zM549.81 682.98h1.1v1.1h-1.1zM585.12 718.1h1.1v1.1h-1.1zM513.6 683.76h1.1v1.1h-1.1zM568.62 747.82h1.1v1.1h-1.1zM508.75 707.31h1.1v1.1h-1.1zM498.17 697.39h1.1v1.1h-1.1zM543.07 721.6h1.1v1.1h-1.1zM595.32 674.83h1.1v1.1h-1.1zM494.8 689.74h1.1v1.1h-1.1zM630.9 688.73h1.1v1.1h-1.1zM629.76 728.26h1.1v1.1h-1.1zM517.43 718.27h1.1v1.1h-1.1zM519.43 735.97h1.1v1.1h-1.1zM522.4 699.88h1.1v1.1h-1.1zM604.28 671.17h1.1v1.1h-1.1zM490.8 671.8h1.1v1.1h-1.1zM578.77 724.72h1.1v1.1h-1.1zM485.96 661.95h1.1v1.1h-1.1zM504.74 726h1.1v1.1h-1.1zM529.67 668.64h1.1v1.1h-1.1zM623.94 656.04h1.1v1.1h-1.1zM609.84 663.47h1.1v1.1h-1.1zM554.38 746.92h1.1v1.1h-1.1zM519.49 737.99h1.1v1.1h-1.1zM501.98 738.61h1.1v1.1h-1.1zM531.86 747.53h1.1v1.1h-1.1zM528.36 662.4h1.1v1.1h-1.1zM520.49 699.05h1.1v1.1h-1.1zM610.06 751.2h1.1v1.1h-1.1zM591.86 695.44h1.1v1.1h-1.1zM489.39 658.68h1.1v1.1h-1.1zM601.89 742.13h1.1v1.1h-1.1zM626.29 691.84h1.1v1.1h-1.1zM578.32 730.39h1.1v1.1h-1.1zM489.45 678.29h1.1v1.1h-1.1zM589.82 733.68h1.1v1.1h-1.1zM489.96 692.1h1.1v1.1h-1.1zM530.22 716.41h1.1v1.1h-1.1zM612.58 693.06h1.1v1.1h-1.1zM502.29 678.95h1.1v1.1h-1.1zM590.89 692.8h1.1v1.1h-1.1zM625.15 702.55h1.1v1.1h-1.1zM580.5 746.95h1.1v1.1h-1.1zM529.21 721.13h1.1v1.1h-1.1zM548.13 698.8h1.1v1.1h-1.1zM501.81 679.79h1.1v1.1h-1.1zM492.96 726.18h1.1v1.1h-1.1zM570.99 750.29h1.1v1.1h-1.1zM533.29 667.28h1.1v1.1h-1.1zM592.51 713.14h1.1v1.1h-1.1zM509.5 673.53h1.1v1.1h-1.1zM612.75 744.25h1.1v1.1h-1.1zM546.46 694.95h1.1v1.1h-1.1zM586.87 731.41h1.1v1.1h-1.1zM605.84 688.46h1.1v1.1h-1.1zM602.39 652.61h1.1v1.1h-1.1zM585.44 681.96h1.1v1.1h-1.1zM528.69 723.97h1.1v1.1h-1.1zM539.89 667.15h1.1v1.1h-1.1zM572.57 723.41h1.1v1.1h-1.1zM617.65 698.21h1.1v1.1h-1.1zM628.87 683.8h1.1v1.1h-1.1zM593.01 716.4h1.1v1.1h-1.1zM630.76 702.14h1.1v1.1h-1.1zM584 710.19h1.1v1.1h-1.1zM561.84 734.18h1.1v1.1h-1.1zM539.11 709.15h1.1v1.1h-1.1zM594.17 736.1h1.1v1.1h-1.1zM514.03 684.79h1.1v1.1h-1.1zM554.56 659.6h1.1v1.1h-1.1zM487.82 706.06h1.1v1.1h-1.1zM607.19 673.02h1.1v1.1h-1.1zM536.83 698.27h1.1v1.1h-1.1zM543.32 752.32h1.1v1.1h-1.1zM496.89 728.71h1.1v1.1h-1.1zM613.19 732.55h1.1v1.1h-1.1zM526.92 693.87h1.1v1.1h-1.1zM587.45 684.31h1.1v1.1h-1.1zM530.41 716.77h1.1v1.1h-1.1zM486.85 668.86h1.1v1.1h-1.1zM540.4 722.01h1.1v1.1h-1.1zM515.42 700.68h1.1v1.1h-1.1zM506.98 718.41h1.1v1.1h-1.1zM500.42 732.72h1.1v1.1h-1.1zM562.5 718.17h1.1v1.1h-1.1zM500.72 660.68h1.1v1.1h-1.1zM493.7 709.2h1.1v1.1h-1.1zM528.03 746.74h1.1v1.1h-1.1zM528.44 706.21h1.1v1.1h-1.1zM586.27 725.45h1.1v1.1h-1.1zM540.73 657.64h1.1v1.1h-1.1zM578.27 705.76h1.1v1.1h-1.1zM516.15 669.78h1.1v1.1h-1.1zM621.77 727.5h1.1v1.1h-1.1zM610.04 713.31h1.1v1.1h-1.1zM555.35 750.13h1.1v1.1h-1.1zM520.63 727.41h1.1v1.1h-1.1zM514.75 665.52h1.1v1.1h-1.1zM624.77 719.15h1.1v1.1h-1.1zM602.89 720.99h1.1v1.1h-1.1zM570.38 732.29h1.1v1.1h-1.1zM618.63 698.36h1.1v1.1h-1.1zM571.75 668.88h1.1v1.1h-1.1zM561.95 701.05h1.1v1.1h-1.1zM589.59 702.71h1.1v1.1h-1.1zM569.7 721.24h1.1v1.1h-1.1zM507.38 729.24h1.1v1.1h-1.1zM627.74 690.42h1.1v1.1h-1.1zM487.64 733.03h1.1v1.1h-1.1zM570.7 698.8h1.1v1.1h-1.1zM630.37 657.35h1.1v1.1h-1.1zM495.43 667.63h1.1v1.1h-1.1zM629.49 673.98h1.1v1.1h-1.1zM625.1 712.58h1.1v1.1h-1.1zM577.45 680.43h1.1v1.1h-1.1zM602.08 677.1h1.1v1.1h-1.1zM605.57 717.18h1.1v1.1h-1.1zM601.87 689.74h1.1v1.1h-1.1zM626.27 718.6h1.1v1.1h-1.1zM576.06 661.83h1.1v1.1h-1.1zM596.69 679.12h1.1v1.1h-1.1zM506.38 736.41h1.1v1.1h-1.1zM531.71 683.92h1.1v1.1h-1.1zM489.76 683.11h1.1v1.1h-1.1zM502.59 732.4h1.1v1.1h-1.1zM525.76 694.86h1.1v1.1h-1.1zM590.53 652.75h1.1v1.1h-1.1zM518.55 743.8h1.1v1.1h-1.1zM611.05 690.49h1.1v1.1h-1.1zM620.08 677.21h1.1v1.1h-1.1zM504.08 714.56h1.1v1.1h-1.1zM517.18 705.26h1.1v1.1h-1.1zM526.93 661.77h1.1v1.1h-1.1zM616.67 732.84h1.1v1.1h-1.1zM631.95 651.11h1.1v1.1h-1.1zM541.6 660.42h1.1v1.1h-1.1zM624.04 675.19h1.1v1.1h-1.1zM538.32 686.3h1.1v1.1h-1.1zM597.69 716.95h1.1v1.1h-1.1zM554.83 743.43h1.1v1.1h-1.1zM507.92 668.74h1.1v1.1h-1.1zM530.33 678.59h1.1v1.1h-1.1zM548.08 677.68h1.1v1.1h-1.1zM526.92 743.67h1.1v1.1h-1.1zM583.09 725.68h1.1v1.1h-1.1zM515.02 703.86h1.1v1.1h-1.1zM557.9 658.69h1.1v1.1h-1.1zM587.43 706.8h1.1v1.1h-1.1zM549.77 689.43h1.1v1.1h-1.1zM504.01 721.32h1.1v1.1h-1.1zM573.73 653.52h1.1v1.1h-1.1zM573.32 730.67h1.1v1.1h-1.1zM627.2 668.68h1.1v1.1h-1.1zM517.7 713.91h1.1v1.1h-1.1zM489.88 672.28h1.1v1.1h-1.1zM517.02 665.47h1.1v1.1h-1.1zM590.48 670.78h1.1v1.1h-1.1zM567.95 727.18h1.1v1.1h-1.1zM490.25 690.01h1.1v1.1h-1.1zM486.88 697.96h1.1v1.1h-1.1zM598.75 738.01h1.1v1.1h-1.1zM549.18 695.64h1.1v1.1h-1.1zM507.12 731.53h1.1v1.1h-1.1zM574.71 734.5h1.1v1.1h-1.1zM507.34 729.5h1.1v1.1h-1.1zM622.7 657.97h1.1v1.1h-1.1zM501.32 692.26h1.1v1.1h-1.1zM545.4 749.59h1.1v1.1h-1.1zM521.9 684.08h1.1v1.1h-1.1zM487.82 651.52h1.1v1.1h-1.1zM526.94 716.08h1.1v1.1h-1.1zM624.49 738.11h1.1v1.1h-1.1zM504.16 702.91h1.1v1.1h-1.1zM531 719.13h1.1v1.1h-1.1zM570.62 652.4h1.1v1.1h-1.1zM545.96 748.21h1.1v1.1h-1.1zM539.79 662.69h1.1v1.1h-1.1zM548.56 746.41h1.1v1.1h-1.1zM521.66 728.87h1.1v1.1h-1.1zM536.51 719.21h1.1v1.1h-1.1zM583.59 676.82h1.1v1.1h-1.1zM491.52 737.46h1.1v1.1h-1.1zM605.83 660.28h1.1v1.1h-1.1zM600.87 734.11h1.1v1.1h-1.1zM586.82 744.89h1.1v1.1h-1.1zM584.24 729.44h1.1v1.1h-1.1zM608.42 663.69h1.1v1.1h-1.1zM553.65 676.14h1.1v1.1h-1.1zM623.84 658.42h1.1v1.1h-1.1zM580.13 687.73h1.1v1.1h-1.1zM537.42 680.59h1.1v1.1h-1.1z" fill="#0000ff" fill-opacity="0.78"/>
<text class="c" x="455.8" y="788.8" textLength="12.52" lengthAdjust="spacingAndGlyphs" font-weight="bold">(l)</text>
<text class="c" x="479.3" y="788.8" textLength="50.76" lengthAdjust="spacingAndGlyphs">Diagonal</text>
<text class="c" x="541.04" y="788.8" textLength="61.21" lengthAdjust="spacingAndGlyphs">correlation</text>
<text class="c" x="613.23" y="788.8" textLength="10.55" lengthAdjust="spacingAndGlyphs">of</text>
<text class="c" x="634.76" y="788.8" textLength="18.19" lengthAdjust="spacingAndGlyphs">the</text>
<text class="c" x="663.93" y="788.8" textLength="17.47" lengthAdjust="spacingAndGlyphs">en-</text>
<text class="c" x="456.4" y="803.65" textLength="43.34" lengthAdjust="spacingAndGlyphs">crypted</text>
<text class="c" x="513.07" y="803.65" textLength="33.48" lengthAdjust="spacingAndGlyphs">image</text>
<text class="c" x="559.88" y="803.65" textLength="29.91" lengthAdjust="spacingAndGlyphs">using</text>
<text class="c" x="603.12" y="803.65" textLength="18.19" lengthAdjust="spacingAndGlyphs">the</text>
<text class="c" x="634.65" y="803.65" textLength="51.05" lengthAdjust="spacingAndGlyphs">proposed</text>
<text class="c" x="456.4" y="818.5" textLength="40.83" lengthAdjust="spacingAndGlyphs">scheme</text>
</svg></body></html>
